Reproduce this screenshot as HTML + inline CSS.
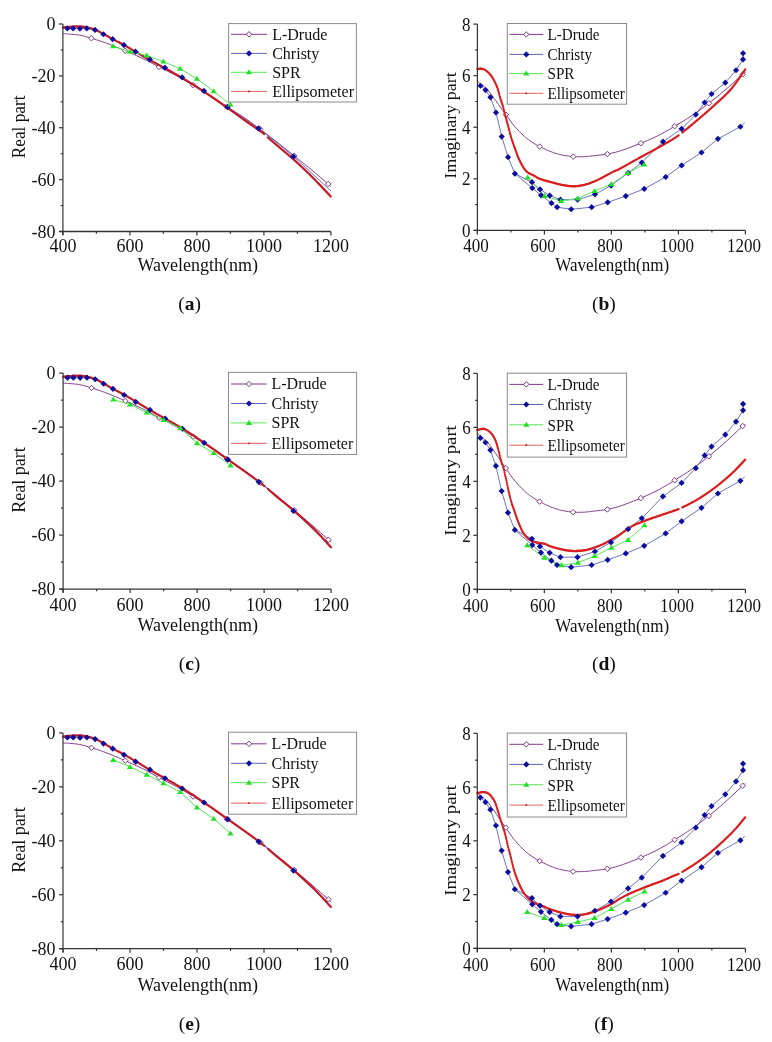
<!DOCTYPE html><html><head><meta charset="utf-8"><style>html,body{margin:0;padding:0;background:#fff;width:772px;height:1042px;overflow:hidden}svg{display:block;will-change:transform}text{font-family:"Liberation Serif",serif;fill:#111}</style></head><body><svg width="772" height="1042" viewBox="0 0 772 1042"><g><path d="M62.90,33.65 L63.39,33.68 L64.03,33.71 L64.77,33.74 L65.62,33.79 L66.55,33.84 L67.53,33.90 L68.56,33.98 L69.60,34.06 L70.68,34.15 L71.84,34.24 L73.05,34.33 L74.31,34.44 L75.61,34.57 L76.94,34.72 L78.29,34.92 L79.65,35.15 L81.01,35.43 L82.38,35.75 L83.78,36.09 L85.20,36.47 L86.66,36.88 L88.17,37.31 L89.74,37.78 L91.38,38.27 L93.07,38.78 L94.82,39.31 L96.62,39.87 L98.47,40.45 L100.38,41.08 L102.34,41.74 L104.37,42.44 L106.45,43.19 L108.62,44.01 L110.90,44.88 L113.24,45.80 L115.64,46.76 L118.06,47.74 L120.48,48.74 L122.87,49.73 L125.21,50.72 L127.52,51.70 L129.84,52.69 L132.16,53.69 L134.46,54.70 L136.74,55.72 L138.98,56.73 L141.17,57.75 L143.30,58.76 L145.34,59.75 L147.28,60.74 L149.16,61.73 L151.00,62.71 L152.85,63.71 L154.73,64.71 L156.67,65.74 L158.71,66.80 L160.85,67.88 L163.08,68.99 L165.37,70.11 L167.69,71.25 L170.02,72.41 L172.33,73.56 L174.60,74.72 L176.80,75.88 L178.93,77.02 L181.01,78.17 L183.05,79.31 L185.07,80.46 L187.08,81.62 L189.10,82.80 L191.14,83.99 L193.22,85.21 L195.33,86.46 L197.46,87.72 L199.62,89.00 L201.78,90.30 L203.94,91.61 L206.08,92.93 L208.21,94.26 L210.30,95.59 L212.35,96.92 L214.36,98.27 L216.34,99.63 L218.32,101.00 L220.30,102.37 L222.29,103.75 L224.31,105.12 L226.38,106.48 L228.50,107.84 L230.67,109.19 L232.87,110.53 L235.09,111.88 L237.31,113.23 L239.51,114.60 L241.68,115.98 L243.80,117.38 L245.86,118.79 L247.88,120.20 L249.87,121.63 L251.84,123.07 L253.81,124.52 L255.80,126.00 L257.82,127.51 L259.88,129.05 L262.00,130.62 L264.16,132.24 L266.34,133.88 L268.55,135.55 L270.76,137.23 L272.96,138.91 L275.15,140.60 L277.30,142.28 L279.43,143.95 L281.53,145.63 L283.63,147.31 L285.72,149.00 L287.80,150.69 L289.88,152.38 L291.96,154.07 L294.05,155.76 L296.14,157.44 L298.22,159.10 L300.30,160.76 L302.38,162.43 L304.47,164.10 L306.57,165.79 L308.67,167.50 L310.80,169.25 L313.05,171.12 L315.45,173.15 L317.93,175.25 L320.39,177.34 L322.74,179.35 L324.89,181.18 L326.74,182.77 L328.22,184.03 L329.28,184.94 L329.99,185.55 L330.42,185.92 L330.65,186.13 L330.74,186.21 L330.76,186.24 L330.79,186.27 L330.90,186.37" fill="none" stroke="#80388a" stroke-width="1"/>
<path d="M91.38,35.52 l2.75,2.75 l-2.75,2.75 l-2.75,-2.75 z" fill="#fff" stroke="#80388a" stroke-width="1.0"/>
<path d="M125.21,47.97 l2.75,2.75 l-2.75,2.75 l-2.75,-2.75 z" fill="#fff" stroke="#80388a" stroke-width="1.0"/>
<path d="M158.88,64.13 l2.75,2.75 l-2.75,2.75 l-2.75,-2.75 z" fill="#fff" stroke="#80388a" stroke-width="1.0"/>
<path d="M193.05,82.36 l2.75,2.75 l-2.75,2.75 l-2.75,-2.75 z" fill="#fff" stroke="#80388a" stroke-width="1.0"/>
<path d="M226.55,103.84 l2.75,2.75 l-2.75,2.75 l-2.75,-2.75 z" fill="#fff" stroke="#80388a" stroke-width="1.0"/>
<path d="M260.21,126.55 l2.75,2.75 l-2.75,2.75 l-2.75,-2.75 z" fill="#fff" stroke="#80388a" stroke-width="1.0"/>
<path d="M294.22,153.15 l2.75,2.75 l-2.75,2.75 l-2.75,-2.75 z" fill="#fff" stroke="#80388a" stroke-width="1.0"/>
<path d="M328.22,181.28 l2.75,2.75 l-2.75,2.75 l-2.75,-2.75 z" fill="#fff" stroke="#80388a" stroke-width="1.0"/>
<path d="M67.36,28.41 L67.79,28.41 L68.37,28.40 L69.05,28.39 L69.81,28.39 L70.63,28.38 L71.47,28.38 L72.31,28.38 L73.12,28.38 L73.92,28.40 L74.75,28.42 L75.60,28.45 L76.47,28.48 L77.34,28.51 L78.22,28.54 L79.09,28.56 L79.95,28.56 L80.80,28.55 L81.63,28.51 L82.47,28.46 L83.30,28.40 L84.14,28.36 L85.01,28.34 L85.90,28.35 L86.82,28.41 L87.78,28.50 L88.77,28.60 L89.79,28.73 L90.83,28.88 L91.88,29.07 L92.93,29.30 L93.98,29.58 L95.03,29.91 L96.06,30.32 L97.09,30.78 L98.12,31.31 L99.15,31.87 L100.19,32.45 L101.24,33.06 L102.31,33.66 L103.40,34.25 L104.50,34.82 L105.61,35.41 L106.73,36.00 L107.86,36.60 L109.02,37.21 L110.20,37.84 L111.42,38.48 L112.68,39.15 L113.99,39.83 L115.34,40.53 L116.73,41.25 L118.15,41.98 L119.58,42.73 L121.02,43.49 L122.47,44.26 L123.90,45.04 L125.32,45.82 L126.72,46.61 L128.12,47.41 L129.52,48.23 L130.95,49.05 L132.42,49.90 L133.94,50.76 L135.53,51.65 L137.18,52.56 L138.90,53.50 L140.66,54.45 L142.46,55.43 L144.29,56.41 L146.14,57.41 L147.99,58.41 L149.83,59.40 L151.67,60.40 L153.50,61.39 L155.33,62.38 L157.19,63.39 L159.06,64.41 L160.97,65.45 L162.91,66.52 L164.91,67.63 L166.93,68.75 L168.96,69.89 L171.02,71.03 L173.11,72.21 L175.26,73.43 L177.48,74.70 L179.77,76.04 L182.16,77.46 L184.65,78.95 L187.25,80.51 L189.92,82.13 L192.66,83.81 L195.45,85.53 L198.28,87.30 L201.12,89.11 L203.97,90.94 L206.79,92.80 L209.60,94.68 L212.41,96.58 L215.26,98.53 L218.19,100.55 L221.21,102.64 L224.37,104.82 L227.69,107.10 L231.18,109.48 L234.81,111.92 L238.56,114.44 L242.43,117.04 L246.37,119.73 L250.39,122.53 L254.45,125.43 L258.54,128.45 L262.67,131.58 L266.88,134.82 L271.14,138.16 L275.47,141.61 L279.85,145.15 L284.27,148.80 L288.74,152.56 L293.25,156.41 L298.07,160.65 L303.33,165.39 L308.81,170.40 L314.24,175.43 L319.41,180.24 L324.06,184.60 L327.97,188.25 L330.90,190.96" fill="none" stroke="#5a64b4" stroke-width="0.9"/>
<path d="M62.90,27.63 L63.22,27.60 L63.63,27.56 L64.10,27.51 L64.64,27.45 L65.22,27.39 L65.83,27.33 L66.47,27.27 L67.12,27.20 L67.77,27.14 L68.41,27.08 L69.02,27.03 L69.60,26.98 L70.16,26.94 L70.72,26.90 L71.28,26.85 L71.83,26.81 L72.39,26.77 L72.95,26.73 L73.51,26.70 L74.07,26.67 L74.62,26.64 L75.18,26.62 L75.74,26.60 L76.30,26.59 L76.87,26.59 L77.45,26.59 L78.04,26.60 L78.63,26.62 L79.23,26.64 L79.82,26.66 L80.40,26.68 L80.97,26.71 L81.51,26.75 L82.04,26.78 L82.54,26.82 L83.00,26.85 L83.43,26.89 L83.82,26.93 L84.19,26.98 L84.53,27.02 L84.85,27.07 L85.16,27.12 L85.46,27.17 L85.75,27.23 L86.05,27.29 L86.36,27.36 L86.68,27.43 L87.02,27.50 L87.37,27.58 L87.72,27.66 L88.07,27.74 L88.42,27.83 L88.78,27.92 L89.13,28.02 L89.50,28.12 L89.86,28.22 L90.23,28.33 L90.61,28.44 L90.99,28.55 L91.38,28.67 L91.76,28.79 L92.15,28.90 L92.54,29.01 L92.94,29.13 L93.34,29.25 L93.74,29.37 L94.15,29.51 L94.58,29.65 L95.01,29.80 L95.46,29.97 L95.92,30.15 L96.40,30.35 L96.89,30.57 L97.39,30.80 L97.89,31.03 L98.41,31.28 L98.94,31.54 L99.48,31.81 L100.03,32.10 L100.61,32.40 L101.20,32.71 L101.81,33.03 L102.44,33.37 L103.10,33.73 L103.78,34.10 L104.48,34.49 L105.21,34.90 L105.95,35.33 L106.72,35.77 L107.50,36.22 L108.29,36.68 L109.11,37.15 L109.93,37.62 L110.77,38.10 L111.62,38.57 L112.48,39.04 L113.36,39.51 L114.25,39.99 L115.17,40.47 L116.10,40.95 L117.05,41.43 L118.01,41.92 L118.97,42.42 L119.95,42.92 L120.93,43.43 L121.91,43.95 L122.89,44.47 L123.87,45.01 L124.85,45.55 L125.82,46.10 L126.80,46.66 L127.78,47.23 L128.76,47.80 L129.75,48.38 L130.75,48.97 L131.76,49.56 L132.78,50.16 L133.82,50.77 L134.86,51.39 L135.93,52.01 L137.01,52.65 L138.10,53.29 L139.21,53.94 L140.32,54.61 L141.45,55.28 L142.59,55.95 L143.74,56.63 L144.90,57.32 L146.07,58.00 L147.26,58.69 L148.46,59.37 L149.66,60.05 L150.88,60.73 L152.11,61.40 L153.35,62.07 L154.60,62.74 L155.87,63.41 L157.14,64.09 L158.43,64.77 L159.73,65.46 L161.04,66.16 L162.37,66.88 L163.72,67.61 L165.07,68.35 L166.44,69.11 L167.82,69.86 L169.19,70.62 L170.58,71.39 L171.99,72.17 L173.41,72.96 L174.85,73.77 L176.32,74.60 L177.81,75.45 L179.34,76.34 L180.90,77.26 L182.50,78.21 L184.13,79.20 L185.81,80.21 L187.52,81.26 L189.26,82.33 L191.02,83.43 L192.82,84.55 L194.63,85.69 L196.47,86.86 L198.32,88.04 L200.18,89.24 L202.05,90.46 L203.94,91.70 L205.85,92.97 L207.81,94.28 L209.82,95.64 L211.85,97.02 L213.90,98.42 L215.95,99.83 L218.00,101.25 L220.03,102.66 L222.03,104.05 L223.98,105.42 L225.88,106.75 L227.72,108.04 L229.51,109.30 L231.26,110.55 L232.99,111.79 L234.69,113.01 L236.35,114.22 L237.99,115.41 L239.59,116.58 L241.17,117.73 L242.71,118.85 L244.22,119.95 L245.70,121.01 L247.15,122.04 L248.57,123.05 L249.98,124.02 L251.36,124.97 L252.71,125.89 L254.03,126.78 L255.32,127.65 L256.56,128.50 L257.77,129.33 L258.93,130.13 L260.04,130.91 L261.09,131.67 L262.09,132.42 L263.01,133.13 L263.84,133.79 L264.40,134.26 M267.58,137.13 L267.73,137.26 L268.34,137.83 L268.98,138.42 L269.66,139.03 L270.40,139.68 L271.18,140.36 L271.97,141.04 L272.78,141.73 L273.60,142.44 L274.43,143.15 L275.28,143.88 L276.14,144.62 L277.02,145.37 L277.91,146.13 L278.82,146.91 L279.74,147.70 L280.68,148.50 L281.65,149.32 L282.63,150.15 L283.64,150.99 L284.66,151.84 L285.70,152.71 L286.75,153.59 L287.82,154.48 L288.89,155.39 L289.97,156.31 L291.05,157.24 L292.13,158.18 L293.21,159.13 L294.31,160.11 L295.42,161.12 L296.55,162.14 L297.69,163.19 L298.84,164.25 L299.98,165.31 L301.13,166.38 L302.26,167.44 L303.38,168.50 L304.49,169.55 L305.56,170.58 L306.61,171.58 L307.63,172.56 L308.61,173.52 L309.57,174.46 L310.50,175.38 L311.42,176.29 L312.34,177.21 L313.25,178.13 L314.17,179.06 L315.10,180.00 L316.04,180.97 L317.01,181.97 L318.00,183.00 L319.07,184.10 L320.21,185.31 L321.42,186.59 L322.67,187.92 L323.92,189.26 L325.16,190.58 L326.36,191.87 L327.50,193.09 L328.55,194.22 L329.48,195.22 L330.27,196.07 L330.90,196.74" fill="none" stroke="#c41c26" stroke-width="1"/>
<path d="M62.90 27.63h0M63.37 27.58h0M63.84 27.54h0M64.31 27.49h0M64.78 27.44h0M65.24 27.39h0M65.71 27.34h0M66.18 27.30h0M66.65 27.25h0M67.12 27.20h0M67.59 27.16h0M68.06 27.12h0M68.53 27.07h0M69.00 27.03h0M69.47 26.99h0M69.93 26.96h0M70.40 26.92h0M70.87 26.88h0M71.34 26.85h0M71.81 26.81h0M72.28 26.78h0M72.75 26.75h0M73.22 26.71h0M73.69 26.69h0M74.16 26.66h0M74.62 26.64h0M75.09 26.62h0M75.56 26.61h0M76.03 26.60h0M76.50 26.59h0M76.97 26.59h0M77.44 26.59h0M77.91 26.60h0M78.38 26.61h0M78.85 26.62h0M79.31 26.64h0M79.78 26.66h0M80.25 26.68h0M80.72 26.70h0M81.19 26.73h0M81.66 26.76h0M82.13 26.79h0M82.60 26.82h0M83.07 26.86h0M83.54 26.90h0M84.00 26.95h0M84.47 27.01h0M84.94 27.09h0M85.41 27.17h0M85.88 27.26h0M86.35 27.36h0M86.82 27.46h0M87.29 27.56h0M87.76 27.67h0M88.23 27.78h0M88.69 27.90h0M89.16 28.03h0M89.63 28.16h0M90.10 28.29h0M90.57 28.43h0M91.04 28.57h0M91.51 28.71h0M91.98 28.85h0M92.45 28.99h0M92.92 29.12h0M93.38 29.26h0M93.85 29.41h0M94.32 29.56h0M94.79 29.73h0M95.26 29.90h0M95.73 30.08h0M96.20 30.27h0M96.67 30.47h0M97.14 30.68h0M97.61 30.90h0M98.07 31.12h0M98.54 31.35h0M99.01 31.58h0M99.48 31.82h0M99.95 32.06h0M100.42 32.30h0M100.89 32.54h0M101.36 32.79h0M101.83 33.04h0M102.30 33.29h0M102.76 33.55h0M103.23 33.80h0M103.70 34.06h0M104.17 34.32h0M104.64 34.58h0M105.11 34.85h0M105.58 35.12h0M106.05 35.39h0M106.52 35.66h0M106.99 35.93h0M107.45 36.20h0M107.92 36.47h0M108.39 36.74h0M108.86 37.01h0M109.33 37.28h0M109.80 37.55h0M110.27 37.81h0M110.74 38.08h0M111.21 38.34h0M111.68 38.60h0M112.14 38.86h0M112.61 39.12h0M113.08 39.37h0M113.55 39.62h0M114.02 39.87h0M114.49 40.11h0M114.96 40.36h0M115.43 40.60h0M115.90 40.84h0M116.37 41.08h0M116.83 41.32h0M117.30 41.56h0M117.77 41.80h0M118.24 42.04h0M118.71 42.28h0M119.18 42.52h0M119.65 42.77h0M120.12 43.01h0M120.59 43.25h0M121.06 43.50h0M121.52 43.74h0M121.99 43.99h0M122.46 44.24h0M122.93 44.50h0M123.40 44.75h0M123.87 45.01h0M124.34 45.27h0M124.81 45.53h0M125.28 45.80h0M125.75 46.06h0M126.21 46.33h0M126.68 46.60h0M127.15 46.87h0M127.62 47.14h0M128.09 47.41h0M128.56 47.68h0M129.03 47.96h0M129.50 48.23h0M129.97 48.51h0M130.44 48.78h0M130.90 49.06h0M131.37 49.33h0M131.84 49.61h0M132.31 49.89h0M132.78 50.16h0M133.25 50.44h0M133.72 50.72h0M134.19 50.99h0M134.66 51.27h0M135.13 51.54h0M135.59 51.82h0M136.06 52.09h0M136.53 52.37h0M137.00 52.64h0M137.47 52.92h0M137.94 53.19h0M138.41 53.47h0M138.88 53.75h0M139.35 54.03h0M139.82 54.31h0M140.28 54.58h0M140.75 54.86h0M141.22 55.14h0M141.69 55.42h0M142.16 55.70h0M142.63 55.98h0M143.10 56.25h0M143.57 56.53h0M144.04 56.81h0M144.51 57.08h0M144.97 57.36h0M145.44 57.63h0M145.91 57.91h0M146.38 58.18h0M146.85 58.45h0M147.32 58.72h0M147.79 58.99h0M148.26 59.26h0M148.73 59.52h0M149.20 59.79h0M149.66 60.05h0M150.13 60.31h0M150.60 60.57h0M151.07 60.83h0M151.54 61.09h0M152.01 61.35h0M152.48 61.60h0M152.95 61.85h0M153.42 62.11h0M153.89 62.36h0M154.35 62.61h0M154.82 62.86h0M155.29 63.11h0M155.76 63.36h0M156.23 63.61h0M156.70 63.86h0M157.17 64.11h0M157.64 64.35h0M158.11 64.60h0M158.58 64.85h0M159.04 65.10h0M159.51 65.35h0M159.98 65.60h0M160.45 65.85h0M160.92 66.10h0M161.39 66.35h0M161.86 66.60h0M162.33 66.85h0M162.80 67.11h0M163.27 67.36h0M163.73 67.62h0M164.20 67.87h0M164.67 68.13h0M165.14 68.39h0M165.61 68.65h0M166.08 68.91h0M166.55 69.17h0M167.02 69.42h0M167.49 69.68h0M167.96 69.94h0M168.42 70.20h0M168.89 70.46h0M169.36 70.72h0M169.83 70.97h0M170.30 71.23h0M170.77 71.49h0M171.24 71.75h0M171.71 72.01h0M172.18 72.27h0M172.65 72.53h0M173.11 72.79h0M173.58 73.06h0M174.05 73.32h0M174.52 73.58h0M174.99 73.85h0M175.46 74.11h0M175.93 74.38h0M176.40 74.64h0M176.87 74.91h0M177.34 75.18h0M177.80 75.45h0M178.27 75.72h0M178.74 75.99h0M179.21 76.27h0M179.68 76.54h0M180.15 76.82h0M180.62 77.09h0M181.09 77.37h0M181.56 77.65h0M182.03 77.93h0M182.49 78.21h0M182.96 78.49h0M183.43 78.77h0M183.90 79.06h0M184.37 79.34h0M184.84 79.63h0M185.31 79.91h0M185.78 80.20h0M186.25 80.48h0M186.72 80.77h0M187.18 81.06h0M187.65 81.34h0M188.12 81.63h0M188.59 81.92h0M189.06 82.21h0M189.53 82.50h0M190.00 82.79h0M190.47 83.08h0M190.94 83.37h0M191.41 83.67h0M191.87 83.96h0M192.34 84.25h0M192.81 84.55h0M193.28 84.84h0M193.75 85.14h0M194.22 85.43h0M194.69 85.73h0M195.16 86.02h0M195.63 86.32h0M196.10 86.62h0M196.56 86.92h0M197.03 87.22h0M197.50 87.52h0M197.97 87.82h0M198.44 88.12h0M198.91 88.42h0M199.38 88.73h0M199.85 89.03h0M200.32 89.33h0M200.79 89.64h0M201.25 89.94h0M201.72 90.25h0M202.19 90.55h0M202.66 90.86h0M203.13 91.17h0M203.60 91.48h0M204.07 91.79h0M204.54 92.10h0M205.01 92.41h0M205.48 92.72h0M205.94 93.03h0M206.41 93.34h0M206.88 93.66h0M207.35 93.97h0M207.82 94.29h0M208.29 94.60h0M208.76 94.92h0M209.23 95.24h0M209.70 95.55h0M210.17 95.87h0M210.63 96.19h0M211.10 96.51h0M211.57 96.83h0M212.04 97.15h0M212.51 97.47h0M212.98 97.79h0M213.45 98.11h0M213.92 98.43h0M214.39 98.76h0M214.86 99.08h0M215.32 99.40h0M215.79 99.73h0M216.26 100.05h0M216.73 100.37h0M217.20 100.70h0M217.67 101.02h0M218.14 101.35h0M218.61 101.67h0M219.08 102.00h0M219.55 102.32h0M220.01 102.65h0M220.48 102.98h0M220.95 103.30h0M221.42 103.63h0M221.89 103.96h0M222.36 104.28h0M222.83 104.61h0M223.30 104.94h0M223.77 105.27h0M224.24 105.59h0M224.70 105.92h0M225.17 106.25h0M225.64 106.58h0M226.11 106.91h0M226.58 107.24h0M227.05 107.57h0M227.52 107.90h0M227.99 108.23h0M228.46 108.56h0M228.93 108.89h0M229.39 109.22h0M229.86 109.55h0M230.33 109.89h0M230.80 110.22h0M231.27 110.56h0M231.74 110.89h0M232.21 111.23h0M232.68 111.57h0M233.15 111.90h0M233.62 112.24h0M234.08 112.58h0M234.55 112.92h0M235.02 113.26h0M235.49 113.60h0M235.96 113.94h0M236.43 114.28h0M236.90 114.62h0M237.37 114.96h0M237.84 115.30h0M238.31 115.65h0M238.77 115.99h0M239.24 116.33h0M239.71 116.67h0M240.18 117.01h0M240.65 117.35h0M241.12 117.70h0M241.59 118.04h0M242.06 118.38h0M242.53 118.72h0M243.00 119.06h0M243.46 119.40h0M243.93 119.74h0M244.40 120.08h0M244.87 120.41h0M245.34 120.75h0M245.81 121.09h0M246.28 121.42h0M246.75 121.76h0M247.22 122.09h0M247.69 122.42h0M248.15 122.75h0M248.62 123.08h0M249.09 123.41h0M249.56 123.73h0M250.03 124.06h0M250.50 124.38h0M250.97 124.70h0M251.44 125.02h0M251.91 125.34h0M252.38 125.66h0M252.84 125.98h0M253.31 126.30h0M253.78 126.61h0M254.25 126.93h0M254.72 127.25h0M255.19 127.57h0M255.66 127.89h0M256.13 128.20h0M256.60 128.52h0M257.07 128.84h0M257.53 129.17h0M258.00 129.49h0M258.47 129.81h0M258.94 130.14h0M259.41 130.47h0M259.88 130.80h0M260.35 131.14h0M260.82 131.48h0M261.29 131.82h0M261.76 132.17h0M262.22 132.52h0M262.69 132.88h0M263.16 133.25h0M263.63 133.63h0M264.10 134.01h0M267.85 137.38h0M268.32 137.81h0M268.79 138.25h0M269.26 138.67h0M269.73 139.09h0M270.20 139.50h0M270.67 139.91h0M271.14 140.32h0M271.60 140.72h0M272.07 141.13h0M272.54 141.53h0M273.01 141.93h0M273.48 142.34h0M273.95 142.74h0M274.42 143.14h0M274.89 143.55h0M275.36 143.95h0M275.83 144.35h0M276.29 144.75h0M276.76 145.15h0M277.23 145.55h0M277.70 145.95h0M278.17 146.36h0M278.64 146.76h0M279.11 147.16h0M279.58 147.56h0M280.05 147.96h0M280.52 148.36h0M280.98 148.76h0M281.45 149.15h0M281.92 149.55h0M282.39 149.94h0M282.86 150.34h0M283.33 150.73h0M283.80 151.12h0M284.27 151.51h0M284.74 151.91h0M285.21 152.30h0M285.67 152.69h0M286.14 153.08h0M286.61 153.47h0M287.08 153.87h0M287.55 154.26h0M288.02 154.65h0M288.49 155.05h0M288.96 155.45h0M289.43 155.85h0M289.90 156.25h0M290.36 156.65h0M290.83 157.05h0M291.30 157.46h0M291.77 157.87h0M292.24 158.28h0M292.71 158.69h0M293.18 159.10h0M293.65 159.52h0M294.12 159.94h0M294.59 160.37h0M295.05 160.79h0M295.52 161.21h0M295.99 161.64h0M296.46 162.06h0M296.93 162.49h0M297.40 162.92h0M297.87 163.35h0M298.34 163.79h0M298.81 164.22h0M299.28 164.65h0M299.74 165.09h0M300.21 165.53h0M300.68 165.96h0M301.15 166.40h0M301.62 166.84h0M302.09 167.28h0M302.56 167.72h0M303.03 168.17h0M303.50 168.61h0M303.97 169.06h0M304.43 169.50h0M304.90 169.95h0M305.37 170.40h0M305.84 170.84h0M306.31 171.29h0M306.78 171.75h0M307.25 172.20h0M307.72 172.65h0M308.19 173.11h0M308.66 173.56h0M309.12 174.02h0M309.59 174.48h0M310.06 174.95h0M310.53 175.41h0M311.00 175.87h0M311.47 176.34h0M311.94 176.81h0M312.41 177.28h0M312.88 177.75h0M313.35 178.22h0M313.81 178.70h0M314.28 179.18h0M314.75 179.65h0M315.22 180.13h0M315.69 180.61h0M316.16 181.10h0M316.63 181.58h0M317.10 182.06h0M317.57 182.55h0M318.04 183.03h0M318.50 183.52h0M318.97 184.01h0M319.44 184.50h0M319.91 184.99h0M320.38 185.49h0M320.85 185.99h0M321.32 186.48h0M321.79 186.98h0M322.26 187.48h0M322.73 187.98h0M323.19 188.48h0M323.66 188.98h0M324.13 189.48h0M324.60 189.98h0M325.07 190.48h0M325.54 190.99h0M326.01 191.49h0M326.48 191.99h0M326.95 192.50h0M327.42 193.00h0M327.89 193.51h0M328.35 194.01h0M328.82 194.52h0M329.29 195.02h0M329.76 195.52h0M330.23 196.03h0M330.70 196.53h0" fill="none" stroke="#c41c26" stroke-width="2.30" stroke-linecap="round"/>
<path d="M113.15,46.31 L129.90,51.75 L146.65,55.38 L163.40,61.61 L180.15,68.87 L196.90,78.73 L213.65,91.18 L230.40,104.41" fill="none" stroke="#58e458" stroke-width="1"/>
<path d="M67.36,25.31 l3.10,3.10 l-3.10,3.10 l-3.10,-3.10 z" fill="#0c0ca0" stroke="none" stroke-width="0"/>
<path d="M73.12,25.28 l3.10,3.10 l-3.10,3.10 l-3.10,-3.10 z" fill="#0c0ca0" stroke="none" stroke-width="0"/>
<path d="M79.95,25.46 l3.10,3.10 l-3.10,3.10 l-3.10,-3.10 z" fill="#0c0ca0" stroke="none" stroke-width="0"/>
<path d="M86.82,25.31 l3.10,3.10 l-3.10,3.10 l-3.10,-3.10 z" fill="#0c0ca0" stroke="none" stroke-width="0"/>
<path d="M95.03,26.81 l3.10,3.10 l-3.10,3.10 l-3.10,-3.10 z" fill="#0c0ca0" stroke="none" stroke-width="0"/>
<path d="M103.40,31.15 l3.10,3.10 l-3.10,3.10 l-3.10,-3.10 z" fill="#0c0ca0" stroke="none" stroke-width="0"/>
<path d="M112.68,36.05 l3.10,3.10 l-3.10,3.10 l-3.10,-3.10 z" fill="#0c0ca0" stroke="none" stroke-width="0"/>
<path d="M123.90,41.94 l3.10,3.10 l-3.10,3.10 l-3.10,-3.10 z" fill="#0c0ca0" stroke="none" stroke-width="0"/>
<path d="M135.53,48.55 l3.10,3.10 l-3.10,3.10 l-3.10,-3.10 z" fill="#0c0ca0" stroke="none" stroke-width="0"/>
<path d="M149.83,56.30 l3.10,3.10 l-3.10,3.10 l-3.10,-3.10 z" fill="#0c0ca0" stroke="none" stroke-width="0"/>
<path d="M164.91,64.53 l3.10,3.10 l-3.10,3.10 l-3.10,-3.10 z" fill="#0c0ca0" stroke="none" stroke-width="0"/>
<path d="M182.16,74.36 l3.10,3.10 l-3.10,3.10 l-3.10,-3.10 z" fill="#0c0ca0" stroke="none" stroke-width="0"/>
<path d="M203.97,87.84 l3.10,3.10 l-3.10,3.10 l-3.10,-3.10 z" fill="#0c0ca0" stroke="none" stroke-width="0"/>
<path d="M227.69,104.00 l3.10,3.10 l-3.10,3.10 l-3.10,-3.10 z" fill="#0c0ca0" stroke="none" stroke-width="0"/>
<path d="M258.54,125.35 l3.10,3.10 l-3.10,3.10 l-3.10,-3.10 z" fill="#0c0ca0" stroke="none" stroke-width="0"/>
<path d="M293.25,153.31 l3.10,3.10 l-3.10,3.10 l-3.10,-3.10 z" fill="#0c0ca0" stroke="none" stroke-width="0"/>
<path d="M113.15,43.31 L116.25,48.31 L110.05,48.31 z" fill="#22e022"/>
<path d="M129.90,48.75 L133.00,53.75 L126.80,53.75 z" fill="#22e022"/>
<path d="M146.65,52.38 L149.75,57.38 L143.55,57.38 z" fill="#22e022"/>
<path d="M163.40,58.61 L166.50,63.61 L160.30,63.61 z" fill="#22e022"/>
<path d="M180.15,65.87 L183.25,70.87 L177.05,70.87 z" fill="#22e022"/>
<path d="M196.90,75.73 L200.00,80.73 L193.80,80.73 z" fill="#22e022"/>
<path d="M213.65,88.18 L216.75,93.18 L210.55,93.18 z" fill="#22e022"/>
<path d="M230.40,101.41 L233.50,106.41 L227.30,106.41 z" fill="#22e022"/>
<line x1="62.90" y1="24.00" x2="62.90" y2="235.00" stroke="#333" stroke-width="1.2"/>
<line x1="59.40" y1="231.50" x2="330.90" y2="231.50" stroke="#333" stroke-width="1.3"/>
<line x1="58.90" y1="24.00" x2="62.90" y2="24.00" stroke="#333" stroke-width="1.2"/>
<line x1="58.90" y1="75.88" x2="62.90" y2="75.88" stroke="#333" stroke-width="1.2"/>
<line x1="58.90" y1="127.75" x2="62.90" y2="127.75" stroke="#333" stroke-width="1.2"/>
<line x1="58.90" y1="179.62" x2="62.90" y2="179.62" stroke="#333" stroke-width="1.2"/>
<line x1="58.90" y1="231.50" x2="62.90" y2="231.50" stroke="#333" stroke-width="1.2"/>
<line x1="60.70" y1="49.94" x2="62.90" y2="49.94" stroke="#333" stroke-width="1.2"/>
<line x1="60.70" y1="101.81" x2="62.90" y2="101.81" stroke="#333" stroke-width="1.2"/>
<line x1="60.70" y1="153.69" x2="62.90" y2="153.69" stroke="#333" stroke-width="1.2"/>
<line x1="60.70" y1="205.56" x2="62.90" y2="205.56" stroke="#333" stroke-width="1.2"/>
<line x1="62.90" y1="231.50" x2="62.90" y2="235.50" stroke="#333" stroke-width="1.2"/>
<line x1="129.90" y1="231.50" x2="129.90" y2="235.50" stroke="#333" stroke-width="1.2"/>
<line x1="196.90" y1="231.50" x2="196.90" y2="235.50" stroke="#333" stroke-width="1.2"/>
<line x1="263.90" y1="231.50" x2="263.90" y2="235.50" stroke="#333" stroke-width="1.2"/>
<line x1="330.90" y1="231.50" x2="330.90" y2="235.50" stroke="#333" stroke-width="1.2"/>
<line x1="96.40" y1="231.50" x2="96.40" y2="233.70" stroke="#333" stroke-width="1.2"/>
<line x1="163.40" y1="231.50" x2="163.40" y2="233.70" stroke="#333" stroke-width="1.2"/>
<line x1="230.40" y1="231.50" x2="230.40" y2="233.70" stroke="#333" stroke-width="1.2"/>
<line x1="297.40" y1="231.50" x2="297.40" y2="233.70" stroke="#333" stroke-width="1.2"/>
<text transform="translate(55.50,30.07) scale(1.0000,1.0000)" font-size="18.00" text-anchor="end">0</text>
<text transform="translate(55.50,81.95) scale(1.0000,1.0000)" font-size="18.00" text-anchor="end">-20</text>
<text transform="translate(55.50,133.82) scale(1.0000,1.0000)" font-size="18.00" text-anchor="end">-40</text>
<text transform="translate(55.50,185.70) scale(1.0000,1.0000)" font-size="18.00" text-anchor="end">-60</text>
<text transform="translate(55.50,237.57) scale(1.0000,1.0000)" font-size="18.00" text-anchor="end">-80</text>
<text transform="translate(62.90,252.10) scale(1.0000,1.0000)" font-size="18.00" text-anchor="middle">400</text>
<text transform="translate(129.90,252.10) scale(1.0000,1.0000)" font-size="18.00" text-anchor="middle">600</text>
<text transform="translate(196.90,252.10) scale(1.0000,1.0000)" font-size="18.00" text-anchor="middle">800</text>
<text transform="translate(263.90,252.10) scale(1.0000,1.0000)" font-size="18.00" text-anchor="middle">1000</text>
<text transform="translate(330.90,252.10) scale(1.0000,1.0000)" font-size="18.00" text-anchor="middle">1200</text>
<text transform="translate(197.70,271.30) scale(1.0000,1.0000)" font-size="18.00" text-anchor="middle">Wavelength(nm)</text>
<text transform="translate(24.80,126.90) rotate(-90) scale(0.9600,1.0000)" font-size="18" text-anchor="middle">Real part</text>
<text x="189.50" y="310.00" font-size="19.5" text-anchor="middle">(<tspan font-weight="bold">a</tspan>)</text>
<rect x="228.60" y="23.60" width="127.80" height="78.40" fill="#fff" stroke="#8a8a8a" stroke-width="1"/>
<line x1="231.00" y1="34.30" x2="267.00" y2="34.30" stroke="#80388a" stroke-width="1"/>
<path d="M249.00,31.55 l2.75,2.75 l-2.75,2.75 l-2.75,-2.75 z" fill="#fff" stroke="#80388a" stroke-width="1.0"/>
<text transform="translate(272.20,39.74) scale(1.0000,1.0000)" font-size="16.00" text-anchor="start">L-Drude</text>
<line x1="231.00" y1="53.40" x2="267.00" y2="53.40" stroke="#5a64b4" stroke-width="1"/>
<path d="M249.00,50.30 l3.10,3.10 l-3.10,3.10 l-3.10,-3.10 z" fill="#0c0ca0" stroke="none" stroke-width="0"/>
<text transform="translate(272.20,58.84) scale(1.0000,1.0000)" font-size="16.00" text-anchor="start">Christy</text>
<line x1="231.00" y1="72.30" x2="267.00" y2="72.30" stroke="#58e458" stroke-width="1"/>
<path d="M249.00,69.30 L252.10,74.30 L245.90,74.30 z" fill="#22e022"/>
<text transform="translate(272.20,77.74) scale(1.0000,1.0000)" font-size="16.00" text-anchor="start">SPR</text>
<line x1="231.00" y1="91.40" x2="267.00" y2="91.40" stroke="#e06060" stroke-width="1"/>
<circle cx="249.00" cy="91.40" r="0.9" fill="#c00"/>
<text transform="translate(272.20,96.84) scale(1.0000,1.0000)" font-size="16.00" text-anchor="start">Ellipsometer</text></g>
<g><path d="M477.40,82.12 L477.57,82.19 L477.77,82.23 L478.00,82.28 L478.28,82.36 L478.61,82.49 L479.02,82.70 L479.50,82.99 L480.08,83.41 L480.78,83.96 L481.61,84.61 L482.53,85.36 L483.51,86.18 L484.53,87.06 L485.54,87.98 L486.53,88.92 L487.45,89.86 L488.32,90.82 L489.17,91.82 L490.01,92.85 L490.84,93.92 L491.67,95.01 L492.49,96.12 L493.32,97.24 L494.15,98.37 L495.00,99.53 L495.86,100.75 L496.74,102.00 L497.60,103.25 L498.46,104.49 L499.29,105.70 L500.09,106.85 L500.85,107.91 L501.54,108.85 L502.15,109.68 L502.71,110.43 L503.26,111.15 L503.82,111.88 L504.42,112.68 L505.10,113.57 L505.88,114.61 L506.75,115.82 L507.69,117.15 L508.70,118.57 L509.75,120.06 L510.84,121.58 L511.96,123.09 L513.10,124.56 L514.25,125.96 L515.45,127.33 L516.72,128.73 L518.04,130.13 L519.38,131.50 L520.70,132.83 L521.98,134.08 L523.19,135.24 L524.30,136.28 L525.28,137.17 L526.16,137.93 L526.97,138.59 L527.73,139.18 L528.49,139.73 L529.26,140.26 L530.09,140.82 L531.00,141.43 L531.97,142.08 L532.97,142.72 L534.00,143.37 L535.06,144.01 L536.16,144.66 L537.30,145.30 L538.48,145.95 L539.71,146.59 L541.01,147.25 L542.40,147.93 L543.84,148.62 L545.32,149.30 L546.81,149.97 L548.28,150.60 L549.72,151.20 L551.10,151.75 L552.41,152.24 L553.66,152.70 L554.88,153.12 L556.08,153.50 L557.29,153.87 L558.53,154.21 L559.81,154.53 L561.15,154.84 L562.57,155.14 L564.04,155.43 L565.55,155.69 L567.10,155.94 L568.65,156.16 L570.19,156.35 L571.72,156.52 L573.21,156.65 L574.67,156.74 L576.14,156.80 L577.59,156.83 L579.03,156.83 L580.46,156.80 L581.86,156.76 L583.24,156.71 L584.60,156.65 L585.90,156.57 L587.14,156.47 L588.35,156.36 L589.54,156.23 L590.74,156.09 L591.98,155.93 L593.27,155.78 L594.65,155.62 L596.10,155.46 L597.61,155.31 L599.17,155.16 L600.76,155.00 L602.39,154.82 L604.04,154.61 L605.71,154.36 L607.38,154.07 L609.04,153.74 L610.68,153.40 L612.32,153.02 L614.00,152.62 L615.72,152.17 L617.52,151.66 L619.43,151.10 L621.45,150.46 L623.64,149.73 L625.98,148.92 L628.43,148.04 L630.96,147.11 L633.51,146.14 L636.04,145.16 L638.51,144.19 L640.88,143.24 L643.16,142.31 L645.40,141.38 L647.60,140.44 L649.78,139.50 L651.93,138.54 L654.06,137.56 L656.18,136.55 L658.30,135.50 L660.40,134.42 L662.46,133.32 L664.50,132.19 L666.53,131.04 L668.55,129.86 L670.59,128.67 L672.64,127.45 L674.71,126.22 L676.82,124.97 L678.94,123.71 L681.07,122.43 L683.22,121.13 L685.36,119.80 L687.51,118.45 L689.66,117.06 L691.80,115.65 L693.94,114.19 L696.09,112.70 L698.24,111.18 L700.38,109.63 L702.53,108.06 L704.66,106.48 L706.78,104.88 L708.88,103.27 L710.96,101.65 L713.01,100.04 L715.05,98.41 L717.07,96.76 L719.10,95.08 L721.14,93.38 L723.20,91.64 L725.30,89.86 L727.53,87.93 L729.93,85.81 L732.41,83.61 L734.87,81.40 L737.22,79.28 L739.38,77.34 L741.24,75.68 L742.72,74.39 L743.78,73.49 L744.49,72.93 L744.92,72.63 L745.15,72.52 L745.24,72.52 L745.26,72.58 L745.29,72.63 L745.40,72.58" fill="none" stroke="#80388a" stroke-width="1"/>
<path d="M505.88,111.86 l2.75,2.75 l-2.75,2.75 l-2.75,-2.75 z" fill="#fff" stroke="#80388a" stroke-width="1.0"/>
<path d="M539.71,143.84 l2.75,2.75 l-2.75,2.75 l-2.75,-2.75 z" fill="#fff" stroke="#80388a" stroke-width="1.0"/>
<path d="M573.21,153.90 l2.75,2.75 l-2.75,2.75 l-2.75,-2.75 z" fill="#fff" stroke="#80388a" stroke-width="1.0"/>
<path d="M607.38,151.32 l2.75,2.75 l-2.75,2.75 l-2.75,-2.75 z" fill="#fff" stroke="#80388a" stroke-width="1.0"/>
<path d="M640.88,140.49 l2.75,2.75 l-2.75,2.75 l-2.75,-2.75 z" fill="#fff" stroke="#80388a" stroke-width="1.0"/>
<path d="M674.71,123.47 l2.75,2.75 l-2.75,2.75 l-2.75,-2.75 z" fill="#fff" stroke="#80388a" stroke-width="1.0"/>
<path d="M708.88,100.52 l2.75,2.75 l-2.75,2.75 l-2.75,-2.75 z" fill="#fff" stroke="#80388a" stroke-width="1.0"/>
<path d="M742.72,71.64 l2.75,2.75 l-2.75,2.75 l-2.75,-2.75 z" fill="#fff" stroke="#80388a" stroke-width="1.0"/>
<path d="M480.41,85.73 L485.61,90.12 L490.46,97.34 L495.99,112.55 L501.72,136.53 L508.05,157.16 L514.92,173.67 L532.00,182.18 L540.04,189.40 L549.76,195.59 L560.48,199.71 L577.56,199.71 L594.99,194.30 L611.06,185.53 L628.15,172.89 L641.78,162.58 L662.99,141.69 L681.62,128.80 L695.82,114.61 L704.66,102.49 L711.56,93.98 L725.30,82.64 L736.02,70.26 L743.05,59.43 L743.05,53.24" fill="none" stroke="#5a64b4" stroke-width="0.9"/>
<path d="M514.92,173.67 L532.34,188.11 L541.05,195.33 L551.43,203.07 L557.13,207.19 L571.20,209.25 L591.63,207.19 L607.71,202.29 L625.80,196.10 L644.23,188.88 L665.67,177.02 L681.62,165.42 L701.51,152.52 L717.93,138.85 L740.38,126.73 L744.73,122.87" fill="none" stroke="#5a64b4" stroke-width="0.9"/>
<path d="M477.40,68.97 L477.66,68.96 L477.99,68.94 L478.38,68.90 L478.81,68.87 L479.29,68.83 L479.79,68.79 L480.30,68.77 L480.82,68.76 L481.34,68.77 L481.84,68.81 L482.32,68.87 L482.76,68.97 L483.17,69.10 L483.58,69.25 L483.98,69.42 L484.37,69.61 L484.76,69.82 L485.15,70.05 L485.53,70.30 L485.91,70.57 L486.29,70.85 L486.68,71.15 L487.06,71.47 L487.45,71.81 L487.84,72.16 L488.23,72.52 L488.62,72.89 L489.01,73.28 L489.40,73.68 L489.79,74.11 L490.19,74.56 L490.58,75.04 L490.97,75.54 L491.36,76.07 L491.75,76.63 L492.14,77.22 L492.53,77.85 L492.93,78.51 L493.34,79.20 L493.74,79.92 L494.15,80.66 L494.55,81.43 L494.95,82.22 L495.34,83.04 L495.73,83.88 L496.11,84.73 L496.47,85.61 L496.83,86.51 L497.18,87.44 L497.52,88.44 L497.85,89.49 L498.18,90.57 L498.50,91.68 L498.81,92.79 L499.12,93.90 L499.41,94.99 L499.70,96.04 L499.98,97.05 L500.25,98.00 L500.51,98.88 L500.77,99.70 L501.01,100.46 L501.24,101.18 L501.47,101.86 L501.68,102.51 L501.89,103.14 L502.09,103.74 L502.28,104.33 L502.47,104.90 L502.65,105.47 L502.82,106.04 L502.99,106.62 L503.15,107.19 L503.30,107.73 L503.43,108.25 L503.56,108.76 L503.68,109.26 L503.80,109.75 L503.91,110.24 L504.02,110.73 L504.14,111.23 L504.26,111.74 L504.39,112.26 L504.53,112.81 L504.68,113.37 L504.84,113.94 L504.99,114.51 L505.15,115.09 L505.31,115.68 L505.48,116.27 L505.64,116.88 L505.81,117.49 L505.99,118.11 L506.16,118.74 L506.33,119.38 L506.51,120.03 L506.69,120.69 L506.87,121.37 L507.06,122.06 L507.25,122.76 L507.44,123.47 L507.63,124.19 L507.82,124.91 L508.02,125.64 L508.21,126.36 L508.40,127.09 L508.60,127.82 L508.79,128.54 L508.98,129.27 L509.17,130.01 L509.37,130.76 L509.56,131.51 L509.75,132.27 L509.94,133.02 L510.14,133.77 L510.33,134.51 L510.52,135.24 L510.72,135.95 L510.91,136.64 L511.10,137.31 L511.29,137.95 L511.49,138.58 L511.68,139.19 L511.87,139.79 L512.07,140.38 L512.26,140.95 L512.45,141.51 L512.64,142.07 L512.84,142.63 L513.03,143.17 L513.22,143.72 L513.41,144.27 L513.60,144.81 L513.79,145.34 L513.98,145.87 L514.17,146.38 L514.36,146.89 L514.55,147.40 L514.74,147.90 L514.93,148.41 L515.12,148.91 L515.31,149.42 L515.50,149.94 L515.69,150.46 L515.88,150.99 L516.07,151.52 L516.25,152.06 L516.44,152.60 L516.62,153.14 L516.81,153.68 L516.99,154.22 L517.19,154.77 L517.38,155.31 L517.58,155.84 L517.79,156.38 L518.00,156.91 L518.22,157.43 L518.45,157.96 L518.67,158.48 L518.91,159.00 L519.14,159.52 L519.39,160.03 L519.63,160.55 L519.88,161.06 L520.13,161.57 L520.39,162.08 L520.65,162.59 L520.92,163.09 L521.19,163.60 L521.46,164.12 L521.74,164.64 L522.02,165.17 L522.30,165.69 L522.59,166.21 L522.88,166.71 L523.18,167.21 L523.48,167.69 L523.78,168.16 L524.09,168.60 L524.40,169.03 L524.71,169.42 L525.02,169.80 L525.32,170.16 L525.63,170.51 L525.94,170.84 L526.25,171.15 L526.58,171.46 L526.91,171.76 L527.26,172.05 L527.62,172.33 L527.99,172.61 L528.39,172.89 L528.81,173.17 L529.26,173.43 L529.73,173.68 L530.22,173.93 L530.73,174.16 L531.23,174.39 L531.74,174.62 L532.25,174.84 L532.75,175.06 L533.23,175.28 L533.68,175.51 L534.12,175.73 L534.51,175.96 L534.88,176.18 L535.23,176.40 L535.55,176.62 L535.87,176.84 L536.18,177.05 L536.50,177.27 L536.83,177.48 L537.17,177.69 L537.54,177.90 L537.93,178.10 L538.37,178.31 L538.84,178.51 L539.35,178.72 L539.89,178.93 L540.45,179.13 L541.02,179.33 L541.61,179.53 L542.20,179.73 L542.80,179.92 L543.38,180.11 L543.96,180.29 L544.53,180.46 L545.07,180.63 L545.58,180.78 L546.06,180.92 L546.51,181.04 L546.94,181.16 L547.38,181.26 L547.81,181.37 L548.27,181.48 L548.74,181.59 L549.25,181.72 L549.81,181.85 L550.42,182.01 L551.10,182.18 L551.84,182.37 L552.64,182.59 L553.48,182.83 L554.36,183.08 L555.28,183.35 L556.23,183.61 L557.20,183.88 L558.18,184.14 L559.18,184.38 L560.18,184.62 L561.17,184.83 L562.15,185.01 L563.14,185.19 L564.14,185.36 L565.16,185.52 L566.19,185.68 L567.22,185.83 L568.27,185.96 L569.32,186.08 L570.37,186.18 L571.42,186.25 L572.47,186.30 L573.51,186.32 L574.55,186.30 L575.58,186.26 L576.61,186.19 L577.64,186.10 L578.68,185.98 L579.71,185.84 L580.74,185.67 L581.77,185.49 L582.80,185.28 L583.83,185.05 L584.87,184.80 L585.91,184.53 L586.94,184.24 L587.99,183.92 L589.03,183.58 L590.08,183.20 L591.13,182.81 L592.18,182.39 L593.23,181.95 L594.28,181.50 L595.33,181.03 L596.37,180.55 L597.42,180.07 L598.47,179.58 L599.51,179.08 L600.56,178.57 L601.64,178.02 L602.73,177.44 L603.83,176.84 L604.93,176.23 L606.02,175.62 L607.09,175.01 L608.14,174.42 L609.15,173.85 L610.12,173.32 L611.04,172.82 L611.90,172.38 L612.66,172.01 L613.30,171.71 L613.85,171.48 L614.33,171.29 L614.79,171.12 L615.23,170.96 L615.70,170.78 L616.23,170.57 L616.83,170.31 L617.55,169.98 L618.41,169.56 L619.44,169.03 L620.64,168.38 L621.99,167.65 L623.46,166.84 L625.04,165.96 L626.69,165.03 L628.41,164.06 L630.17,163.07 L631.95,162.06 L633.73,161.06 L635.49,160.07 L637.21,159.11 L638.87,158.19 L640.49,157.31 L642.11,156.43 L643.73,155.56 L645.35,154.69 L646.97,153.82 L648.59,152.96 L650.20,152.09 L651.82,151.21 L653.44,150.33 L655.06,149.44 L656.68,148.54 L658.30,147.62 L659.92,146.70 L661.54,145.80 L663.16,144.89 L664.78,143.98 L666.40,143.07 L668.01,142.14 L669.63,141.20 L671.25,140.23 L672.87,139.23 L674.49,138.20 L676.11,137.13 L677.73,136.02 L678.90,135.17 M682.09,132.78 L682.68,132.32 L684.36,130.99 L686.03,129.64 L687.70,128.27 L689.35,126.89 L690.98,125.51 L692.59,124.15 L694.15,122.82 L695.68,121.53 L697.16,120.29 L698.58,119.10 L699.93,117.96 L701.23,116.86 L702.50,115.79 L703.73,114.73 L704.95,113.68 L706.16,112.62 L707.38,111.55 L708.62,110.45 L709.89,109.31 L711.20,108.12 L712.57,106.88 L713.99,105.58 L715.47,104.26 L716.98,102.90 L718.53,101.52 L720.09,100.11 L721.66,98.67 L723.22,97.21 L724.78,95.73 L726.31,94.23 L727.81,92.70 L729.26,91.16 L730.66,89.60 L732.05,87.95 L733.48,86.15 L734.93,84.25 L736.37,82.28 L737.79,80.30 L739.16,78.33 L740.47,76.43 L741.70,74.62 L742.83,72.96 L743.84,71.48 L744.70,70.22 L745.40,69.23" fill="none" stroke="#d81e1e" stroke-width="1"/>
<path d="M477.40 68.97h0M477.87 68.95h0M478.34 68.91h0M478.81 68.87h0M479.28 68.83h0M479.74 68.80h0M480.21 68.77h0M480.68 68.76h0M481.15 68.77h0M481.62 68.79h0M482.09 68.84h0M482.56 68.92h0M483.03 69.05h0M483.50 69.22h0M483.97 69.41h0M484.43 69.64h0M484.90 69.91h0M485.37 70.20h0M485.84 70.52h0M486.31 70.86h0M486.78 71.24h0M487.25 71.63h0M487.72 72.05h0M488.19 72.47h0M488.66 72.92h0M489.12 73.39h0M489.59 73.89h0M490.06 74.42h0M490.53 74.98h0M491.00 75.58h0M491.47 76.23h0M491.94 76.92h0M492.41 77.65h0M492.88 78.42h0M493.35 79.22h0M493.81 80.05h0M494.28 80.92h0M494.75 81.84h0M495.22 82.79h0M495.69 83.80h0M496.16 84.86h0M496.63 86.00h0M497.10 87.23h0M497.57 88.60h0M498.04 90.11h0M498.50 91.70h0M498.97 93.38h0M499.44 95.10h0M499.91 96.80h0M500.38 98.43h0M500.85 99.96h0M501.32 101.42h0M501.79 102.84h0M502.26 104.25h0M502.73 105.72h0M503.19 107.34h0M503.66 109.19h0M504.13 111.19h0M504.60 113.06h0M505.07 114.80h0M505.54 116.50h0M506.01 118.19h0M506.48 119.91h0M506.95 121.64h0M507.42 123.39h0M507.88 125.14h0M508.35 126.90h0M508.82 128.67h0M509.29 130.47h0M509.76 132.31h0M510.23 134.13h0M510.70 135.89h0M511.17 137.53h0M511.64 139.06h0M512.11 140.49h0M512.57 141.87h0M513.04 143.22h0M513.51 144.56h0M513.98 145.86h0M514.45 147.13h0M514.92 148.38h0M515.39 149.64h0M515.86 150.93h0M516.33 152.28h0M516.80 153.65h0M517.26 154.99h0M517.73 156.24h0M518.20 157.39h0M518.67 158.47h0M519.14 159.51h0M519.61 160.50h0M520.08 161.46h0M520.55 162.39h0M521.02 163.29h0M521.49 164.17h0M521.95 165.05h0M522.42 165.91h0M522.89 166.73h0M523.36 167.50h0M523.83 168.23h0M524.30 168.89h0M524.77 169.50h0M525.24 170.06h0M525.71 170.59h0M526.18 171.08h0M526.64 171.52h0M527.11 171.93h0M527.58 172.31h0M528.05 172.66h0M528.52 172.98h0M528.99 173.27h0M529.46 173.54h0M529.93 173.78h0M530.40 174.01h0M530.87 174.23h0M531.33 174.44h0M531.80 174.65h0M532.27 174.85h0M532.74 175.06h0M533.21 175.28h0M533.68 175.50h0M534.15 175.75h0M534.62 176.02h0M535.09 176.31h0M535.56 176.62h0M536.02 176.94h0M536.49 177.26h0M536.96 177.56h0M537.43 177.84h0M537.90 178.09h0M538.37 178.31h0M538.84 178.51h0M539.31 178.70h0M539.78 178.88h0M540.25 179.06h0M540.71 179.23h0M541.18 179.39h0M541.65 179.55h0M542.12 179.70h0M542.59 179.86h0M543.06 180.01h0M543.53 180.16h0M544.00 180.30h0M544.47 180.45h0M544.94 180.59h0M545.40 180.73h0M545.87 180.87h0M546.34 181.00h0M546.81 181.12h0M547.28 181.24h0M547.75 181.36h0M548.22 181.47h0M548.69 181.58h0M549.16 181.69h0M549.63 181.81h0M550.09 181.92h0M550.56 182.04h0M551.03 182.16h0M551.50 182.28h0M551.97 182.41h0M552.44 182.54h0M552.91 182.67h0M553.38 182.80h0M553.85 182.94h0M554.32 183.07h0M554.78 183.20h0M555.25 183.34h0M555.72 183.47h0M556.19 183.60h0M556.66 183.73h0M557.13 183.86h0M557.60 183.98h0M558.07 184.10h0M558.54 184.22h0M559.01 184.34h0M559.47 184.45h0M559.94 184.56h0M560.41 184.67h0M560.88 184.77h0M561.35 184.86h0M561.82 184.95h0M562.29 185.04h0M562.76 185.12h0M563.23 185.20h0M563.70 185.28h0M564.16 185.36h0M564.63 185.44h0M565.10 185.51h0M565.57 185.59h0M566.04 185.66h0M566.51 185.73h0M566.98 185.80h0M567.45 185.86h0M567.92 185.92h0M568.39 185.98h0M568.85 186.03h0M569.32 186.08h0M569.79 186.13h0M570.26 186.17h0M570.73 186.20h0M571.20 186.24h0M571.67 186.26h0M572.14 186.29h0M572.61 186.30h0M573.08 186.31h0M573.54 186.32h0M574.01 186.31h0M574.48 186.30h0M574.95 186.29h0M575.42 186.27h0M575.89 186.24h0M576.36 186.21h0M576.83 186.17h0M577.30 186.13h0M577.77 186.08h0M578.23 186.03h0M578.70 185.97h0M579.17 185.91h0M579.64 185.85h0M580.11 185.77h0M580.58 185.70h0M581.05 185.62h0M581.52 185.53h0M581.99 185.45h0M582.46 185.35h0M582.92 185.25h0M583.39 185.15h0M583.86 185.05h0M584.33 184.93h0M584.80 184.82h0M585.27 184.70h0M585.74 184.57h0M586.21 184.45h0M586.68 184.32h0M587.15 184.18h0M587.61 184.04h0M588.08 183.89h0M588.55 183.74h0M589.02 183.58h0M589.49 183.41h0M589.96 183.25h0M590.43 183.07h0M590.90 182.89h0M591.37 182.71h0M591.84 182.52h0M592.30 182.34h0M592.77 182.14h0M593.24 181.94h0M593.71 181.74h0M594.18 181.54h0M594.65 181.33h0M595.12 181.12h0M595.59 180.91h0M596.06 180.70h0M596.53 180.48h0M596.99 180.27h0M597.46 180.05h0M597.93 179.83h0M598.40 179.61h0M598.87 179.38h0M599.34 179.16h0M599.81 178.94h0M600.28 178.71h0M600.75 178.47h0M601.22 178.23h0M601.68 177.99h0M602.15 177.74h0M602.62 177.49h0M603.09 177.24h0M603.56 176.99h0M604.03 176.73h0M604.50 176.47h0M604.97 176.21h0M605.44 175.94h0M605.91 175.68h0M606.37 175.42h0M606.84 175.15h0M607.31 174.89h0M607.78 174.62h0M608.25 174.36h0M608.72 174.10h0M609.19 173.83h0M609.66 173.57h0M610.13 173.32h0M610.60 173.06h0M611.06 172.81h0M611.53 172.57h0M612.00 172.33h0M612.47 172.10h0M612.94 171.88h0M613.41 171.67h0M613.88 171.47h0M614.35 171.28h0M614.82 171.11h0M615.29 170.94h0M615.75 170.76h0M616.22 170.57h0M616.69 170.37h0M617.16 170.16h0M617.63 169.94h0M618.10 169.71h0M618.57 169.47h0M619.04 169.23h0M619.51 168.99h0M619.98 168.74h0M620.44 168.49h0M620.91 168.24h0M621.38 167.98h0M621.85 167.73h0M622.32 167.47h0M622.79 167.21h0M623.26 166.95h0M623.73 166.69h0M624.20 166.43h0M624.67 166.17h0M625.13 165.90h0M625.60 165.64h0M626.07 165.38h0M626.54 165.11h0M627.01 164.85h0M627.48 164.59h0M627.95 164.32h0M628.42 164.06h0M628.89 163.79h0M629.36 163.53h0M629.82 163.26h0M630.29 163.00h0M630.76 162.73h0M631.23 162.47h0M631.70 162.21h0M632.17 161.94h0M632.64 161.68h0M633.11 161.41h0M633.58 161.15h0M634.05 160.88h0M634.51 160.62h0M634.98 160.36h0M635.45 160.09h0M635.92 159.83h0M636.39 159.57h0M636.86 159.31h0M637.33 159.05h0M637.80 158.79h0M638.27 158.53h0M638.74 158.27h0M639.20 158.01h0M639.67 157.75h0M640.14 157.50h0M640.61 157.24h0M641.08 156.99h0M641.55 156.73h0M642.02 156.48h0M642.49 156.23h0M642.96 155.97h0M643.43 155.72h0M643.89 155.47h0M644.36 155.22h0M644.83 154.97h0M645.30 154.71h0M645.77 154.46h0M646.24 154.21h0M646.71 153.96h0M647.18 153.71h0M647.65 153.46h0M648.12 153.21h0M648.58 152.96h0M649.05 152.71h0M649.52 152.45h0M649.99 152.20h0M650.46 151.95h0M650.93 151.70h0M651.40 151.44h0M651.87 151.19h0M652.34 150.93h0M652.81 150.68h0M653.27 150.42h0M653.74 150.17h0M654.21 149.91h0M654.68 149.65h0M655.15 149.39h0M655.62 149.13h0M656.09 148.87h0M656.56 148.61h0M657.03 148.34h0M657.50 148.08h0M657.96 147.81h0M658.43 147.55h0M658.90 147.28h0M659.37 147.01h0M659.84 146.75h0M660.31 146.48h0M660.78 146.22h0M661.25 145.96h0M661.72 145.70h0M662.19 145.43h0M662.65 145.17h0M663.12 144.91h0M663.59 144.65h0M664.06 144.38h0M664.53 144.12h0M665.00 143.86h0M665.47 143.59h0M665.94 143.33h0M666.41 143.06h0M666.88 142.79h0M667.34 142.53h0M667.81 142.26h0M668.28 141.99h0M668.75 141.71h0M669.22 141.44h0M669.69 141.16h0M670.16 140.88h0M670.63 140.60h0M671.10 140.32h0M671.57 140.04h0M672.03 139.75h0M672.50 139.46h0M672.97 139.17h0M673.44 138.87h0M673.91 138.57h0M674.38 138.27h0M674.85 137.97h0M675.32 137.66h0M675.79 137.35h0M676.26 137.03h0M676.72 136.71h0M677.19 136.39h0M677.66 136.06h0M678.13 135.73h0M678.60 135.39h0M682.35 132.57h0M682.82 132.21h0M683.29 131.84h0M683.76 131.47h0M684.23 131.09h0M684.70 130.72h0M685.17 130.34h0M685.64 129.96h0M686.10 129.58h0M686.57 129.19h0M687.04 128.80h0M687.51 128.42h0M687.98 128.03h0M688.45 127.64h0M688.92 127.25h0M689.39 126.85h0M689.86 126.46h0M690.33 126.06h0M690.79 125.67h0M691.26 125.27h0M691.73 124.88h0M692.20 124.48h0M692.67 124.08h0M693.14 123.68h0M693.61 123.29h0M694.08 122.89h0M694.55 122.49h0M695.02 122.09h0M695.48 121.70h0M695.95 121.30h0M696.42 120.91h0M696.89 120.51h0M697.36 120.12h0M697.83 119.73h0M698.30 119.33h0M698.77 118.94h0M699.24 118.55h0M699.71 118.15h0M700.17 117.76h0M700.64 117.36h0M701.11 116.96h0M701.58 116.57h0M702.05 116.17h0M702.52 115.77h0M702.99 115.37h0M703.46 114.96h0M703.93 114.56h0M704.40 114.16h0M704.86 113.75h0M705.33 113.34h0M705.80 112.94h0M706.27 112.53h0M706.74 112.11h0M707.21 111.70h0M707.68 111.29h0M708.15 110.87h0M708.62 110.45h0M709.09 110.03h0M709.55 109.61h0M710.02 109.19h0M710.49 108.77h0M710.96 108.34h0M711.43 107.92h0M711.90 107.49h0M712.37 107.06h0M712.84 106.63h0M713.31 106.21h0M713.78 105.78h0M714.24 105.36h0M714.71 104.94h0M715.18 104.51h0M715.65 104.09h0M716.12 103.67h0M716.59 103.25h0M717.06 102.83h0M717.53 102.41h0M718.00 101.99h0M718.47 101.57h0M718.93 101.15h0M719.40 100.73h0M719.87 100.30h0M720.34 99.88h0M720.81 99.45h0M721.28 99.02h0M721.75 98.59h0M722.22 98.15h0M722.69 97.71h0M723.16 97.28h0M723.62 96.83h0M724.09 96.39h0M724.56 95.94h0M725.03 95.48h0M725.50 95.02h0M725.97 94.56h0M726.44 94.10h0M726.91 93.62h0M727.38 93.14h0M727.85 92.66h0M728.31 92.17h0M728.78 91.67h0M729.25 91.17h0M729.72 90.65h0M730.19 90.12h0M730.66 89.60h0M731.13 89.04h0M731.60 88.49h0M732.07 87.93h0M732.54 87.34h0M733.00 86.75h0M733.47 86.16h0M733.94 85.54h0M734.41 84.92h0M734.88 84.31h0M735.35 83.67h0M735.82 83.03h0M736.29 82.39h0M736.76 81.74h0M737.23 81.08h0M737.69 80.43h0M738.16 79.76h0M738.63 79.09h0M739.10 78.42h0M739.57 77.74h0M740.04 77.06h0M740.51 76.38h0M740.98 75.69h0M741.45 75.00h0M741.92 74.31h0M742.39 73.62h0M742.85 72.93h0M743.32 72.23h0M743.79 71.54h0M744.26 70.86h0M744.73 70.18h0M745.20 69.51h0" fill="none" stroke="#d81e1e" stroke-width="2.30" stroke-linecap="round"/>
<path d="M527.65,177.54 L544.74,196.10 L561.15,201.00 L577.90,198.42 L594.65,190.95 L611.40,184.24 L627.81,172.89 L644.23,164.38" fill="none" stroke="#58e458" stroke-width="1"/>
<path d="M480.41,82.63 l3.10,3.10 l-3.10,3.10 l-3.10,-3.10 z" fill="#0c0ca0" stroke="none" stroke-width="0"/>
<path d="M485.61,87.02 l3.10,3.10 l-3.10,3.10 l-3.10,-3.10 z" fill="#0c0ca0" stroke="none" stroke-width="0"/>
<path d="M490.46,94.24 l3.10,3.10 l-3.10,3.10 l-3.10,-3.10 z" fill="#0c0ca0" stroke="none" stroke-width="0"/>
<path d="M495.99,109.45 l3.10,3.10 l-3.10,3.10 l-3.10,-3.10 z" fill="#0c0ca0" stroke="none" stroke-width="0"/>
<path d="M501.72,133.43 l3.10,3.10 l-3.10,3.10 l-3.10,-3.10 z" fill="#0c0ca0" stroke="none" stroke-width="0"/>
<path d="M508.05,154.06 l3.10,3.10 l-3.10,3.10 l-3.10,-3.10 z" fill="#0c0ca0" stroke="none" stroke-width="0"/>
<path d="M514.92,170.57 l3.10,3.10 l-3.10,3.10 l-3.10,-3.10 z" fill="#0c0ca0" stroke="none" stroke-width="0"/>
<path d="M532.00,179.08 l3.10,3.10 l-3.10,3.10 l-3.10,-3.10 z" fill="#0c0ca0" stroke="none" stroke-width="0"/>
<path d="M540.04,186.30 l3.10,3.10 l-3.10,3.10 l-3.10,-3.10 z" fill="#0c0ca0" stroke="none" stroke-width="0"/>
<path d="M549.76,192.49 l3.10,3.10 l-3.10,3.10 l-3.10,-3.10 z" fill="#0c0ca0" stroke="none" stroke-width="0"/>
<path d="M560.48,196.61 l3.10,3.10 l-3.10,3.10 l-3.10,-3.10 z" fill="#0c0ca0" stroke="none" stroke-width="0"/>
<path d="M577.56,196.61 l3.10,3.10 l-3.10,3.10 l-3.10,-3.10 z" fill="#0c0ca0" stroke="none" stroke-width="0"/>
<path d="M594.99,191.20 l3.10,3.10 l-3.10,3.10 l-3.10,-3.10 z" fill="#0c0ca0" stroke="none" stroke-width="0"/>
<path d="M611.06,182.43 l3.10,3.10 l-3.10,3.10 l-3.10,-3.10 z" fill="#0c0ca0" stroke="none" stroke-width="0"/>
<path d="M628.15,169.79 l3.10,3.10 l-3.10,3.10 l-3.10,-3.10 z" fill="#0c0ca0" stroke="none" stroke-width="0"/>
<path d="M641.78,159.48 l3.10,3.10 l-3.10,3.10 l-3.10,-3.10 z" fill="#0c0ca0" stroke="none" stroke-width="0"/>
<path d="M662.99,138.59 l3.10,3.10 l-3.10,3.10 l-3.10,-3.10 z" fill="#0c0ca0" stroke="none" stroke-width="0"/>
<path d="M681.62,125.70 l3.10,3.10 l-3.10,3.10 l-3.10,-3.10 z" fill="#0c0ca0" stroke="none" stroke-width="0"/>
<path d="M695.82,111.51 l3.10,3.10 l-3.10,3.10 l-3.10,-3.10 z" fill="#0c0ca0" stroke="none" stroke-width="0"/>
<path d="M704.66,99.39 l3.10,3.10 l-3.10,3.10 l-3.10,-3.10 z" fill="#0c0ca0" stroke="none" stroke-width="0"/>
<path d="M711.56,90.88 l3.10,3.10 l-3.10,3.10 l-3.10,-3.10 z" fill="#0c0ca0" stroke="none" stroke-width="0"/>
<path d="M725.30,79.54 l3.10,3.10 l-3.10,3.10 l-3.10,-3.10 z" fill="#0c0ca0" stroke="none" stroke-width="0"/>
<path d="M736.02,67.16 l3.10,3.10 l-3.10,3.10 l-3.10,-3.10 z" fill="#0c0ca0" stroke="none" stroke-width="0"/>
<path d="M743.05,56.33 l3.10,3.10 l-3.10,3.10 l-3.10,-3.10 z" fill="#0c0ca0" stroke="none" stroke-width="0"/>
<path d="M743.05,50.14 l3.10,3.10 l-3.10,3.10 l-3.10,-3.10 z" fill="#0c0ca0" stroke="none" stroke-width="0"/>
<path d="M532.34,185.01 l3.10,3.10 l-3.10,3.10 l-3.10,-3.10 z" fill="#0c0ca0" stroke="none" stroke-width="0"/>
<path d="M541.05,192.23 l3.10,3.10 l-3.10,3.10 l-3.10,-3.10 z" fill="#0c0ca0" stroke="none" stroke-width="0"/>
<path d="M551.43,199.97 l3.10,3.10 l-3.10,3.10 l-3.10,-3.10 z" fill="#0c0ca0" stroke="none" stroke-width="0"/>
<path d="M557.13,204.09 l3.10,3.10 l-3.10,3.10 l-3.10,-3.10 z" fill="#0c0ca0" stroke="none" stroke-width="0"/>
<path d="M571.20,206.15 l3.10,3.10 l-3.10,3.10 l-3.10,-3.10 z" fill="#0c0ca0" stroke="none" stroke-width="0"/>
<path d="M591.63,204.09 l3.10,3.10 l-3.10,3.10 l-3.10,-3.10 z" fill="#0c0ca0" stroke="none" stroke-width="0"/>
<path d="M607.71,199.19 l3.10,3.10 l-3.10,3.10 l-3.10,-3.10 z" fill="#0c0ca0" stroke="none" stroke-width="0"/>
<path d="M625.80,193.00 l3.10,3.10 l-3.10,3.10 l-3.10,-3.10 z" fill="#0c0ca0" stroke="none" stroke-width="0"/>
<path d="M644.23,185.78 l3.10,3.10 l-3.10,3.10 l-3.10,-3.10 z" fill="#0c0ca0" stroke="none" stroke-width="0"/>
<path d="M665.67,173.92 l3.10,3.10 l-3.10,3.10 l-3.10,-3.10 z" fill="#0c0ca0" stroke="none" stroke-width="0"/>
<path d="M681.62,162.32 l3.10,3.10 l-3.10,3.10 l-3.10,-3.10 z" fill="#0c0ca0" stroke="none" stroke-width="0"/>
<path d="M701.51,149.42 l3.10,3.10 l-3.10,3.10 l-3.10,-3.10 z" fill="#0c0ca0" stroke="none" stroke-width="0"/>
<path d="M717.93,135.75 l3.10,3.10 l-3.10,3.10 l-3.10,-3.10 z" fill="#0c0ca0" stroke="none" stroke-width="0"/>
<path d="M740.38,123.63 l3.10,3.10 l-3.10,3.10 l-3.10,-3.10 z" fill="#0c0ca0" stroke="none" stroke-width="0"/>
<path d="M527.65,174.54 L530.75,179.54 L524.55,179.54 z" fill="#22e022"/>
<path d="M544.74,193.10 L547.84,198.10 L541.63,198.10 z" fill="#22e022"/>
<path d="M561.15,198.00 L564.25,203.00 L558.05,203.00 z" fill="#22e022"/>
<path d="M577.90,195.42 L581.00,200.42 L574.80,200.42 z" fill="#22e022"/>
<path d="M594.65,187.95 L597.75,192.95 L591.55,192.95 z" fill="#22e022"/>
<path d="M611.40,181.24 L614.50,186.24 L608.30,186.24 z" fill="#22e022"/>
<path d="M627.81,169.89 L630.91,174.89 L624.71,174.89 z" fill="#22e022"/>
<path d="M644.23,161.38 L647.33,166.38 L641.13,166.38 z" fill="#22e022"/>
<line x1="477.40" y1="24.10" x2="477.40" y2="233.90" stroke="#333" stroke-width="1.2"/>
<line x1="473.90" y1="230.40" x2="745.40" y2="230.40" stroke="#333" stroke-width="1.3"/>
<line x1="473.40" y1="24.10" x2="477.40" y2="24.10" stroke="#333" stroke-width="1.2"/>
<line x1="473.40" y1="75.68" x2="477.40" y2="75.68" stroke="#333" stroke-width="1.2"/>
<line x1="473.40" y1="127.25" x2="477.40" y2="127.25" stroke="#333" stroke-width="1.2"/>
<line x1="473.40" y1="178.83" x2="477.40" y2="178.83" stroke="#333" stroke-width="1.2"/>
<line x1="473.40" y1="230.40" x2="477.40" y2="230.40" stroke="#333" stroke-width="1.2"/>
<line x1="475.20" y1="49.89" x2="477.40" y2="49.89" stroke="#333" stroke-width="1.2"/>
<line x1="475.20" y1="101.46" x2="477.40" y2="101.46" stroke="#333" stroke-width="1.2"/>
<line x1="475.20" y1="153.04" x2="477.40" y2="153.04" stroke="#333" stroke-width="1.2"/>
<line x1="475.20" y1="204.61" x2="477.40" y2="204.61" stroke="#333" stroke-width="1.2"/>
<line x1="477.40" y1="230.40" x2="477.40" y2="234.40" stroke="#333" stroke-width="1.2"/>
<line x1="544.40" y1="230.40" x2="544.40" y2="234.40" stroke="#333" stroke-width="1.2"/>
<line x1="611.40" y1="230.40" x2="611.40" y2="234.40" stroke="#333" stroke-width="1.2"/>
<line x1="678.40" y1="230.40" x2="678.40" y2="234.40" stroke="#333" stroke-width="1.2"/>
<line x1="745.40" y1="230.40" x2="745.40" y2="234.40" stroke="#333" stroke-width="1.2"/>
<line x1="510.90" y1="230.40" x2="510.90" y2="232.60" stroke="#333" stroke-width="1.2"/>
<line x1="577.90" y1="230.40" x2="577.90" y2="232.60" stroke="#333" stroke-width="1.2"/>
<line x1="644.90" y1="230.40" x2="644.90" y2="232.60" stroke="#333" stroke-width="1.2"/>
<line x1="711.90" y1="230.40" x2="711.90" y2="232.60" stroke="#333" stroke-width="1.2"/>
<text transform="translate(470.55,30.68) scale(0.9450,1.0000)" font-size="18.00" text-anchor="end">8</text>
<text transform="translate(470.55,82.25) scale(0.9450,1.0000)" font-size="18.00" text-anchor="end">6</text>
<text transform="translate(470.55,133.82) scale(0.9450,1.0000)" font-size="18.00" text-anchor="end">4</text>
<text transform="translate(470.55,185.40) scale(0.9450,1.0000)" font-size="18.00" text-anchor="end">2</text>
<text transform="translate(470.55,236.97) scale(0.9450,1.0000)" font-size="18.00" text-anchor="end">0</text>
<text transform="translate(475.90,252.00) scale(0.9450,1.0000)" font-size="18.00" text-anchor="middle">400</text>
<text transform="translate(542.90,252.00) scale(0.9450,1.0000)" font-size="18.00" text-anchor="middle">600</text>
<text transform="translate(609.90,252.00) scale(0.9450,1.0000)" font-size="18.00" text-anchor="middle">800</text>
<text transform="translate(676.90,252.00) scale(0.9450,1.0000)" font-size="18.00" text-anchor="middle">1000</text>
<text transform="translate(743.90,252.00) scale(0.9450,1.0000)" font-size="18.00" text-anchor="middle">1200</text>
<text transform="translate(612.20,271.30) scale(0.9450,1.0000)" font-size="18.00" text-anchor="middle">Wavelength(nm)</text>
<text transform="translate(455.90,125.50) rotate(-90) scale(1.0000,0.9450)" font-size="18" text-anchor="middle">Imaginary part</text>
<text x="603.90" y="310.00" font-size="19.5" text-anchor="middle">(<tspan font-weight="bold">b</tspan>)</text>
<rect x="507.30" y="23.50" width="119.30" height="80.70" fill="#fff" stroke="#8a8a8a" stroke-width="1"/>
<line x1="509.40" y1="34.40" x2="543.20" y2="34.40" stroke="#80388a" stroke-width="1"/>
<path d="M526.30,31.65 l2.75,2.75 l-2.75,2.75 l-2.75,-2.75 z" fill="#fff" stroke="#80388a" stroke-width="1.0"/>
<text transform="translate(547.50,39.84) scale(0.9450,1.0000)" font-size="16.00" text-anchor="start">L-Drude</text>
<line x1="509.40" y1="54.40" x2="543.20" y2="54.40" stroke="#5a64b4" stroke-width="1"/>
<path d="M526.30,51.30 l3.10,3.10 l-3.10,3.10 l-3.10,-3.10 z" fill="#0c0ca0" stroke="none" stroke-width="0"/>
<text transform="translate(547.50,59.84) scale(0.9450,1.0000)" font-size="16.00" text-anchor="start">Christy</text>
<line x1="509.40" y1="73.60" x2="543.20" y2="73.60" stroke="#58e458" stroke-width="1"/>
<path d="M526.30,70.60 L529.40,75.60 L523.20,75.60 z" fill="#22e022"/>
<text transform="translate(547.50,79.04) scale(0.9450,1.0000)" font-size="16.00" text-anchor="start">SPR</text>
<line x1="509.40" y1="93.30" x2="543.20" y2="93.30" stroke="#e06060" stroke-width="1"/>
<circle cx="526.30" cy="93.30" r="0.9" fill="#c00"/>
<text transform="translate(547.50,98.74) scale(0.9450,1.0000)" font-size="16.00" text-anchor="start">Ellipsometer</text></g>
<g><path d="M63.10,383.14 L63.59,383.17 L64.23,383.21 L64.97,383.24 L65.82,383.29 L66.75,383.34 L67.73,383.41 L68.76,383.49 L69.80,383.58 L70.88,383.67 L72.04,383.76 L73.25,383.86 L74.51,383.97 L75.81,384.10 L77.14,384.26 L78.49,384.46 L79.85,384.71 L81.21,385.00 L82.58,385.33 L83.98,385.69 L85.40,386.08 L86.86,386.50 L88.37,386.96 L89.94,387.44 L91.58,387.95 L93.27,388.48 L95.02,389.04 L96.82,389.62 L98.67,390.23 L100.58,390.88 L102.54,391.56 L104.57,392.30 L106.65,393.08 L108.82,393.93 L111.10,394.84 L113.44,395.79 L115.84,396.79 L118.26,397.82 L120.68,398.85 L123.07,399.89 L125.41,400.91 L127.72,401.93 L130.04,402.96 L132.36,404.01 L134.66,405.06 L136.94,406.12 L139.18,407.17 L141.37,408.23 L143.50,409.28 L145.54,410.32 L147.48,411.35 L149.36,412.37 L151.21,413.40 L153.05,414.43 L154.93,415.48 L156.87,416.55 L158.91,417.65 L161.05,418.78 L163.28,419.93 L165.57,421.10 L167.89,422.29 L170.22,423.49 L172.53,424.69 L174.80,425.90 L177.00,427.10 L179.13,428.29 L181.21,429.49 L183.25,430.68 L185.27,431.88 L187.28,433.08 L189.30,434.31 L191.34,435.55 L193.41,436.82 L195.53,438.11 L197.66,439.43 L199.82,440.77 L201.98,442.12 L204.14,443.48 L206.28,444.86 L208.41,446.24 L210.50,447.62 L212.55,449.01 L214.56,450.42 L216.54,451.83 L218.52,453.26 L220.50,454.68 L222.49,456.11 L224.51,457.54 L226.58,458.96 L228.70,460.37 L230.87,461.78 L233.07,463.18 L235.29,464.58 L237.51,465.99 L239.71,467.41 L241.88,468.84 L244.00,470.30 L246.06,471.77 L248.08,473.24 L250.07,474.73 L252.04,476.22 L254.01,477.74 L256.00,479.28 L258.02,480.85 L260.08,482.45 L262.20,484.09 L264.36,485.77 L266.54,487.48 L268.75,489.22 L270.96,490.97 L273.16,492.72 L275.35,494.47 L277.50,496.22 L279.63,497.96 L281.73,499.71 L283.83,501.47 L285.92,503.22 L288.00,504.98 L290.08,506.74 L292.16,508.50 L294.25,510.26 L296.34,512.01 L298.42,513.74 L300.50,515.47 L302.58,517.20 L304.67,518.94 L306.77,520.70 L308.87,522.48 L311.00,524.30 L313.25,526.25 L315.65,528.36 L318.13,530.54 L320.59,532.72 L322.94,534.81 L325.09,536.72 L326.94,538.38 L328.42,539.69 L329.48,540.63 L330.19,541.27 L330.62,541.66 L330.85,541.87 L330.94,541.96 L330.96,541.99 L330.99,542.02 L331.10,542.12" fill="none" stroke="#80388a" stroke-width="1"/>
<path d="M91.58,385.20 l2.75,2.75 l-2.75,2.75 l-2.75,-2.75 z" fill="#fff" stroke="#80388a" stroke-width="1.0"/>
<path d="M125.41,398.16 l2.75,2.75 l-2.75,2.75 l-2.75,-2.75 z" fill="#fff" stroke="#80388a" stroke-width="1.0"/>
<path d="M159.08,414.99 l2.75,2.75 l-2.75,2.75 l-2.75,-2.75 z" fill="#fff" stroke="#80388a" stroke-width="1.0"/>
<path d="M193.25,433.97 l2.75,2.75 l-2.75,2.75 l-2.75,-2.75 z" fill="#fff" stroke="#80388a" stroke-width="1.0"/>
<path d="M226.75,456.32 l2.75,2.75 l-2.75,2.75 l-2.75,-2.75 z" fill="#fff" stroke="#80388a" stroke-width="1.0"/>
<path d="M260.42,479.96 l2.75,2.75 l-2.75,2.75 l-2.75,-2.75 z" fill="#fff" stroke="#80388a" stroke-width="1.0"/>
<path d="M294.42,507.65 l2.75,2.75 l-2.75,2.75 l-2.75,-2.75 z" fill="#fff" stroke="#80388a" stroke-width="1.0"/>
<path d="M328.42,536.94 l2.75,2.75 l-2.75,2.75 l-2.75,-2.75 z" fill="#fff" stroke="#80388a" stroke-width="1.0"/>
<path d="M67.56,377.69 L67.99,377.69 L68.57,377.68 L69.25,377.67 L70.01,377.66 L70.83,377.66 L71.67,377.66 L72.51,377.66 L73.32,377.66 L74.12,377.68 L74.95,377.70 L75.80,377.73 L76.67,377.77 L77.54,377.80 L78.42,377.82 L79.29,377.84 L80.15,377.85 L81.00,377.84 L81.83,377.80 L82.67,377.74 L83.50,377.68 L84.34,377.64 L85.21,377.62 L86.10,377.63 L87.02,377.69 L87.98,377.78 L88.97,377.89 L89.99,378.02 L91.03,378.18 L92.08,378.38 L93.13,378.62 L94.18,378.91 L95.23,379.26 L96.26,379.67 L97.29,380.16 L98.32,380.71 L99.35,381.29 L100.39,381.90 L101.44,382.53 L102.51,383.15 L103.60,383.77 L104.70,384.37 L105.81,384.97 L106.93,385.59 L108.06,386.22 L109.22,386.85 L110.40,387.51 L111.62,388.18 L112.88,388.87 L114.19,389.58 L115.54,390.31 L116.93,391.06 L118.35,391.82 L119.78,392.60 L121.22,393.39 L122.67,394.19 L124.10,395.00 L125.52,395.81 L126.92,396.64 L128.32,397.47 L129.72,398.32 L131.15,399.18 L132.62,400.06 L134.14,400.96 L135.73,401.88 L137.38,402.83 L139.10,403.81 L140.86,404.80 L142.66,405.81 L144.49,406.84 L146.34,407.87 L148.19,408.91 L150.03,409.96 L151.87,410.99 L153.70,412.02 L155.53,413.06 L157.39,414.10 L159.26,415.16 L161.17,416.25 L163.11,417.36 L165.11,418.51 L167.13,419.69 L169.16,420.87 L171.22,422.06 L173.31,423.29 L175.46,424.56 L177.68,425.88 L179.97,427.27 L182.36,428.75 L184.85,430.30 L187.45,431.92 L190.12,433.61 L192.86,435.36 L195.65,437.15 L198.48,438.99 L201.32,440.87 L204.17,442.79 L206.99,444.72 L209.80,446.67 L212.61,448.65 L215.46,450.69 L218.39,452.78 L221.41,454.96 L224.57,457.23 L227.89,459.61 L231.38,462.08 L235.01,464.62 L238.76,467.24 L242.63,469.95 L246.57,472.75 L250.59,475.66 L254.65,478.69 L258.74,481.83 L262.87,485.09 L267.08,488.46 L271.34,491.94 L275.67,495.52 L280.05,499.22 L284.47,503.01 L288.94,506.92 L293.45,510.94 L298.27,515.35 L303.53,520.29 L309.01,525.50 L314.44,530.74 L319.61,535.75 L324.26,540.28 L328.17,544.08 L331.10,546.90" fill="none" stroke="#5a64b4" stroke-width="0.9"/>
<path d="M63.10,376.88 L63.42,376.85 L63.83,376.80 L64.30,376.75 L64.84,376.70 L65.42,376.63 L66.03,376.57 L66.67,376.50 L67.32,376.44 L67.97,376.37 L68.61,376.31 L69.22,376.25 L69.80,376.21 L70.36,376.16 L70.92,376.11 L71.47,376.07 L72.03,376.03 L72.59,375.98 L73.15,375.94 L73.71,375.91 L74.27,375.88 L74.83,375.85 L75.38,375.83 L75.94,375.81 L76.50,375.80 L77.07,375.80 L77.65,375.80 L78.24,375.81 L78.83,375.83 L79.43,375.84 L80.02,375.87 L80.60,375.89 L81.17,375.93 L81.71,375.96 L82.24,375.99 L82.74,376.03 L83.20,376.07 L83.63,376.11 L84.02,376.15 L84.39,376.20 L84.73,376.25 L85.05,376.30 L85.36,376.35 L85.66,376.40 L85.95,376.47 L86.25,376.53 L86.56,376.60 L86.88,376.67 L87.22,376.75 L87.57,376.83 L87.92,376.91 L88.27,377.00 L88.62,377.09 L88.98,377.19 L89.33,377.29 L89.70,377.39 L90.06,377.50 L90.43,377.61 L90.81,377.72 L91.19,377.84 L91.58,377.96 L91.96,378.08 L92.35,378.20 L92.74,378.32 L93.14,378.44 L93.54,378.56 L93.94,378.69 L94.35,378.83 L94.78,378.98 L95.21,379.14 L95.66,379.31 L96.12,379.51 L96.60,379.72 L97.09,379.94 L97.59,380.18 L98.09,380.42 L98.61,380.68 L99.14,380.95 L99.68,381.23 L100.23,381.53 L100.81,381.84 L101.40,382.16 L102.01,382.50 L102.64,382.86 L103.30,383.23 L103.98,383.61 L104.68,384.03 L105.41,384.46 L106.15,384.91 L106.92,385.37 L107.70,385.84 L108.49,386.32 L109.31,386.81 L110.13,387.30 L110.97,387.79 L111.82,388.28 L112.68,388.76 L113.56,389.24 L114.45,389.71 L115.37,390.19 L116.30,390.67 L117.25,391.15 L118.21,391.64 L119.17,392.13 L120.15,392.62 L121.13,393.13 L122.11,393.64 L123.09,394.17 L124.07,394.70 L125.05,395.24 L126.02,395.79 L127.00,396.35 L127.98,396.91 L128.96,397.48 L129.95,398.06 L130.95,398.64 L131.96,399.24 L132.98,399.84 L134.02,400.46 L135.06,401.08 L136.13,401.72 L137.21,402.37 L138.30,403.03 L139.41,403.71 L140.52,404.40 L141.65,405.10 L142.79,405.80 L143.94,406.52 L145.10,407.23 L146.27,407.95 L147.46,408.66 L148.66,409.38 L149.87,410.09 L151.08,410.80 L152.31,411.50 L153.55,412.20 L154.80,412.90 L156.07,413.60 L157.34,414.31 L158.63,415.02 L159.93,415.74 L161.24,416.47 L162.57,417.21 L163.92,417.96 L165.28,418.73 L166.64,419.50 L168.02,420.27 L169.39,421.04 L170.78,421.81 L172.19,422.59 L173.61,423.39 L175.05,424.20 L176.52,425.04 L178.01,425.91 L179.54,426.81 L181.10,427.74 L182.69,428.72 L184.33,429.74 L186.01,430.79 L187.72,431.88 L189.46,433.00 L191.22,434.15 L193.02,435.32 L194.83,436.51 L196.67,437.73 L198.52,438.97 L200.38,440.22 L202.25,441.48 L204.13,442.76 L206.01,444.04 L207.88,445.33 L209.74,446.62 L211.62,447.93 L213.51,449.26 L215.42,450.61 L217.37,451.99 L219.36,453.40 L221.40,454.85 L223.50,456.35 L225.67,457.90 L227.92,459.50 L230.30,461.19 L232.83,462.99 L235.49,464.87 L238.23,466.81 L241.02,468.79 L243.83,470.79 L246.62,472.78 L249.36,474.75 L252.01,476.67 L254.53,478.52 L256.90,480.27 L259.07,481.91 L261.06,483.44 L262.90,484.90 L264.60,486.28 M267.79,488.94 L269.19,490.14 L270.59,491.36 L271.95,492.55 L273.31,493.73 L274.67,494.91 L276.06,496.10 L277.50,497.30 L278.94,498.49 L280.35,499.64 L281.73,500.75 L283.08,501.84 L284.43,502.92 L285.77,504.00 L287.12,505.09 L288.48,506.20 L289.87,507.34 L291.28,508.53 L292.74,509.77 L294.25,511.07 L295.82,512.44 L297.44,513.87 L299.12,515.34 L300.83,516.86 L302.56,518.41 L304.30,519.98 L306.04,521.57 L307.77,523.16 L309.48,524.75 L311.16,526.33 L312.78,527.89 L314.35,529.43 L315.92,531.00 L317.53,532.67 L319.17,534.40 L320.80,536.15 L322.41,537.90 L323.98,539.62 L325.48,541.28 L326.88,542.84 L328.17,544.28 L329.32,545.56 L330.30,546.65 L331.10,547.52" fill="none" stroke="#c41c26" stroke-width="1"/>
<path d="M63.10 376.88h0M63.57 376.83h0M64.04 376.78h0M64.51 376.73h0M64.98 376.68h0M65.44 376.63h0M65.91 376.58h0M66.38 376.53h0M66.85 376.48h0M67.32 376.43h0M67.79 376.39h0M68.26 376.34h0M68.73 376.30h0M69.20 376.26h0M69.67 376.22h0M70.13 376.18h0M70.60 376.14h0M71.07 376.10h0M71.54 376.06h0M72.01 376.03h0M72.48 375.99h0M72.95 375.96h0M73.42 375.93h0M73.89 375.90h0M74.36 375.87h0M74.82 375.85h0M75.29 375.83h0M75.76 375.81h0M76.23 375.80h0M76.70 375.80h0M77.17 375.80h0M77.64 375.80h0M78.11 375.81h0M78.58 375.82h0M79.05 375.83h0M79.51 375.85h0M79.98 375.87h0M80.45 375.89h0M80.92 375.91h0M81.39 375.94h0M81.86 375.97h0M82.33 376.00h0M82.80 376.04h0M83.27 376.08h0M83.74 376.12h0M84.20 376.18h0M84.67 376.24h0M85.14 376.31h0M85.61 376.40h0M86.08 376.49h0M86.55 376.59h0M87.02 376.70h0M87.49 376.81h0M87.96 376.92h0M88.43 377.04h0M88.89 377.16h0M89.36 377.29h0M89.83 377.43h0M90.30 377.57h0M90.77 377.71h0M91.24 377.85h0M91.71 378.00h0M92.18 378.15h0M92.65 378.29h0M93.12 378.43h0M93.58 378.58h0M94.05 378.73h0M94.52 378.89h0M94.99 379.06h0M95.46 379.24h0M95.93 379.43h0M96.40 379.63h0M96.87 379.84h0M97.34 380.06h0M97.81 380.28h0M98.27 380.51h0M98.74 380.75h0M99.21 380.99h0M99.68 381.24h0M100.15 381.49h0M100.62 381.74h0M101.09 382.00h0M101.56 382.25h0M102.03 382.51h0M102.50 382.77h0M102.96 383.04h0M103.43 383.30h0M103.90 383.57h0M104.37 383.84h0M104.84 384.12h0M105.31 384.40h0M105.78 384.68h0M106.25 384.96h0M106.72 385.25h0M107.19 385.53h0M107.65 385.82h0M108.12 386.10h0M108.59 386.38h0M109.06 386.66h0M109.53 386.94h0M110.00 387.22h0M110.47 387.50h0M110.94 387.77h0M111.41 388.04h0M111.88 388.31h0M112.34 388.57h0M112.81 388.83h0M113.28 389.09h0M113.75 389.34h0M114.22 389.59h0M114.69 389.84h0M115.16 390.08h0M115.63 390.32h0M116.10 390.56h0M116.57 390.80h0M117.03 391.04h0M117.50 391.28h0M117.97 391.52h0M118.44 391.76h0M118.91 391.99h0M119.38 392.23h0M119.85 392.47h0M120.32 392.71h0M120.79 392.95h0M121.26 393.20h0M121.72 393.44h0M122.19 393.69h0M122.66 393.94h0M123.13 394.19h0M123.60 394.44h0M124.07 394.70h0M124.54 394.96h0M125.01 395.22h0M125.48 395.49h0M125.95 395.75h0M126.41 396.02h0M126.88 396.28h0M127.35 396.55h0M127.82 396.82h0M128.29 397.09h0M128.76 397.36h0M129.23 397.64h0M129.70 397.91h0M130.17 398.18h0M130.64 398.46h0M131.10 398.73h0M131.57 399.01h0M132.04 399.29h0M132.51 399.57h0M132.98 399.84h0M133.45 400.12h0M133.92 400.40h0M134.39 400.68h0M134.86 400.96h0M135.33 401.24h0M135.79 401.52h0M136.26 401.80h0M136.73 402.08h0M137.20 402.36h0M137.67 402.65h0M138.14 402.93h0M138.61 403.22h0M139.08 403.51h0M139.55 403.80h0M140.02 404.09h0M140.48 404.38h0M140.95 404.67h0M141.42 404.96h0M141.89 405.25h0M142.36 405.54h0M142.83 405.83h0M143.30 406.12h0M143.77 406.41h0M144.24 406.70h0M144.71 406.99h0M145.17 407.28h0M145.64 407.56h0M146.11 407.85h0M146.58 408.13h0M147.05 408.42h0M147.52 408.70h0M147.99 408.98h0M148.46 409.26h0M148.93 409.54h0M149.40 409.81h0M149.86 410.09h0M150.33 410.36h0M150.80 410.63h0M151.27 410.90h0M151.74 411.17h0M152.21 411.44h0M152.68 411.71h0M153.15 411.97h0M153.62 412.24h0M154.09 412.50h0M154.55 412.76h0M155.02 413.02h0M155.49 413.28h0M155.96 413.54h0M156.43 413.81h0M156.90 414.07h0M157.37 414.32h0M157.84 414.58h0M158.31 414.84h0M158.78 415.10h0M159.24 415.36h0M159.71 415.62h0M160.18 415.88h0M160.65 416.14h0M161.12 416.40h0M161.59 416.66h0M162.06 416.92h0M162.53 417.18h0M163.00 417.45h0M163.47 417.71h0M163.93 417.97h0M164.40 418.24h0M164.87 418.50h0M165.34 418.77h0M165.81 419.03h0M166.28 419.30h0M166.75 419.56h0M167.22 419.82h0M167.69 420.09h0M168.16 420.35h0M168.62 420.61h0M169.09 420.87h0M169.56 421.13h0M170.03 421.39h0M170.50 421.65h0M170.97 421.91h0M171.44 422.17h0M171.91 422.44h0M172.38 422.70h0M172.85 422.96h0M173.31 423.22h0M173.78 423.49h0M174.25 423.75h0M174.72 424.02h0M175.19 424.28h0M175.66 424.55h0M176.13 424.82h0M176.60 425.09h0M177.07 425.36h0M177.54 425.63h0M178.00 425.90h0M178.47 426.18h0M178.94 426.46h0M179.41 426.73h0M179.88 427.01h0M180.35 427.29h0M180.82 427.58h0M181.29 427.86h0M181.76 428.15h0M182.23 428.43h0M182.69 428.72h0M183.16 429.01h0M183.63 429.30h0M184.10 429.60h0M184.57 429.89h0M185.04 430.18h0M185.51 430.48h0M185.98 430.78h0M186.45 431.07h0M186.92 431.37h0M187.38 431.67h0M187.85 431.97h0M188.32 432.27h0M188.79 432.57h0M189.26 432.87h0M189.73 433.18h0M190.20 433.48h0M190.67 433.79h0M191.14 434.09h0M191.61 434.40h0M192.07 434.70h0M192.54 435.01h0M193.01 435.32h0M193.48 435.62h0M193.95 435.93h0M194.42 436.24h0M194.89 436.55h0M195.36 436.86h0M195.83 437.17h0M196.30 437.48h0M196.76 437.80h0M197.23 438.11h0M197.70 438.42h0M198.17 438.74h0M198.64 439.05h0M199.11 439.36h0M199.58 439.68h0M200.05 439.99h0M200.52 440.31h0M200.99 440.63h0M201.45 440.94h0M201.92 441.26h0M202.39 441.58h0M202.86 441.90h0M203.33 442.21h0M203.80 442.53h0M204.27 442.85h0M204.74 443.17h0M205.21 443.49h0M205.68 443.81h0M206.14 444.13h0M206.61 444.46h0M207.08 444.78h0M207.55 445.10h0M208.02 445.43h0M208.49 445.75h0M208.96 446.08h0M209.43 446.40h0M209.90 446.73h0M210.37 447.06h0M210.83 447.38h0M211.30 447.71h0M211.77 448.04h0M212.24 448.37h0M212.71 448.70h0M213.18 449.03h0M213.65 449.36h0M214.12 449.69h0M214.59 450.02h0M215.06 450.35h0M215.52 450.68h0M215.99 451.01h0M216.46 451.35h0M216.93 451.68h0M217.40 452.01h0M217.87 452.34h0M218.34 452.68h0M218.81 453.01h0M219.28 453.34h0M219.75 453.68h0M220.21 454.01h0M220.68 454.34h0M221.15 454.68h0M221.62 455.01h0M222.09 455.35h0M222.56 455.68h0M223.03 456.01h0M223.50 456.35h0M223.97 456.68h0M224.44 457.02h0M224.90 457.35h0M225.37 457.69h0M225.84 458.02h0M226.31 458.35h0M226.78 458.69h0M227.25 459.02h0M227.72 459.36h0M228.19 459.69h0M228.66 460.02h0M229.13 460.36h0M229.59 460.69h0M230.06 461.02h0M230.53 461.36h0M231.00 461.69h0M231.47 462.02h0M231.94 462.35h0M232.41 462.69h0M232.88 463.02h0M233.35 463.35h0M233.82 463.68h0M234.28 464.02h0M234.75 464.35h0M235.22 464.68h0M235.69 465.01h0M236.16 465.34h0M236.63 465.68h0M237.10 466.01h0M237.57 466.34h0M238.04 466.67h0M238.51 467.01h0M238.97 467.34h0M239.44 467.67h0M239.91 468.00h0M240.38 468.34h0M240.85 468.67h0M241.32 469.00h0M241.79 469.34h0M242.26 469.67h0M242.73 470.00h0M243.20 470.34h0M243.66 470.67h0M244.13 471.00h0M244.60 471.34h0M245.07 471.67h0M245.54 472.01h0M246.01 472.35h0M246.48 472.68h0M246.95 473.02h0M247.42 473.35h0M247.89 473.69h0M248.35 474.03h0M248.82 474.36h0M249.29 474.70h0M249.76 475.04h0M250.23 475.38h0M250.70 475.72h0M251.17 476.06h0M251.64 476.40h0M252.11 476.74h0M252.58 477.08h0M253.04 477.43h0M253.51 477.77h0M253.98 478.11h0M254.45 478.46h0M254.92 478.80h0M255.39 479.15h0M255.86 479.50h0M256.33 479.85h0M256.80 480.19h0M257.27 480.55h0M257.73 480.90h0M258.20 481.25h0M258.67 481.61h0M259.14 481.96h0M259.61 482.32h0M260.08 482.69h0M260.55 483.05h0M261.02 483.41h0M261.49 483.78h0M261.96 484.15h0M262.42 484.52h0M262.89 484.89h0M263.36 485.27h0M263.83 485.65h0M264.30 486.03h0M268.05 489.17h0M268.52 489.57h0M268.99 489.98h0M269.46 490.38h0M269.93 490.79h0M270.40 491.19h0M270.87 491.60h0M271.34 492.01h0M271.80 492.42h0M272.27 492.83h0M272.74 493.24h0M273.21 493.65h0M273.68 494.05h0M274.15 494.46h0M274.62 494.86h0M275.09 495.26h0M275.56 495.66h0M276.03 496.06h0M276.49 496.46h0M276.96 496.85h0M277.43 497.24h0M277.90 497.63h0M278.37 498.02h0M278.84 498.40h0M279.31 498.79h0M279.78 499.17h0M280.25 499.55h0M280.72 499.93h0M281.18 500.31h0M281.65 500.69h0M282.12 501.07h0M282.59 501.44h0M283.06 501.82h0M283.53 502.20h0M284.00 502.58h0M284.47 502.95h0M284.94 503.33h0M285.41 503.71h0M285.87 504.08h0M286.34 504.46h0M286.81 504.84h0M287.28 505.22h0M287.75 505.61h0M288.22 505.99h0M288.69 506.37h0M289.16 506.76h0M289.63 507.15h0M290.10 507.53h0M290.56 507.93h0M291.03 508.32h0M291.50 508.71h0M291.97 509.11h0M292.44 509.51h0M292.91 509.91h0M293.38 510.32h0M293.85 510.72h0M294.32 511.13h0M294.79 511.54h0M295.25 511.95h0M295.72 512.36h0M296.19 512.77h0M296.66 513.18h0M297.13 513.59h0M297.60 514.00h0M298.07 514.42h0M298.54 514.83h0M299.01 515.25h0M299.48 515.66h0M299.94 516.08h0M300.41 516.49h0M300.88 516.91h0M301.35 517.33h0M301.82 517.75h0M302.29 518.17h0M302.76 518.59h0M303.23 519.01h0M303.70 519.44h0M304.17 519.86h0M304.63 520.28h0M305.10 520.71h0M305.57 521.14h0M306.04 521.57h0M306.51 522.00h0M306.98 522.43h0M307.45 522.86h0M307.92 523.29h0M308.39 523.73h0M308.86 524.17h0M309.32 524.61h0M309.79 525.05h0M310.26 525.49h0M310.73 525.93h0M311.20 526.38h0M311.67 526.83h0M312.14 527.28h0M312.61 527.73h0M313.08 528.18h0M313.55 528.64h0M314.01 529.10h0M314.48 529.56h0M314.95 530.04h0M315.42 530.51h0M315.89 530.98h0M316.36 531.46h0M316.83 531.95h0M317.30 532.43h0M317.77 532.92h0M318.24 533.42h0M318.70 533.91h0M319.17 534.40h0M319.64 534.91h0M320.11 535.41h0M320.58 535.91h0M321.05 536.42h0M321.52 536.93h0M321.99 537.44h0M322.46 537.95h0M322.93 538.46h0M323.39 538.98h0M323.86 539.49h0M324.33 540.01h0M324.80 540.53h0M325.27 541.05h0M325.74 541.57h0M326.21 542.09h0M326.68 542.61h0M327.15 543.14h0M327.62 543.66h0M328.09 544.18h0M328.55 544.71h0M329.02 545.23h0M329.49 545.75h0M329.96 546.27h0M330.43 546.79h0M330.90 547.30h0" fill="none" stroke="#c41c26" stroke-width="2.30" stroke-linecap="round"/>
<path d="M113.35,399.56 L130.10,404.42 L146.85,412.52 L163.60,420.08 L180.35,428.18 L197.10,443.30 L213.85,453.02 L230.60,465.44" fill="none" stroke="#58e458" stroke-width="1"/>
<path d="M67.56,374.59 l3.10,3.10 l-3.10,3.10 l-3.10,-3.10 z" fill="#0c0ca0" stroke="none" stroke-width="0"/>
<path d="M73.32,374.56 l3.10,3.10 l-3.10,3.10 l-3.10,-3.10 z" fill="#0c0ca0" stroke="none" stroke-width="0"/>
<path d="M80.15,374.75 l3.10,3.10 l-3.10,3.10 l-3.10,-3.10 z" fill="#0c0ca0" stroke="none" stroke-width="0"/>
<path d="M87.02,374.59 l3.10,3.10 l-3.10,3.10 l-3.10,-3.10 z" fill="#0c0ca0" stroke="none" stroke-width="0"/>
<path d="M95.23,376.16 l3.10,3.10 l-3.10,3.10 l-3.10,-3.10 z" fill="#0c0ca0" stroke="none" stroke-width="0"/>
<path d="M103.60,380.67 l3.10,3.10 l-3.10,3.10 l-3.10,-3.10 z" fill="#0c0ca0" stroke="none" stroke-width="0"/>
<path d="M112.88,385.77 l3.10,3.10 l-3.10,3.10 l-3.10,-3.10 z" fill="#0c0ca0" stroke="none" stroke-width="0"/>
<path d="M124.10,391.90 l3.10,3.10 l-3.10,3.10 l-3.10,-3.10 z" fill="#0c0ca0" stroke="none" stroke-width="0"/>
<path d="M135.73,398.78 l3.10,3.10 l-3.10,3.10 l-3.10,-3.10 z" fill="#0c0ca0" stroke="none" stroke-width="0"/>
<path d="M150.03,406.86 l3.10,3.10 l-3.10,3.10 l-3.10,-3.10 z" fill="#0c0ca0" stroke="none" stroke-width="0"/>
<path d="M165.11,415.41 l3.10,3.10 l-3.10,3.10 l-3.10,-3.10 z" fill="#0c0ca0" stroke="none" stroke-width="0"/>
<path d="M182.36,425.65 l3.10,3.10 l-3.10,3.10 l-3.10,-3.10 z" fill="#0c0ca0" stroke="none" stroke-width="0"/>
<path d="M204.17,439.69 l3.10,3.10 l-3.10,3.10 l-3.10,-3.10 z" fill="#0c0ca0" stroke="none" stroke-width="0"/>
<path d="M227.89,456.51 l3.10,3.10 l-3.10,3.10 l-3.10,-3.10 z" fill="#0c0ca0" stroke="none" stroke-width="0"/>
<path d="M258.74,478.73 l3.10,3.10 l-3.10,3.10 l-3.10,-3.10 z" fill="#0c0ca0" stroke="none" stroke-width="0"/>
<path d="M293.45,507.83 l3.10,3.10 l-3.10,3.10 l-3.10,-3.10 z" fill="#0c0ca0" stroke="none" stroke-width="0"/>
<path d="M113.35,396.56 L116.45,401.56 L110.25,401.56 z" fill="#22e022"/>
<path d="M130.10,401.42 L133.20,406.42 L127.00,406.42 z" fill="#22e022"/>
<path d="M146.85,409.52 L149.95,414.52 L143.75,414.52 z" fill="#22e022"/>
<path d="M163.60,417.08 L166.70,422.08 L160.50,422.08 z" fill="#22e022"/>
<path d="M180.35,425.18 L183.45,430.18 L177.25,430.18 z" fill="#22e022"/>
<path d="M197.10,440.30 L200.20,445.30 L194.00,445.30 z" fill="#22e022"/>
<path d="M213.85,450.02 L216.95,455.02 L210.75,455.02 z" fill="#22e022"/>
<path d="M230.60,462.44 L233.70,467.44 L227.50,467.44 z" fill="#22e022"/>
<line x1="63.10" y1="373.10" x2="63.10" y2="592.60" stroke="#333" stroke-width="1.2"/>
<line x1="59.60" y1="589.10" x2="331.10" y2="589.10" stroke="#333" stroke-width="1.3"/>
<line x1="59.10" y1="373.10" x2="63.10" y2="373.10" stroke="#333" stroke-width="1.2"/>
<line x1="59.10" y1="427.10" x2="63.10" y2="427.10" stroke="#333" stroke-width="1.2"/>
<line x1="59.10" y1="481.10" x2="63.10" y2="481.10" stroke="#333" stroke-width="1.2"/>
<line x1="59.10" y1="535.10" x2="63.10" y2="535.10" stroke="#333" stroke-width="1.2"/>
<line x1="59.10" y1="589.10" x2="63.10" y2="589.10" stroke="#333" stroke-width="1.2"/>
<line x1="60.90" y1="400.10" x2="63.10" y2="400.10" stroke="#333" stroke-width="1.2"/>
<line x1="60.90" y1="454.10" x2="63.10" y2="454.10" stroke="#333" stroke-width="1.2"/>
<line x1="60.90" y1="508.10" x2="63.10" y2="508.10" stroke="#333" stroke-width="1.2"/>
<line x1="60.90" y1="562.10" x2="63.10" y2="562.10" stroke="#333" stroke-width="1.2"/>
<line x1="63.10" y1="589.10" x2="63.10" y2="593.10" stroke="#333" stroke-width="1.2"/>
<line x1="130.10" y1="589.10" x2="130.10" y2="593.10" stroke="#333" stroke-width="1.2"/>
<line x1="197.10" y1="589.10" x2="197.10" y2="593.10" stroke="#333" stroke-width="1.2"/>
<line x1="264.10" y1="589.10" x2="264.10" y2="593.10" stroke="#333" stroke-width="1.2"/>
<line x1="331.10" y1="589.10" x2="331.10" y2="593.10" stroke="#333" stroke-width="1.2"/>
<line x1="96.60" y1="589.10" x2="96.60" y2="591.30" stroke="#333" stroke-width="1.2"/>
<line x1="163.60" y1="589.10" x2="163.60" y2="591.30" stroke="#333" stroke-width="1.2"/>
<line x1="230.60" y1="589.10" x2="230.60" y2="591.30" stroke="#333" stroke-width="1.2"/>
<line x1="297.60" y1="589.10" x2="297.60" y2="591.30" stroke="#333" stroke-width="1.2"/>
<text transform="translate(55.60,379.18) scale(1.0000,1.0000)" font-size="18.00" text-anchor="end">0</text>
<text transform="translate(55.60,433.18) scale(1.0000,1.0000)" font-size="18.00" text-anchor="end">-20</text>
<text transform="translate(55.60,487.18) scale(1.0000,1.0000)" font-size="18.00" text-anchor="end">-40</text>
<text transform="translate(55.60,541.18) scale(1.0000,1.0000)" font-size="18.00" text-anchor="end">-60</text>
<text transform="translate(55.60,595.18) scale(1.0000,1.0000)" font-size="18.00" text-anchor="end">-80</text>
<text transform="translate(63.10,610.50) scale(1.0000,1.0000)" font-size="18.00" text-anchor="middle">400</text>
<text transform="translate(130.10,610.50) scale(1.0000,1.0000)" font-size="18.00" text-anchor="middle">600</text>
<text transform="translate(197.10,610.50) scale(1.0000,1.0000)" font-size="18.00" text-anchor="middle">800</text>
<text transform="translate(264.10,610.50) scale(1.0000,1.0000)" font-size="18.00" text-anchor="middle">1000</text>
<text transform="translate(331.10,610.50) scale(1.0000,1.0000)" font-size="18.00" text-anchor="middle">1200</text>
<text transform="translate(197.70,630.80) scale(1.0000,1.0000)" font-size="18.00" text-anchor="middle">Wavelength(nm)</text>
<text transform="translate(24.80,480.10) rotate(-90) scale(1.0000,1.0000)" font-size="18" text-anchor="middle">Real part</text>
<text x="189.50" y="669.90" font-size="19.5" text-anchor="middle">(<tspan font-weight="bold">c</tspan>)</text>
<rect x="228.50" y="372.40" width="128.10" height="82.00" fill="#fff" stroke="#8a8a8a" stroke-width="1"/>
<line x1="231.00" y1="384.00" x2="266.60" y2="384.00" stroke="#80388a" stroke-width="1"/>
<path d="M249.00,381.25 l2.75,2.75 l-2.75,2.75 l-2.75,-2.75 z" fill="#fff" stroke="#80388a" stroke-width="1.0"/>
<text transform="translate(271.50,389.44) scale(1.0000,1.0000)" font-size="16.00" text-anchor="start">L-Drude</text>
<line x1="231.00" y1="403.50" x2="266.60" y2="403.50" stroke="#5a64b4" stroke-width="1"/>
<path d="M249.00,400.40 l3.10,3.10 l-3.10,3.10 l-3.10,-3.10 z" fill="#0c0ca0" stroke="none" stroke-width="0"/>
<text transform="translate(271.50,408.94) scale(1.0000,1.0000)" font-size="16.00" text-anchor="start">Christy</text>
<line x1="231.00" y1="422.90" x2="266.60" y2="422.90" stroke="#58e458" stroke-width="1"/>
<path d="M249.00,419.90 L252.10,424.90 L245.90,424.90 z" fill="#22e022"/>
<text transform="translate(271.50,428.34) scale(1.0000,1.0000)" font-size="16.00" text-anchor="start">SPR</text>
<line x1="231.00" y1="443.30" x2="266.60" y2="443.30" stroke="#e06060" stroke-width="1"/>
<circle cx="249.00" cy="443.30" r="0.9" fill="#c00"/>
<text transform="translate(271.50,448.74) scale(1.0000,1.0000)" font-size="16.00" text-anchor="start">Ellipsometer</text></g>
<g><path d="M477.30,434.12 L477.47,434.19 L477.67,434.24 L477.90,434.29 L478.18,434.37 L478.51,434.51 L478.92,434.72 L479.40,435.04 L479.98,435.47 L480.68,436.04 L481.51,436.73 L482.43,437.51 L483.42,438.37 L484.43,439.29 L485.45,440.25 L486.43,441.23 L487.35,442.22 L488.22,443.22 L489.08,444.27 L489.92,445.35 L490.75,446.47 L491.57,447.61 L492.40,448.77 L493.22,449.94 L494.06,451.12 L494.91,452.34 L495.77,453.61 L496.64,454.92 L497.51,456.23 L498.37,457.53 L499.20,458.80 L500.00,460.00 L500.76,461.11 L501.44,462.10 L502.05,462.96 L502.62,463.74 L503.17,464.50 L503.73,465.27 L504.33,466.10 L505.01,467.04 L505.79,468.13 L506.66,469.39 L507.61,470.78 L508.61,472.27 L509.66,473.83 L510.75,475.41 L511.87,476.99 L513.01,478.53 L514.16,480.00 L515.36,481.44 L516.64,482.90 L517.96,484.37 L519.30,485.80 L520.62,487.19 L521.90,488.50 L523.11,489.71 L524.22,490.80 L525.20,491.73 L526.08,492.52 L526.89,493.22 L527.65,493.83 L528.41,494.41 L529.18,494.97 L530.01,495.56 L530.92,496.19 L531.89,496.87 L532.89,497.54 L533.92,498.22 L534.98,498.89 L536.08,499.57 L537.22,500.24 L538.40,500.92 L539.63,501.59 L540.94,502.28 L542.32,502.99 L543.77,503.71 L545.25,504.42 L546.74,505.12 L548.21,505.79 L549.65,506.42 L551.03,506.99 L552.33,507.51 L553.59,507.98 L554.81,508.42 L556.01,508.83 L557.22,509.21 L558.46,509.56 L559.74,509.90 L561.08,510.23 L562.50,510.54 L563.97,510.84 L565.49,511.12 L567.03,511.37 L568.58,511.60 L570.13,511.81 L571.66,511.98 L573.15,512.12 L574.61,512.21 L576.07,512.27 L577.53,512.30 L578.97,512.30 L580.39,512.28 L581.80,512.24 L583.18,512.18 L584.54,512.12 L585.84,512.04 L587.08,511.93 L588.29,511.81 L589.48,511.68 L590.69,511.53 L591.92,511.37 L593.22,511.20 L594.59,511.04 L596.05,510.87 L597.56,510.72 L599.11,510.56 L600.71,510.40 L602.34,510.21 L603.99,509.99 L605.65,509.73 L607.33,509.42 L608.99,509.07 L610.63,508.71 L612.27,508.32 L613.95,507.90 L615.67,507.43 L617.48,506.90 L619.38,506.31 L621.40,505.64 L623.59,504.88 L625.93,504.03 L628.39,503.11 L630.91,502.13 L633.46,501.12 L636.00,500.10 L638.47,499.08 L640.84,498.08 L643.12,497.11 L645.36,496.13 L647.57,495.16 L649.74,494.17 L651.89,493.16 L654.03,492.14 L656.15,491.08 L658.27,489.99 L660.36,488.86 L662.43,487.70 L664.47,486.52 L666.50,485.31 L668.53,484.08 L670.56,482.83 L672.61,481.56 L674.69,480.27 L676.79,478.96 L678.91,477.64 L681.05,476.30 L683.19,474.94 L685.34,473.55 L687.49,472.14 L689.64,470.69 L691.78,469.21 L693.92,467.68 L696.07,466.13 L698.22,464.53 L700.37,462.91 L702.51,461.27 L704.65,459.61 L706.77,457.94 L708.87,456.25 L710.95,454.56 L713.00,452.87 L715.03,451.16 L717.06,449.44 L719.09,447.69 L721.13,445.90 L723.20,444.08 L725.29,442.22 L727.52,440.20 L729.92,437.99 L732.40,435.68 L734.86,433.36 L737.22,431.15 L739.38,429.12 L741.24,427.38 L742.72,426.03 L743.78,425.09 L744.49,424.50 L744.92,424.19 L745.15,424.07 L745.24,424.08 L745.26,424.14 L745.29,424.18 L745.40,424.14" fill="none" stroke="#80388a" stroke-width="1"/>
<path d="M505.79,465.38 l2.75,2.75 l-2.75,2.75 l-2.75,-2.75 z" fill="#fff" stroke="#80388a" stroke-width="1.0"/>
<path d="M539.63,498.84 l2.75,2.75 l-2.75,2.75 l-2.75,-2.75 z" fill="#fff" stroke="#80388a" stroke-width="1.0"/>
<path d="M573.15,509.37 l2.75,2.75 l-2.75,2.75 l-2.75,-2.75 z" fill="#fff" stroke="#80388a" stroke-width="1.0"/>
<path d="M607.33,506.67 l2.75,2.75 l-2.75,2.75 l-2.75,-2.75 z" fill="#fff" stroke="#80388a" stroke-width="1.0"/>
<path d="M640.84,495.33 l2.75,2.75 l-2.75,2.75 l-2.75,-2.75 z" fill="#fff" stroke="#80388a" stroke-width="1.0"/>
<path d="M674.69,477.52 l2.75,2.75 l-2.75,2.75 l-2.75,-2.75 z" fill="#fff" stroke="#80388a" stroke-width="1.0"/>
<path d="M708.87,453.50 l2.75,2.75 l-2.75,2.75 l-2.75,-2.75 z" fill="#fff" stroke="#80388a" stroke-width="1.0"/>
<path d="M742.72,423.28 l2.75,2.75 l-2.75,2.75 l-2.75,-2.75 z" fill="#fff" stroke="#80388a" stroke-width="1.0"/>
<path d="M480.32,437.90 L485.51,442.49 L490.37,450.04 L495.90,465.97 L501.63,491.07 L507.96,512.66 L514.83,529.93 L531.93,538.83 L539.97,546.39 L549.69,552.87 L560.41,557.18 L577.50,557.18 L594.93,551.52 L611.01,542.34 L628.11,529.12 L641.75,518.32 L662.96,496.46 L681.59,482.97 L695.80,468.13 L704.65,455.44 L711.55,446.54 L725.29,434.66 L736.02,421.71 L743.05,410.37 L743.05,403.90" fill="none" stroke="#5a64b4" stroke-width="0.9"/>
<path d="M514.83,529.93 L532.26,545.04 L540.97,552.60 L551.36,560.69 L557.06,565.01 L571.13,567.17 L591.58,565.01 L607.66,559.88 L625.76,553.41 L644.19,545.85 L665.64,533.44 L681.59,521.29 L701.50,507.80 L717.92,493.49 L740.37,480.81 L744.73,476.76" fill="none" stroke="#5a64b4" stroke-width="0.9"/>
<path d="M477.30,430.07 L477.64,430.01 L478.08,429.90 L478.59,429.77 L479.16,429.62 L479.78,429.47 L480.44,429.31 L481.12,429.17 L481.81,429.05 L482.48,428.97 L483.14,428.92 L483.76,428.93 L484.34,428.99 L484.88,429.11 L485.42,429.27 L485.95,429.47 L486.47,429.69 L486.99,429.95 L487.50,430.24 L488.00,430.56 L488.50,430.90 L488.98,431.27 L489.45,431.66 L489.92,432.07 L490.37,432.50 L490.81,432.95 L491.24,433.43 L491.67,433.93 L492.08,434.45 L492.49,435.00 L492.88,435.57 L493.27,436.17 L493.65,436.79 L494.01,437.44 L494.37,438.11 L494.72,438.80 L495.06,439.52 L495.39,440.27 L495.70,441.06 L496.00,441.88 L496.30,442.73 L496.58,443.60 L496.85,444.50 L497.12,445.40 L497.38,446.33 L497.64,447.26 L497.90,448.19 L498.15,449.12 L498.41,450.04 L498.67,450.99 L498.93,451.97 L499.18,452.98 L499.43,454.01 L499.68,455.05 L499.92,456.08 L500.16,457.10 L500.39,458.10 L500.63,459.06 L500.85,459.98 L501.08,460.85 L501.29,461.65 L501.51,462.38 L501.72,463.05 L501.93,463.68 L502.14,464.26 L502.34,464.80 L502.54,465.33 L502.73,465.83 L502.92,466.33 L503.10,466.82 L503.28,467.33 L503.44,467.85 L503.61,468.40 L503.76,468.96 L503.91,469.53 L504.04,470.11 L504.17,470.68 L504.30,471.26 L504.42,471.84 L504.54,472.41 L504.65,472.97 L504.77,473.53 L504.88,474.08 L505.00,474.62 L505.12,475.14 L505.23,475.64 L505.35,476.12 L505.46,476.57 L505.57,477.00 L505.68,477.43 L505.79,477.86 L505.90,478.29 L506.01,478.74 L506.13,479.21 L506.24,479.71 L506.36,480.24 L506.49,480.81 L506.62,481.43 L506.75,482.08 L506.88,482.76 L507.02,483.47 L507.16,484.20 L507.30,484.94 L507.44,485.70 L507.59,486.46 L507.74,487.22 L507.89,487.97 L508.04,488.72 L508.20,489.45 L508.36,490.18 L508.53,490.92 L508.71,491.67 L508.89,492.43 L509.08,493.19 L509.27,493.95 L509.45,494.69 L509.64,495.42 L509.81,496.13 L509.99,496.81 L510.15,497.47 L510.31,498.08 L510.46,498.66 L510.59,499.21 L510.72,499.73 L510.85,500.22 L510.97,500.70 L511.08,501.15 L511.20,501.60 L511.32,502.03 L511.44,502.46 L511.56,502.89 L511.68,503.32 L511.82,503.75 L511.95,504.17 L512.09,504.56 L512.22,504.93 L512.35,505.29 L512.48,505.64 L512.62,505.99 L512.76,506.36 L512.91,506.74 L513.06,507.15 L513.23,507.59 L513.41,508.07 L513.59,508.61 L513.80,509.20 L514.01,509.84 L514.24,510.53 L514.48,511.25 L514.73,511.99 L514.98,512.76 L515.24,513.53 L515.50,514.30 L515.76,515.07 L516.01,515.82 L516.26,516.55 L516.51,517.24 L516.75,517.91 L516.99,518.57 L517.22,519.21 L517.45,519.85 L517.69,520.48 L517.92,521.11 L518.15,521.73 L518.39,522.34 L518.63,522.96 L518.88,523.57 L519.13,524.18 L519.39,524.80 L519.66,525.42 L519.92,526.05 L520.19,526.68 L520.47,527.32 L520.74,527.95 L521.03,528.58 L521.31,529.20 L521.60,529.81 L521.90,530.40 L522.20,530.98 L522.50,531.55 L522.81,532.09 L523.12,532.61 L523.44,533.11 L523.76,533.61 L524.08,534.09 L524.41,534.55 L524.74,535.00 L525.08,535.45 L525.43,535.87 L525.78,536.29 L526.15,536.70 L526.52,537.10 L526.90,537.48 L527.29,537.86 L527.69,538.23 L528.09,538.59 L528.51,538.94 L528.93,539.28 L529.36,539.61 L529.79,539.92 L530.24,540.22 L530.69,540.51 L531.15,540.78 L531.62,541.03 L532.09,541.26 L532.58,541.47 L533.08,541.66 L533.58,541.83 L534.10,541.98 L534.62,542.12 L535.16,542.24 L535.69,542.35 L536.23,542.46 L536.77,542.57 L537.31,542.67 L537.85,542.77 L538.39,542.88 L538.94,542.99 L539.50,543.08 L540.07,543.16 L540.64,543.24 L541.22,543.31 L541.79,543.39 L542.36,543.46 L542.92,543.54 L543.47,543.63 L544.00,543.72 L544.51,543.83 L545.00,543.96 L545.44,544.10 L545.83,544.25 L546.19,544.41 L546.53,544.58 L546.85,544.76 L547.17,544.94 L547.50,545.13 L547.85,545.32 L548.23,545.52 L548.66,545.72 L549.14,545.92 L549.69,546.12 L550.30,546.33 L550.98,546.55 L551.70,546.78 L552.47,547.01 L553.27,547.25 L554.09,547.49 L554.93,547.72 L555.77,547.96 L556.62,548.19 L557.45,548.41 L558.27,548.62 L559.07,548.82 L559.85,549.01 L560.63,549.20 L561.41,549.39 L562.19,549.57 L562.97,549.75 L563.75,549.92 L564.53,550.08 L565.31,550.23 L566.09,550.37 L566.87,550.50 L567.64,550.61 L568.42,550.71 L569.20,550.79 L569.97,550.86 L570.75,550.92 L571.52,550.97 L572.29,551.00 L573.06,551.03 L573.84,551.04 L574.61,551.05 L575.38,551.04 L576.16,551.03 L576.93,551.01 L577.70,550.98 L578.48,550.94 L579.25,550.90 L580.03,550.85 L580.80,550.79 L581.58,550.72 L582.36,550.64 L583.13,550.55 L583.91,550.45 L584.69,550.33 L585.46,550.20 L586.24,550.06 L587.02,549.90 L587.80,549.72 L588.58,549.53 L589.36,549.31 L590.15,549.09 L590.93,548.85 L591.72,548.60 L592.50,548.34 L593.28,548.07 L594.07,547.79 L594.85,547.51 L595.63,547.22 L596.40,546.93 L597.18,546.63 L597.95,546.33 L598.72,546.03 L599.49,545.71 L600.26,545.39 L601.03,545.06 L601.80,544.72 L602.57,544.37 L603.34,544.01 L604.11,543.65 L604.88,543.27 L605.65,542.88 L606.44,542.47 L607.25,542.04 L608.07,541.58 L608.90,541.11 L609.72,540.63 L610.55,540.15 L611.36,539.67 L612.15,539.19 L612.92,538.73 L613.65,538.29 L614.35,537.87 L615.00,537.48 L615.59,537.14 L616.11,536.83 L616.58,536.56 L617.01,536.31 L617.41,536.08 L617.80,535.85 L618.20,535.61 L618.61,535.35 L619.06,535.07 L619.55,534.76 L620.10,534.39 L620.73,533.98 L621.44,533.49 L622.20,532.95 L623.00,532.36 L623.85,531.73 L624.73,531.07 L625.64,530.40 L626.56,529.73 L627.49,529.06 L628.42,528.41 L629.34,527.79 L630.24,527.21 L631.12,526.69 L631.99,526.21 L632.86,525.76 L633.72,525.33 L634.59,524.93 L635.46,524.55 L636.32,524.18 L637.19,523.82 L638.06,523.47 L638.92,523.13 L639.79,522.79 L640.65,522.45 L641.51,522.10 L642.37,521.76 L643.23,521.42 L644.09,521.09 L644.94,520.77 L645.80,520.46 L646.65,520.14 L647.51,519.84 L648.36,519.53 L649.22,519.23 L650.08,518.93 L650.94,518.63 L651.80,518.32 L652.66,518.02 L653.53,517.72 L654.40,517.43 L655.27,517.13 L656.14,516.84 L657.01,516.55 L657.88,516.26 L658.75,515.97 L659.62,515.69 L660.49,515.40 L661.36,515.11 L662.22,514.81 L663.09,514.52 L663.98,514.22 L664.87,513.92 L665.77,513.62 L666.67,513.31 L667.56,513.01 L668.44,512.71 L669.31,512.42 L670.15,512.13 L670.97,511.84 L671.76,511.57 L672.51,511.31 L673.20,511.07 L673.83,510.86 L674.40,510.67 L674.94,510.50 L675.45,510.33 L675.96,510.16 L676.48,509.98 L677.03,509.78 L677.62,509.55 L678.27,509.28 L678.88,509.02 M682.06,507.56 L682.83,507.19 L683.98,506.64 L685.17,506.06 L686.38,505.45 L687.61,504.84 L688.83,504.22 L690.03,503.60 L691.19,503.00 L692.29,502.42 L693.32,501.86 L694.29,501.33 L695.22,500.81 L696.12,500.30 L696.98,499.79 L697.83,499.29 L698.66,498.79 L699.48,498.29 L700.29,497.78 L701.10,497.27 L701.92,496.74 L702.76,496.21 L703.61,495.65 L704.47,495.09 L705.34,494.51 L706.21,493.93 L707.08,493.34 L707.94,492.75 L708.81,492.14 L709.69,491.53 L710.56,490.92 L711.43,490.29 L712.30,489.66 L713.16,489.02 L714.03,488.37 L714.90,487.71 L715.77,487.04 L716.64,486.37 L717.50,485.69 L718.37,485.00 L719.24,484.30 L720.10,483.60 L720.97,482.89 L721.83,482.17 L722.70,481.45 L723.56,480.73 L724.42,480.00 L725.28,479.27 L726.13,478.54 L726.98,477.81 L727.83,477.08 L728.68,476.34 L729.53,475.60 L730.38,474.84 L731.23,474.07 L732.08,473.29 L732.94,472.49 L733.81,471.67 L734.68,470.82 L735.59,469.92 L736.56,468.93 L737.58,467.88 L738.61,466.79 L739.65,465.68 L740.68,464.58 L741.67,463.52 L742.60,462.51 L743.46,461.58 L744.23,460.75 L744.88,460.04 L745.40,459.49" fill="none" stroke="#d81e1e" stroke-width="1"/>
<path d="M477.30 430.07h0M477.77 429.98h0M478.24 429.86h0M478.71 429.74h0M479.18 429.62h0M479.65 429.50h0M480.12 429.39h0M480.58 429.29h0M481.05 429.19h0M481.52 429.10h0M481.99 429.03h0M482.46 428.97h0M482.93 428.94h0M483.40 428.92h0M483.87 428.94h0M484.34 428.99h0M484.81 429.10h0M485.28 429.23h0M485.75 429.39h0M486.21 429.58h0M486.68 429.80h0M487.15 430.05h0M487.62 430.32h0M488.09 430.62h0M488.56 430.95h0M489.03 431.31h0M489.50 431.70h0M489.97 432.12h0M490.44 432.57h0M490.91 433.06h0M491.38 433.58h0M491.84 434.15h0M492.31 434.76h0M492.78 435.43h0M493.25 436.14h0M493.72 436.92h0M494.19 437.77h0M494.66 438.68h0M495.13 439.67h0M495.60 440.79h0M496.07 442.06h0M496.54 443.48h0M497.01 445.02h0M497.47 446.66h0M497.94 448.36h0M498.41 450.04h0M498.88 451.80h0M499.35 453.69h0M499.82 455.66h0M500.29 457.66h0M500.76 459.60h0M501.23 461.40h0M501.70 462.97h0M502.17 464.34h0M502.64 465.58h0M503.10 466.84h0M503.57 468.28h0M504.04 470.10h0M504.51 472.29h0M504.98 474.55h0M505.45 476.53h0M505.92 478.37h0M506.39 480.35h0M506.86 482.63h0M507.33 485.10h0M507.80 487.52h0M508.27 489.74h0M508.73 491.77h0M509.20 493.70h0M509.67 495.57h0M510.14 497.42h0M510.61 499.28h0M511.08 501.14h0M511.55 502.86h0M512.02 504.37h0M512.49 505.66h0M512.96 506.87h0M513.43 508.13h0M513.90 509.49h0M514.36 510.89h0M514.83 512.31h0M515.30 513.72h0M515.77 515.12h0M516.24 516.48h0M516.71 517.80h0M517.18 519.10h0M517.65 520.38h0M518.12 521.63h0M518.59 522.84h0M519.06 524.00h0M519.53 525.12h0M519.99 526.22h0M520.46 527.31h0M520.93 528.37h0M521.40 529.39h0M521.87 530.36h0M522.34 531.25h0M522.81 532.09h0M523.28 532.86h0M523.75 533.59h0M524.22 534.28h0M524.69 534.93h0M525.16 535.54h0M525.63 536.11h0M526.09 536.64h0M526.56 537.14h0M527.03 537.61h0M527.50 538.06h0M527.97 538.48h0M528.44 538.89h0M528.91 539.27h0M529.38 539.62h0M529.85 539.96h0M530.32 540.27h0M530.79 540.56h0M531.26 540.83h0M531.72 541.08h0M532.19 541.31h0M532.66 541.51h0M533.13 541.68h0M533.60 541.84h0M534.07 541.97h0M534.54 542.10h0M535.01 542.21h0M535.48 542.31h0M535.95 542.41h0M536.42 542.50h0M536.89 542.59h0M537.35 542.68h0M537.82 542.77h0M538.29 542.86h0M538.76 542.95h0M539.23 543.04h0M539.70 543.11h0M540.17 543.18h0M540.64 543.24h0M541.11 543.30h0M541.58 543.36h0M542.05 543.42h0M542.52 543.48h0M542.98 543.55h0M543.45 543.62h0M543.92 543.71h0M544.39 543.81h0M544.86 543.93h0M545.33 544.07h0M545.80 544.24h0M546.27 544.45h0M546.74 544.70h0M547.21 544.96h0M547.68 545.23h0M548.15 545.47h0M548.61 545.70h0M549.08 545.90h0M549.55 546.07h0M550.02 546.23h0M550.49 546.39h0M550.96 546.54h0M551.43 546.69h0M551.90 546.84h0M552.37 546.98h0M552.84 547.12h0M553.31 547.26h0M553.78 547.40h0M554.24 547.53h0M554.71 547.66h0M555.18 547.80h0M555.65 547.93h0M556.12 548.05h0M556.59 548.18h0M557.06 548.31h0M557.53 548.43h0M558.00 548.55h0M558.47 548.67h0M558.94 548.79h0M559.41 548.90h0M559.87 549.02h0M560.34 549.13h0M560.81 549.24h0M561.28 549.35h0M561.75 549.47h0M562.22 549.57h0M562.69 549.68h0M563.16 549.79h0M563.63 549.89h0M564.10 549.99h0M564.57 550.08h0M565.04 550.17h0M565.50 550.26h0M565.97 550.35h0M566.44 550.43h0M566.91 550.50h0M567.38 550.57h0M567.85 550.64h0M568.32 550.70h0M568.79 550.75h0M569.26 550.80h0M569.73 550.84h0M570.20 550.88h0M570.67 550.91h0M571.13 550.94h0M571.60 550.97h0M572.07 550.99h0M572.54 551.01h0M573.01 551.03h0M573.48 551.04h0M573.95 551.04h0M574.42 551.05h0M574.89 551.05h0M575.36 551.04h0M575.83 551.04h0M576.30 551.03h0M576.77 551.01h0M577.23 551.00h0M577.70 550.98h0M578.17 550.96h0M578.64 550.93h0M579.11 550.91h0M579.58 550.88h0M580.05 550.85h0M580.52 550.81h0M580.99 550.77h0M581.46 550.73h0M581.93 550.68h0M582.40 550.64h0M582.86 550.58h0M583.33 550.52h0M583.80 550.46h0M584.27 550.39h0M584.74 550.32h0M585.21 550.25h0M585.68 550.16h0M586.15 550.08h0M586.62 549.98h0M587.09 549.88h0M587.56 549.78h0M588.03 549.66h0M588.49 549.55h0M588.96 549.42h0M589.43 549.29h0M589.90 549.16h0M590.37 549.02h0M590.84 548.88h0M591.31 548.73h0M591.78 548.58h0M592.25 548.42h0M592.72 548.26h0M593.19 548.10h0M593.66 547.94h0M594.12 547.77h0M594.59 547.60h0M595.06 547.43h0M595.53 547.26h0M596.00 547.08h0M596.47 546.90h0M596.94 546.73h0M597.41 546.54h0M597.88 546.36h0M598.35 546.18h0M598.82 545.99h0M599.29 545.79h0M599.75 545.60h0M600.22 545.40h0M600.69 545.20h0M601.16 545.00h0M601.63 544.79h0M602.10 544.58h0M602.57 544.37h0M603.04 544.15h0M603.51 543.93h0M603.98 543.71h0M604.45 543.48h0M604.92 543.25h0M605.38 543.02h0M605.85 542.78h0M606.32 542.53h0M606.79 542.28h0M607.26 542.03h0M607.73 541.77h0M608.20 541.51h0M608.67 541.24h0M609.14 540.97h0M609.61 540.70h0M610.08 540.43h0M610.55 540.15h0M611.01 539.87h0M611.48 539.59h0M611.95 539.31h0M612.42 539.03h0M612.89 538.75h0M613.36 538.47h0M613.83 538.18h0M614.30 537.90h0M614.77 537.62h0M615.24 537.35h0M615.71 537.07h0M616.18 536.80h0M616.64 536.53h0M617.11 536.25h0M617.58 535.98h0M618.05 535.70h0M618.52 535.41h0M618.99 535.12h0M619.46 534.82h0M619.93 534.51h0M620.40 534.20h0M620.87 533.88h0M621.34 533.56h0M621.81 533.23h0M622.28 532.89h0M622.74 532.55h0M623.21 532.20h0M623.68 531.85h0M624.15 531.50h0M624.62 531.15h0M625.09 530.81h0M625.56 530.46h0M626.03 530.11h0M626.50 529.77h0M626.97 529.43h0M627.44 529.09h0M627.91 528.77h0M628.37 528.44h0M628.84 528.12h0M629.31 527.81h0M629.78 527.51h0M630.25 527.21h0M630.72 526.93h0M631.19 526.65h0M631.66 526.39h0M632.13 526.14h0M632.60 525.89h0M633.07 525.66h0M633.54 525.42h0M634.00 525.20h0M634.47 524.98h0M634.94 524.77h0M635.41 524.56h0M635.88 524.36h0M636.35 524.16h0M636.82 523.97h0M637.29 523.78h0M637.76 523.59h0M638.23 523.40h0M638.70 523.22h0M639.17 523.03h0M639.63 522.85h0M640.10 522.66h0M640.57 522.48h0M641.04 522.29h0M641.51 522.10h0M641.98 521.91h0M642.45 521.73h0M642.92 521.54h0M643.39 521.36h0M643.86 521.18h0M644.33 521.00h0M644.80 520.83h0M645.26 520.65h0M645.73 520.48h0M646.20 520.31h0M646.67 520.14h0M647.14 519.97h0M647.61 519.80h0M648.08 519.63h0M648.55 519.47h0M649.02 519.30h0M649.49 519.14h0M649.96 518.97h0M650.43 518.81h0M650.89 518.64h0M651.36 518.48h0M651.83 518.31h0M652.30 518.15h0M652.77 517.98h0M653.24 517.82h0M653.71 517.66h0M654.18 517.50h0M654.65 517.34h0M655.12 517.18h0M655.59 517.03h0M656.06 516.87h0M656.52 516.71h0M656.99 516.56h0M657.46 516.40h0M657.93 516.25h0M658.40 516.09h0M658.87 515.93h0M659.34 515.78h0M659.81 515.62h0M660.28 515.47h0M660.75 515.31h0M661.22 515.15h0M661.69 515.00h0M662.15 514.84h0M662.62 514.68h0M663.09 514.52h0M663.56 514.36h0M664.03 514.20h0M664.50 514.04h0M664.97 513.89h0M665.44 513.73h0M665.91 513.57h0M666.38 513.41h0M666.85 513.25h0M667.32 513.09h0M667.79 512.93h0M668.25 512.77h0M668.72 512.61h0M669.19 512.45h0M669.66 512.29h0M670.13 512.13h0M670.60 511.97h0M671.07 511.81h0M671.54 511.65h0M672.01 511.48h0M672.48 511.32h0M672.95 511.16h0M673.42 510.99h0M673.88 510.84h0M674.35 510.68h0M674.82 510.53h0M675.29 510.38h0M675.76 510.23h0M676.23 510.07h0M676.70 509.90h0M677.17 509.72h0M677.64 509.54h0M678.11 509.35h0M678.58 509.15h0M682.33 507.43h0M682.80 507.21h0M683.27 506.98h0M683.74 506.75h0M684.21 506.53h0M684.68 506.30h0M685.14 506.07h0M685.61 505.83h0M686.08 505.60h0M686.55 505.37h0M687.02 505.13h0M687.49 504.90h0M687.96 504.66h0M688.43 504.42h0M688.90 504.18h0M689.37 503.94h0M689.84 503.70h0M690.31 503.46h0M690.77 503.21h0M691.24 502.97h0M691.71 502.72h0M692.18 502.47h0M692.65 502.22h0M693.12 501.97h0M693.59 501.71h0M694.06 501.46h0M694.53 501.20h0M695.00 500.93h0M695.47 500.67h0M695.94 500.40h0M696.40 500.13h0M696.87 499.86h0M697.34 499.58h0M697.81 499.30h0M698.28 499.02h0M698.75 498.73h0M699.22 498.45h0M699.69 498.16h0M700.16 497.86h0M700.63 497.57h0M701.10 497.27h0M701.57 496.97h0M702.03 496.67h0M702.50 496.37h0M702.97 496.07h0M703.44 495.76h0M703.91 495.46h0M704.38 495.15h0M704.85 494.84h0M705.32 494.53h0M705.79 494.21h0M706.26 493.90h0M706.73 493.58h0M707.20 493.26h0M707.66 492.94h0M708.13 492.62h0M708.60 492.29h0M709.07 491.96h0M709.54 491.63h0M710.01 491.30h0M710.48 490.97h0M710.95 490.63h0M711.42 490.30h0M711.89 489.95h0M712.36 489.61h0M712.83 489.27h0M713.30 488.92h0M713.76 488.57h0M714.23 488.21h0M714.70 487.86h0M715.17 487.50h0M715.64 487.14h0M716.11 486.78h0M716.58 486.41h0M717.05 486.05h0M717.52 485.68h0M717.99 485.30h0M718.46 484.93h0M718.93 484.55h0M719.39 484.17h0M719.86 483.79h0M720.33 483.41h0M720.80 483.03h0M721.27 482.64h0M721.74 482.25h0M722.21 481.86h0M722.68 481.47h0M723.15 481.08h0M723.62 480.68h0M724.09 480.28h0M724.56 479.89h0M725.02 479.49h0M725.49 479.09h0M725.96 478.69h0M726.43 478.29h0M726.90 477.88h0M727.37 477.48h0M727.84 477.08h0M728.31 476.67h0M728.78 476.26h0M729.25 475.85h0M729.72 475.43h0M730.19 475.01h0M730.65 474.59h0M731.12 474.17h0M731.59 473.74h0M732.06 473.31h0M732.53 472.87h0M733.00 472.43h0M733.47 471.99h0M733.94 471.54h0M734.41 471.08h0M734.88 470.63h0M735.35 470.16h0M735.82 469.69h0M736.28 469.21h0M736.75 468.73h0M737.22 468.24h0M737.69 467.75h0M738.16 467.26h0M738.63 466.77h0M739.10 466.27h0M739.57 465.77h0M740.04 465.27h0M740.51 464.77h0M740.98 464.26h0M741.45 463.76h0M741.91 463.25h0M742.38 462.74h0M742.85 462.24h0M743.32 461.73h0M743.79 461.22h0M744.26 460.71h0M744.73 460.21h0M745.20 459.70h0" fill="none" stroke="#d81e1e" stroke-width="2.30" stroke-linecap="round"/>
<path d="M527.23,545.31 L544.33,557.72 L561.42,565.28 L577.84,562.85 L594.59,556.11 L611.35,547.74 L628.11,539.91 L644.53,525.34" fill="none" stroke="#58e458" stroke-width="1"/>
<path d="M480.32,434.80 l3.10,3.10 l-3.10,3.10 l-3.10,-3.10 z" fill="#0c0ca0" stroke="none" stroke-width="0"/>
<path d="M485.51,439.39 l3.10,3.10 l-3.10,3.10 l-3.10,-3.10 z" fill="#0c0ca0" stroke="none" stroke-width="0"/>
<path d="M490.37,446.94 l3.10,3.10 l-3.10,3.10 l-3.10,-3.10 z" fill="#0c0ca0" stroke="none" stroke-width="0"/>
<path d="M495.90,462.87 l3.10,3.10 l-3.10,3.10 l-3.10,-3.10 z" fill="#0c0ca0" stroke="none" stroke-width="0"/>
<path d="M501.63,487.97 l3.10,3.10 l-3.10,3.10 l-3.10,-3.10 z" fill="#0c0ca0" stroke="none" stroke-width="0"/>
<path d="M507.96,509.56 l3.10,3.10 l-3.10,3.10 l-3.10,-3.10 z" fill="#0c0ca0" stroke="none" stroke-width="0"/>
<path d="M514.83,526.83 l3.10,3.10 l-3.10,3.10 l-3.10,-3.10 z" fill="#0c0ca0" stroke="none" stroke-width="0"/>
<path d="M531.93,535.73 l3.10,3.10 l-3.10,3.10 l-3.10,-3.10 z" fill="#0c0ca0" stroke="none" stroke-width="0"/>
<path d="M539.97,543.29 l3.10,3.10 l-3.10,3.10 l-3.10,-3.10 z" fill="#0c0ca0" stroke="none" stroke-width="0"/>
<path d="M549.69,549.77 l3.10,3.10 l-3.10,3.10 l-3.10,-3.10 z" fill="#0c0ca0" stroke="none" stroke-width="0"/>
<path d="M560.41,554.08 l3.10,3.10 l-3.10,3.10 l-3.10,-3.10 z" fill="#0c0ca0" stroke="none" stroke-width="0"/>
<path d="M577.50,554.08 l3.10,3.10 l-3.10,3.10 l-3.10,-3.10 z" fill="#0c0ca0" stroke="none" stroke-width="0"/>
<path d="M594.93,548.42 l3.10,3.10 l-3.10,3.10 l-3.10,-3.10 z" fill="#0c0ca0" stroke="none" stroke-width="0"/>
<path d="M611.01,539.24 l3.10,3.10 l-3.10,3.10 l-3.10,-3.10 z" fill="#0c0ca0" stroke="none" stroke-width="0"/>
<path d="M628.11,526.02 l3.10,3.10 l-3.10,3.10 l-3.10,-3.10 z" fill="#0c0ca0" stroke="none" stroke-width="0"/>
<path d="M641.75,515.22 l3.10,3.10 l-3.10,3.10 l-3.10,-3.10 z" fill="#0c0ca0" stroke="none" stroke-width="0"/>
<path d="M662.96,493.36 l3.10,3.10 l-3.10,3.10 l-3.10,-3.10 z" fill="#0c0ca0" stroke="none" stroke-width="0"/>
<path d="M681.59,479.87 l3.10,3.10 l-3.10,3.10 l-3.10,-3.10 z" fill="#0c0ca0" stroke="none" stroke-width="0"/>
<path d="M695.80,465.03 l3.10,3.10 l-3.10,3.10 l-3.10,-3.10 z" fill="#0c0ca0" stroke="none" stroke-width="0"/>
<path d="M704.65,452.34 l3.10,3.10 l-3.10,3.10 l-3.10,-3.10 z" fill="#0c0ca0" stroke="none" stroke-width="0"/>
<path d="M711.55,443.44 l3.10,3.10 l-3.10,3.10 l-3.10,-3.10 z" fill="#0c0ca0" stroke="none" stroke-width="0"/>
<path d="M725.29,431.56 l3.10,3.10 l-3.10,3.10 l-3.10,-3.10 z" fill="#0c0ca0" stroke="none" stroke-width="0"/>
<path d="M736.02,418.61 l3.10,3.10 l-3.10,3.10 l-3.10,-3.10 z" fill="#0c0ca0" stroke="none" stroke-width="0"/>
<path d="M743.05,407.27 l3.10,3.10 l-3.10,3.10 l-3.10,-3.10 z" fill="#0c0ca0" stroke="none" stroke-width="0"/>
<path d="M743.05,400.80 l3.10,3.10 l-3.10,3.10 l-3.10,-3.10 z" fill="#0c0ca0" stroke="none" stroke-width="0"/>
<path d="M532.26,541.94 l3.10,3.10 l-3.10,3.10 l-3.10,-3.10 z" fill="#0c0ca0" stroke="none" stroke-width="0"/>
<path d="M540.97,549.50 l3.10,3.10 l-3.10,3.10 l-3.10,-3.10 z" fill="#0c0ca0" stroke="none" stroke-width="0"/>
<path d="M551.36,557.59 l3.10,3.10 l-3.10,3.10 l-3.10,-3.10 z" fill="#0c0ca0" stroke="none" stroke-width="0"/>
<path d="M557.06,561.91 l3.10,3.10 l-3.10,3.10 l-3.10,-3.10 z" fill="#0c0ca0" stroke="none" stroke-width="0"/>
<path d="M571.13,564.07 l3.10,3.10 l-3.10,3.10 l-3.10,-3.10 z" fill="#0c0ca0" stroke="none" stroke-width="0"/>
<path d="M591.58,561.91 l3.10,3.10 l-3.10,3.10 l-3.10,-3.10 z" fill="#0c0ca0" stroke="none" stroke-width="0"/>
<path d="M607.66,556.78 l3.10,3.10 l-3.10,3.10 l-3.10,-3.10 z" fill="#0c0ca0" stroke="none" stroke-width="0"/>
<path d="M625.76,550.31 l3.10,3.10 l-3.10,3.10 l-3.10,-3.10 z" fill="#0c0ca0" stroke="none" stroke-width="0"/>
<path d="M644.19,542.75 l3.10,3.10 l-3.10,3.10 l-3.10,-3.10 z" fill="#0c0ca0" stroke="none" stroke-width="0"/>
<path d="M665.64,530.34 l3.10,3.10 l-3.10,3.10 l-3.10,-3.10 z" fill="#0c0ca0" stroke="none" stroke-width="0"/>
<path d="M681.59,518.19 l3.10,3.10 l-3.10,3.10 l-3.10,-3.10 z" fill="#0c0ca0" stroke="none" stroke-width="0"/>
<path d="M701.50,504.70 l3.10,3.10 l-3.10,3.10 l-3.10,-3.10 z" fill="#0c0ca0" stroke="none" stroke-width="0"/>
<path d="M717.92,490.39 l3.10,3.10 l-3.10,3.10 l-3.10,-3.10 z" fill="#0c0ca0" stroke="none" stroke-width="0"/>
<path d="M740.37,477.71 l3.10,3.10 l-3.10,3.10 l-3.10,-3.10 z" fill="#0c0ca0" stroke="none" stroke-width="0"/>
<path d="M527.23,542.31 L530.33,547.31 L524.13,547.31 z" fill="#22e022"/>
<path d="M544.33,554.72 L547.43,559.72 L541.23,559.72 z" fill="#22e022"/>
<path d="M561.42,562.28 L564.52,567.28 L558.32,567.28 z" fill="#22e022"/>
<path d="M577.84,559.85 L580.94,564.85 L574.74,564.85 z" fill="#22e022"/>
<path d="M594.59,553.11 L597.69,558.11 L591.49,558.11 z" fill="#22e022"/>
<path d="M611.35,544.74 L614.45,549.74 L608.25,549.74 z" fill="#22e022"/>
<path d="M628.11,536.91 L631.21,541.91 L625.01,541.91 z" fill="#22e022"/>
<path d="M644.53,522.34 L647.63,527.34 L641.43,527.34 z" fill="#22e022"/>
<line x1="477.30" y1="373.40" x2="477.30" y2="592.80" stroke="#333" stroke-width="1.2"/>
<line x1="473.80" y1="589.30" x2="745.40" y2="589.30" stroke="#333" stroke-width="1.3"/>
<line x1="473.30" y1="373.40" x2="477.30" y2="373.40" stroke="#333" stroke-width="1.2"/>
<line x1="473.30" y1="427.38" x2="477.30" y2="427.38" stroke="#333" stroke-width="1.2"/>
<line x1="473.30" y1="481.35" x2="477.30" y2="481.35" stroke="#333" stroke-width="1.2"/>
<line x1="473.30" y1="535.32" x2="477.30" y2="535.32" stroke="#333" stroke-width="1.2"/>
<line x1="473.30" y1="589.30" x2="477.30" y2="589.30" stroke="#333" stroke-width="1.2"/>
<line x1="475.10" y1="400.39" x2="477.30" y2="400.39" stroke="#333" stroke-width="1.2"/>
<line x1="475.10" y1="454.36" x2="477.30" y2="454.36" stroke="#333" stroke-width="1.2"/>
<line x1="475.10" y1="508.34" x2="477.30" y2="508.34" stroke="#333" stroke-width="1.2"/>
<line x1="475.10" y1="562.31" x2="477.30" y2="562.31" stroke="#333" stroke-width="1.2"/>
<line x1="477.30" y1="589.30" x2="477.30" y2="593.30" stroke="#333" stroke-width="1.2"/>
<line x1="544.33" y1="589.30" x2="544.33" y2="593.30" stroke="#333" stroke-width="1.2"/>
<line x1="611.35" y1="589.30" x2="611.35" y2="593.30" stroke="#333" stroke-width="1.2"/>
<line x1="678.38" y1="589.30" x2="678.38" y2="593.30" stroke="#333" stroke-width="1.2"/>
<line x1="745.40" y1="589.30" x2="745.40" y2="593.30" stroke="#333" stroke-width="1.2"/>
<line x1="510.81" y1="589.30" x2="510.81" y2="591.50" stroke="#333" stroke-width="1.2"/>
<line x1="577.84" y1="589.30" x2="577.84" y2="591.50" stroke="#333" stroke-width="1.2"/>
<line x1="644.86" y1="589.30" x2="644.86" y2="591.50" stroke="#333" stroke-width="1.2"/>
<line x1="711.89" y1="589.30" x2="711.89" y2="591.50" stroke="#333" stroke-width="1.2"/>
<text transform="translate(470.85,379.90) scale(0.9450,1.0700)" font-size="18.00" text-anchor="end">8</text>
<text transform="translate(470.85,433.88) scale(0.9450,1.0700)" font-size="18.00" text-anchor="end">6</text>
<text transform="translate(470.85,487.85) scale(0.9450,1.0700)" font-size="18.00" text-anchor="end">4</text>
<text transform="translate(470.85,541.83) scale(0.9450,1.0700)" font-size="18.00" text-anchor="end">2</text>
<text transform="translate(470.85,595.80) scale(0.9450,1.0700)" font-size="18.00" text-anchor="end">0</text>
<text transform="translate(475.80,611.60) scale(0.9450,1.0700)" font-size="18.00" text-anchor="middle">400</text>
<text transform="translate(542.83,611.60) scale(0.9450,1.0700)" font-size="18.00" text-anchor="middle">600</text>
<text transform="translate(609.85,611.60) scale(0.9450,1.0700)" font-size="18.00" text-anchor="middle">800</text>
<text transform="translate(676.88,611.60) scale(0.9450,1.0700)" font-size="18.00" text-anchor="middle">1000</text>
<text transform="translate(743.90,611.60) scale(0.9450,1.0700)" font-size="18.00" text-anchor="middle">1200</text>
<text transform="translate(612.20,631.50) scale(0.9450,1.0700)" font-size="18.00" text-anchor="middle">Wavelength(nm)</text>
<text transform="translate(456.00,480.50) rotate(-90) scale(1.0400,0.9450)" font-size="18" text-anchor="middle">Imaginary part</text>
<text x="603.90" y="669.90" font-size="19.5" text-anchor="middle">(<tspan font-weight="bold">d</tspan>)</text>
<rect x="507.30" y="373.20" width="119.30" height="83.90" fill="#fff" stroke="#8a8a8a" stroke-width="1"/>
<line x1="509.40" y1="384.40" x2="543.20" y2="384.40" stroke="#80388a" stroke-width="1"/>
<path d="M526.30,381.65 l2.75,2.75 l-2.75,2.75 l-2.75,-2.75 z" fill="#fff" stroke="#80388a" stroke-width="1.0"/>
<text transform="translate(547.50,390.22) scale(0.9450,1.0700)" font-size="16.00" text-anchor="start">L-Drude</text>
<line x1="509.40" y1="404.50" x2="543.20" y2="404.50" stroke="#5a64b4" stroke-width="1"/>
<path d="M526.30,401.40 l3.10,3.10 l-3.10,3.10 l-3.10,-3.10 z" fill="#0c0ca0" stroke="none" stroke-width="0"/>
<text transform="translate(547.50,410.32) scale(0.9450,1.0700)" font-size="16.00" text-anchor="start">Christy</text>
<line x1="509.40" y1="424.80" x2="543.20" y2="424.80" stroke="#58e458" stroke-width="1"/>
<path d="M526.30,421.80 L529.40,426.80 L523.20,426.80 z" fill="#22e022"/>
<text transform="translate(547.50,430.62) scale(0.9450,1.0700)" font-size="16.00" text-anchor="start">SPR</text>
<line x1="509.40" y1="445.20" x2="543.20" y2="445.20" stroke="#e06060" stroke-width="1"/>
<circle cx="526.30" cy="445.20" r="0.9" fill="#c00"/>
<text transform="translate(547.50,451.02) scale(0.9450,1.0700)" font-size="16.00" text-anchor="start">Ellipsometer</text></g>
<g><path d="M63.00,742.93 L63.49,742.96 L64.13,743.00 L64.87,743.03 L65.72,743.08 L66.65,743.13 L67.63,743.20 L68.66,743.28 L69.70,743.37 L70.78,743.46 L71.94,743.55 L73.15,743.65 L74.41,743.76 L75.71,743.89 L77.04,744.05 L78.39,744.25 L79.75,744.50 L81.11,744.79 L82.48,745.12 L83.88,745.48 L85.30,745.87 L86.76,746.29 L88.27,746.74 L89.84,747.23 L91.47,747.74 L93.17,748.27 L94.92,748.82 L96.72,749.40 L98.57,750.01 L100.48,750.66 L102.44,751.35 L104.47,752.08 L106.55,752.86 L108.72,753.71 L111.00,754.61 L113.34,755.57 L115.74,756.57 L118.16,757.59 L120.58,758.63 L122.97,759.66 L125.31,760.68 L127.62,761.70 L129.94,762.74 L132.26,763.78 L134.56,764.83 L136.84,765.89 L139.08,766.94 L141.27,768.00 L143.40,769.05 L145.44,770.08 L147.38,771.11 L149.26,772.13 L151.11,773.16 L152.95,774.19 L154.83,775.24 L156.77,776.31 L158.81,777.41 L160.95,778.54 L163.18,779.69 L165.47,780.86 L167.79,782.05 L170.12,783.24 L172.43,784.45 L174.70,785.65 L176.90,786.85 L179.03,788.04 L181.11,789.23 L183.15,790.42 L185.17,791.62 L187.18,792.83 L189.20,794.05 L191.24,795.29 L193.31,796.56 L195.43,797.85 L197.56,799.17 L199.72,800.50 L201.88,801.85 L204.04,803.22 L206.18,804.59 L208.31,805.97 L210.40,807.35 L212.45,808.74 L214.46,810.15 L216.44,811.56 L218.42,812.98 L220.40,814.41 L222.39,815.84 L224.41,817.26 L226.48,818.68 L228.60,820.09 L230.77,821.49 L232.97,822.89 L235.19,824.29 L237.41,825.70 L239.61,827.12 L241.78,828.56 L243.90,830.01 L245.96,831.48 L247.98,832.95 L249.97,834.43 L251.94,835.93 L253.91,837.44 L255.90,838.98 L257.92,840.55 L259.98,842.15 L262.10,843.79 L264.26,845.47 L266.44,847.18 L268.65,848.91 L270.86,850.66 L273.06,852.41 L275.25,854.16 L277.40,855.91 L279.53,857.65 L281.63,859.39 L283.73,861.15 L285.82,862.90 L287.90,864.66 L289.98,866.42 L292.06,868.18 L294.15,869.93 L296.24,871.68 L298.32,873.41 L300.40,875.13 L302.48,876.86 L304.57,878.60 L306.67,880.36 L308.77,882.14 L310.90,883.96 L313.15,885.91 L315.55,888.01 L318.03,890.20 L320.49,892.37 L322.84,894.46 L324.99,896.37 L326.84,898.02 L328.32,899.34 L329.38,900.28 L330.09,900.91 L330.52,901.30 L330.75,901.51 L330.84,901.60 L330.86,901.63 L330.89,901.66 L331.00,901.76" fill="none" stroke="#80388a" stroke-width="1"/>
<path d="M91.47,744.99 l2.75,2.75 l-2.75,2.75 l-2.75,-2.75 z" fill="#fff" stroke="#80388a" stroke-width="1.0"/>
<path d="M125.31,757.93 l2.75,2.75 l-2.75,2.75 l-2.75,-2.75 z" fill="#fff" stroke="#80388a" stroke-width="1.0"/>
<path d="M158.98,774.75 l2.75,2.75 l-2.75,2.75 l-2.75,-2.75 z" fill="#fff" stroke="#80388a" stroke-width="1.0"/>
<path d="M193.15,793.71 l2.75,2.75 l-2.75,2.75 l-2.75,-2.75 z" fill="#fff" stroke="#80388a" stroke-width="1.0"/>
<path d="M226.65,816.04 l2.75,2.75 l-2.75,2.75 l-2.75,-2.75 z" fill="#fff" stroke="#80388a" stroke-width="1.0"/>
<path d="M260.31,839.66 l2.75,2.75 l-2.75,2.75 l-2.75,-2.75 z" fill="#fff" stroke="#80388a" stroke-width="1.0"/>
<path d="M294.32,867.32 l2.75,2.75 l-2.75,2.75 l-2.75,-2.75 z" fill="#fff" stroke="#80388a" stroke-width="1.0"/>
<path d="M328.32,896.59 l2.75,2.75 l-2.75,2.75 l-2.75,-2.75 z" fill="#fff" stroke="#80388a" stroke-width="1.0"/>
<path d="M67.46,737.49 L67.89,737.48 L68.47,737.48 L69.15,737.47 L69.91,737.46 L70.73,737.45 L71.57,737.45 L72.41,737.45 L73.22,737.46 L74.02,737.47 L74.85,737.50 L75.70,737.53 L76.57,737.56 L77.44,737.59 L78.32,737.62 L79.19,737.64 L80.05,737.65 L80.90,737.63 L81.73,737.59 L82.57,737.54 L83.40,737.48 L84.24,737.44 L85.11,737.41 L86.00,737.43 L86.92,737.49 L87.88,737.58 L88.87,737.69 L89.89,737.82 L90.93,737.98 L91.98,738.17 L93.03,738.41 L94.08,738.70 L95.13,739.05 L96.16,739.47 L97.19,739.96 L98.22,740.50 L99.25,741.08 L100.29,741.69 L101.34,742.32 L102.41,742.94 L103.50,743.56 L104.60,744.16 L105.71,744.76 L106.83,745.38 L107.96,746.00 L109.12,746.64 L110.30,747.29 L111.52,747.96 L112.78,748.65 L114.09,749.36 L115.44,750.09 L116.83,750.84 L118.25,751.60 L119.68,752.38 L121.12,753.17 L122.57,753.97 L124.00,754.78 L125.42,755.59 L126.82,756.42 L128.22,757.25 L129.62,758.09 L131.05,758.96 L132.52,759.83 L134.04,760.73 L135.63,761.66 L137.28,762.60 L139.00,763.58 L140.76,764.57 L142.56,765.58 L144.39,766.61 L146.24,767.64 L148.09,768.68 L149.93,769.72 L151.77,770.76 L153.60,771.79 L155.43,772.82 L157.29,773.86 L159.16,774.92 L161.07,776.01 L163.01,777.12 L165.01,778.27 L167.03,779.44 L169.06,780.62 L171.12,781.82 L173.21,783.04 L175.36,784.31 L177.58,785.63 L179.87,787.02 L182.26,788.50 L184.75,790.05 L187.35,791.67 L190.02,793.35 L192.76,795.10 L195.55,796.89 L198.38,798.73 L201.22,800.61 L204.07,802.52 L206.89,804.45 L209.70,806.40 L212.51,808.38 L215.36,810.41 L218.29,812.51 L221.31,814.68 L224.47,816.95 L227.79,819.33 L231.28,821.80 L234.91,824.34 L238.66,826.96 L242.53,829.66 L246.47,832.46 L250.49,835.37 L254.55,838.39 L258.64,841.53 L262.77,844.79 L266.98,848.15 L271.24,851.63 L275.57,855.21 L279.95,858.90 L284.37,862.69 L288.84,866.60 L293.35,870.61 L298.17,875.02 L303.43,879.95 L308.91,885.16 L314.34,890.39 L319.51,895.39 L324.16,899.92 L328.07,903.72 L331.00,906.54" fill="none" stroke="#5a64b4" stroke-width="0.9"/>
<path d="M63.00,736.68 L63.32,736.64 L63.73,736.60 L64.20,736.55 L64.74,736.49 L65.32,736.43 L65.93,736.36 L66.57,736.30 L67.22,736.23 L67.87,736.17 L68.51,736.11 L69.12,736.05 L69.70,736.00 L70.26,735.96 L70.82,735.91 L71.38,735.87 L71.93,735.82 L72.49,735.78 L73.05,735.74 L73.61,735.70 L74.17,735.67 L74.72,735.64 L75.28,735.62 L75.84,735.61 L76.40,735.60 L76.97,735.60 L77.55,735.60 L78.14,735.61 L78.73,735.62 L79.33,735.64 L79.92,735.66 L80.50,735.69 L81.07,735.72 L81.61,735.76 L82.14,735.79 L82.64,735.83 L83.10,735.87 L83.53,735.91 L83.92,735.95 L84.29,735.99 L84.63,736.04 L84.95,736.09 L85.26,736.15 L85.56,736.20 L85.85,736.26 L86.15,736.33 L86.46,736.39 L86.78,736.47 L87.12,736.54 L87.47,736.62 L87.82,736.71 L88.17,736.79 L88.52,736.89 L88.88,736.98 L89.23,737.08 L89.60,737.18 L89.96,737.29 L90.33,737.40 L90.71,737.52 L91.09,737.63 L91.47,737.76 L91.86,737.88 L92.25,738.00 L92.64,738.11 L93.04,738.24 L93.44,738.36 L93.84,738.49 L94.25,738.63 L94.68,738.77 L95.11,738.93 L95.56,739.11 L96.02,739.30 L96.50,739.51 L96.99,739.73 L97.49,739.97 L97.99,740.21 L98.51,740.47 L99.04,740.74 L99.58,741.03 L100.13,741.32 L100.71,741.63 L101.30,741.96 L101.91,742.29 L102.54,742.65 L103.20,743.02 L103.88,743.40 L104.58,743.82 L105.31,744.25 L106.05,744.69 L106.82,745.16 L107.60,745.63 L108.39,746.11 L109.21,746.60 L110.03,747.09 L110.87,747.58 L111.72,748.06 L112.58,748.55 L113.46,749.02 L114.35,749.50 L115.27,749.98 L116.20,750.45 L117.15,750.93 L118.11,751.42 L119.07,751.91 L120.05,752.41 L121.03,752.91 L122.01,753.42 L122.99,753.95 L123.97,754.48 L124.95,755.02 L125.92,755.57 L126.90,756.13 L127.88,756.69 L128.86,757.26 L129.85,757.84 L130.85,758.42 L131.86,759.02 L132.88,759.62 L133.92,760.23 L134.96,760.86 L136.03,761.49 L137.11,762.14 L138.20,762.81 L139.31,763.48 L140.42,764.17 L141.55,764.87 L142.69,765.57 L143.84,766.28 L145.00,767.00 L146.17,767.71 L147.36,768.43 L148.56,769.15 L149.76,769.86 L150.98,770.56 L152.21,771.26 L153.45,771.96 L154.70,772.66 L155.97,773.36 L157.24,774.07 L158.53,774.78 L159.83,775.50 L161.14,776.23 L162.47,776.97 L163.82,777.72 L165.18,778.49 L166.54,779.26 L167.92,780.03 L169.29,780.79 L170.68,781.56 L172.09,782.35 L173.51,783.14 L174.95,783.95 L176.42,784.79 L177.91,785.66 L179.44,786.56 L181.00,787.49 L182.59,788.47 L184.23,789.49 L185.91,790.54 L187.62,791.63 L189.36,792.74 L191.12,793.89 L192.92,795.06 L194.73,796.25 L196.57,797.47 L198.42,798.70 L200.28,799.95 L202.15,801.22 L204.03,802.50 L205.91,803.78 L207.78,805.06 L209.64,806.35 L211.52,807.66 L213.41,808.99 L215.32,810.34 L217.27,811.71 L219.26,813.13 L221.30,814.58 L223.40,816.07 L225.57,817.62 L227.82,819.22 L230.20,820.91 L232.73,822.70 L235.39,824.58 L238.13,826.52 L240.92,828.50 L243.73,830.50 L246.52,832.49 L249.26,834.46 L251.91,836.37 L254.43,838.22 L256.80,839.97 L258.98,841.61 L260.96,843.14 L262.80,844.60 L264.50,845.97 M267.69,848.63 L269.09,849.84 L270.49,851.05 L271.85,852.24 L273.21,853.42 L274.57,854.60 L275.96,855.78 L277.40,856.99 L278.84,858.17 L280.25,859.32 L281.63,860.43 L282.98,861.52 L284.33,862.60 L285.67,863.68 L287.02,864.77 L288.38,865.88 L289.77,867.02 L291.18,868.20 L292.64,869.44 L294.15,870.74 L295.72,872.11 L297.34,873.54 L299.02,875.01 L300.73,876.53 L302.46,878.07 L304.20,879.64 L305.94,881.23 L307.67,882.82 L309.38,884.41 L311.06,885.99 L312.68,887.55 L314.25,889.09 L315.82,890.66 L317.43,892.32 L319.07,894.05 L320.70,895.80 L322.31,897.55 L323.88,899.27 L325.38,900.92 L326.78,902.48 L328.07,903.92 L329.22,905.20 L330.20,906.29 L331.00,907.16" fill="none" stroke="#c41c26" stroke-width="1"/>
<path d="M63.00 736.68h0M63.47 736.63h0M63.94 736.58h0M64.41 736.53h0M64.88 736.48h0M65.34 736.43h0M65.81 736.38h0M66.28 736.33h0M66.75 736.28h0M67.22 736.23h0M67.69 736.19h0M68.16 736.14h0M68.63 736.10h0M69.10 736.05h0M69.57 736.01h0M70.03 735.97h0M70.50 735.94h0M70.97 735.90h0M71.44 735.86h0M71.91 735.82h0M72.38 735.79h0M72.85 735.76h0M73.32 735.72h0M73.79 735.69h0M74.26 735.67h0M74.72 735.64h0M75.19 735.63h0M75.66 735.61h0M76.13 735.60h0M76.60 735.60h0M77.07 735.60h0M77.54 735.60h0M78.01 735.61h0M78.48 735.62h0M78.95 735.63h0M79.41 735.65h0M79.88 735.66h0M80.35 735.69h0M80.82 735.71h0M81.29 735.74h0M81.76 735.77h0M82.23 735.80h0M82.70 735.83h0M83.17 735.87h0M83.64 735.92h0M84.10 735.97h0M84.57 736.03h0M85.04 736.11h0M85.51 736.19h0M85.98 736.29h0M86.45 736.39h0M86.92 736.50h0M87.39 736.60h0M87.86 736.72h0M88.33 736.84h0M88.79 736.96h0M89.26 737.09h0M89.73 737.22h0M90.20 737.36h0M90.67 737.50h0M91.14 737.65h0M91.61 737.80h0M92.08 737.94h0M92.55 738.09h0M93.02 738.23h0M93.48 738.37h0M93.95 738.53h0M94.42 738.69h0M94.89 738.85h0M95.36 739.03h0M95.83 739.22h0M96.30 739.42h0M96.77 739.63h0M97.24 739.85h0M97.71 740.07h0M98.17 740.31h0M98.64 740.54h0M99.11 740.78h0M99.58 741.03h0M100.05 741.28h0M100.52 741.53h0M100.99 741.79h0M101.46 742.04h0M101.93 742.30h0M102.40 742.57h0M102.86 742.83h0M103.33 743.09h0M103.80 743.36h0M104.27 743.63h0M104.74 743.91h0M105.21 744.19h0M105.68 744.47h0M106.15 744.75h0M106.62 745.04h0M107.09 745.32h0M107.55 745.60h0M108.02 745.89h0M108.49 746.17h0M108.96 746.45h0M109.43 746.73h0M109.90 747.01h0M110.37 747.28h0M110.84 747.56h0M111.31 747.83h0M111.78 748.10h0M112.24 748.36h0M112.71 748.62h0M113.18 748.87h0M113.65 749.13h0M114.12 749.37h0M114.59 749.62h0M115.06 749.87h0M115.53 750.11h0M116.00 750.35h0M116.47 750.59h0M116.93 750.83h0M117.40 751.06h0M117.87 751.30h0M118.34 751.54h0M118.81 751.78h0M119.28 752.01h0M119.75 752.25h0M120.22 752.49h0M120.69 752.74h0M121.16 752.98h0M121.62 753.22h0M122.09 753.47h0M122.56 753.72h0M123.03 753.97h0M123.50 754.22h0M123.97 754.48h0M124.44 754.74h0M124.91 755.00h0M125.38 755.26h0M125.85 755.53h0M126.31 755.79h0M126.78 756.06h0M127.25 756.33h0M127.72 756.60h0M128.19 756.87h0M128.66 757.14h0M129.13 757.41h0M129.60 757.69h0M130.07 757.96h0M130.54 758.24h0M131.00 758.51h0M131.47 758.79h0M131.94 759.06h0M132.41 759.34h0M132.88 759.62h0M133.35 759.90h0M133.82 760.18h0M134.29 760.46h0M134.76 760.74h0M135.23 761.01h0M135.69 761.29h0M136.16 761.57h0M136.63 761.86h0M137.10 762.14h0M137.57 762.42h0M138.04 762.71h0M138.51 762.99h0M138.98 763.28h0M139.45 763.57h0M139.92 763.86h0M140.38 764.15h0M140.85 764.44h0M141.32 764.73h0M141.79 765.02h0M142.26 765.31h0M142.73 765.60h0M143.20 765.89h0M143.67 766.18h0M144.14 766.47h0M144.61 766.76h0M145.07 767.04h0M145.54 767.33h0M146.01 767.62h0M146.48 767.90h0M146.95 768.18h0M147.42 768.47h0M147.89 768.75h0M148.36 769.03h0M148.83 769.30h0M149.30 769.58h0M149.76 769.86h0M150.23 770.13h0M150.70 770.40h0M151.17 770.67h0M151.64 770.94h0M152.11 771.20h0M152.58 771.47h0M153.05 771.73h0M153.52 772.00h0M153.99 772.26h0M154.45 772.52h0M154.92 772.79h0M155.39 773.05h0M155.86 773.31h0M156.33 773.57h0M156.80 773.83h0M157.27 774.09h0M157.74 774.35h0M158.21 774.61h0M158.68 774.86h0M159.14 775.12h0M159.61 775.38h0M160.08 775.64h0M160.55 775.90h0M161.02 776.16h0M161.49 776.42h0M161.96 776.68h0M162.43 776.94h0M162.90 777.21h0M163.37 777.47h0M163.83 777.73h0M164.30 778.00h0M164.77 778.26h0M165.24 778.53h0M165.71 778.79h0M166.18 779.05h0M166.65 779.32h0M167.12 779.58h0M167.59 779.84h0M168.06 780.10h0M168.52 780.37h0M168.99 780.63h0M169.46 780.89h0M169.93 781.15h0M170.40 781.41h0M170.87 781.67h0M171.34 781.93h0M171.81 782.19h0M172.28 782.45h0M172.75 782.71h0M173.21 782.98h0M173.68 783.24h0M174.15 783.50h0M174.62 783.77h0M175.09 784.04h0M175.56 784.30h0M176.03 784.57h0M176.50 784.84h0M176.97 785.11h0M177.44 785.38h0M177.90 785.65h0M178.37 785.93h0M178.84 786.21h0M179.31 786.48h0M179.78 786.76h0M180.25 787.04h0M180.72 787.32h0M181.19 787.61h0M181.66 787.89h0M182.13 788.18h0M182.59 788.47h0M183.06 788.76h0M183.53 789.05h0M184.00 789.34h0M184.47 789.64h0M184.94 789.93h0M185.41 790.23h0M185.88 790.52h0M186.35 790.82h0M186.82 791.12h0M187.28 791.42h0M187.75 791.72h0M188.22 792.02h0M188.69 792.32h0M189.16 792.62h0M189.63 792.92h0M190.10 793.23h0M190.57 793.53h0M191.04 793.83h0M191.51 794.14h0M191.97 794.45h0M192.44 794.75h0M192.91 795.06h0M193.38 795.37h0M193.85 795.68h0M194.32 795.98h0M194.79 796.29h0M195.26 796.60h0M195.73 796.91h0M196.20 797.23h0M196.66 797.54h0M197.13 797.85h0M197.60 798.16h0M198.07 798.47h0M198.54 798.79h0M199.01 799.10h0M199.48 799.42h0M199.95 799.73h0M200.42 800.05h0M200.89 800.36h0M201.35 800.68h0M201.82 801.00h0M202.29 801.31h0M202.76 801.63h0M203.23 801.95h0M203.70 802.27h0M204.17 802.59h0M204.64 802.91h0M205.11 803.23h0M205.58 803.55h0M206.04 803.87h0M206.51 804.19h0M206.98 804.51h0M207.45 804.84h0M207.92 805.16h0M208.39 805.49h0M208.86 805.81h0M209.33 806.14h0M209.80 806.46h0M210.27 806.79h0M210.73 807.12h0M211.20 807.44h0M211.67 807.77h0M212.14 808.10h0M212.61 808.43h0M213.08 808.76h0M213.55 809.09h0M214.02 809.42h0M214.49 809.75h0M214.96 810.08h0M215.42 810.41h0M215.89 810.74h0M216.36 811.07h0M216.83 811.40h0M217.30 811.74h0M217.77 812.07h0M218.24 812.40h0M218.71 812.73h0M219.18 813.07h0M219.65 813.40h0M220.11 813.73h0M220.58 814.07h0M221.05 814.40h0M221.52 814.73h0M221.99 815.07h0M222.46 815.40h0M222.93 815.74h0M223.40 816.07h0M223.87 816.40h0M224.34 816.74h0M224.80 817.07h0M225.27 817.41h0M225.74 817.74h0M226.21 818.07h0M226.68 818.41h0M227.15 818.74h0M227.62 819.08h0M228.09 819.41h0M228.56 819.74h0M229.03 820.08h0M229.49 820.41h0M229.96 820.74h0M230.43 821.08h0M230.90 821.41h0M231.37 821.74h0M231.84 822.07h0M232.31 822.40h0M232.78 822.74h0M233.25 823.07h0M233.72 823.40h0M234.18 823.73h0M234.65 824.06h0M235.12 824.40h0M235.59 824.73h0M236.06 825.06h0M236.53 825.39h0M237.00 825.72h0M237.47 826.05h0M237.94 826.39h0M238.41 826.72h0M238.87 827.05h0M239.34 827.38h0M239.81 827.72h0M240.28 828.05h0M240.75 828.38h0M241.22 828.71h0M241.69 829.05h0M242.16 829.38h0M242.63 829.71h0M243.10 830.05h0M243.56 830.38h0M244.03 830.71h0M244.50 831.05h0M244.97 831.38h0M245.44 831.72h0M245.91 832.05h0M246.38 832.39h0M246.85 832.72h0M247.32 833.06h0M247.79 833.40h0M248.25 833.73h0M248.72 834.07h0M249.19 834.41h0M249.66 834.75h0M250.13 835.09h0M250.60 835.43h0M251.07 835.76h0M251.54 836.10h0M252.01 836.44h0M252.48 836.79h0M252.94 837.13h0M253.41 837.47h0M253.88 837.82h0M254.35 838.16h0M254.82 838.50h0M255.29 838.85h0M255.76 839.20h0M256.23 839.55h0M256.70 839.89h0M257.17 840.25h0M257.63 840.60h0M258.10 840.95h0M258.57 841.31h0M259.04 841.66h0M259.51 842.02h0M259.98 842.38h0M260.45 842.75h0M260.92 843.11h0M261.39 843.48h0M261.86 843.85h0M262.32 844.22h0M262.79 844.59h0M263.26 844.97h0M263.73 845.35h0M264.20 845.73h0M267.95 848.86h0M268.42 849.27h0M268.89 849.67h0M269.36 850.07h0M269.83 850.48h0M270.30 850.89h0M270.77 851.29h0M271.24 851.70h0M271.70 852.11h0M272.17 852.52h0M272.64 852.93h0M273.11 853.33h0M273.58 853.74h0M274.05 854.15h0M274.52 854.55h0M274.99 854.95h0M275.46 855.35h0M275.93 855.75h0M276.39 856.14h0M276.86 856.54h0M277.33 856.93h0M277.80 857.32h0M278.27 857.70h0M278.74 858.09h0M279.21 858.47h0M279.68 858.85h0M280.15 859.23h0M280.62 859.61h0M281.08 859.99h0M281.55 860.37h0M282.02 860.75h0M282.49 861.13h0M282.96 861.50h0M283.43 861.88h0M283.90 862.26h0M284.37 862.63h0M284.84 863.01h0M285.31 863.39h0M285.77 863.76h0M286.24 864.14h0M286.71 864.52h0M287.18 864.90h0M287.65 865.28h0M288.12 865.66h0M288.59 866.05h0M289.06 866.43h0M289.53 866.82h0M290.00 867.21h0M290.46 867.60h0M290.93 867.99h0M291.40 868.39h0M291.87 868.79h0M292.34 869.18h0M292.81 869.59h0M293.28 869.99h0M293.75 870.40h0M294.22 870.80h0M294.69 871.21h0M295.15 871.62h0M295.62 872.03h0M296.09 872.44h0M296.56 872.85h0M297.03 873.26h0M297.50 873.67h0M297.97 874.09h0M298.44 874.50h0M298.91 874.91h0M299.38 875.33h0M299.84 875.75h0M300.31 876.16h0M300.78 876.58h0M301.25 877.00h0M301.72 877.42h0M302.19 877.84h0M302.66 878.26h0M303.13 878.68h0M303.60 879.10h0M304.07 879.52h0M304.53 879.95h0M305.00 880.38h0M305.47 880.80h0M305.94 881.23h0M306.41 881.66h0M306.88 882.09h0M307.35 882.52h0M307.82 882.96h0M308.29 883.39h0M308.76 883.83h0M309.22 884.26h0M309.69 884.71h0M310.16 885.15h0M310.63 885.59h0M311.10 886.03h0M311.57 886.48h0M312.04 886.93h0M312.51 887.38h0M312.98 887.84h0M313.45 888.30h0M313.91 888.76h0M314.38 889.22h0M314.85 889.69h0M315.32 890.16h0M315.79 890.63h0M316.26 891.12h0M316.73 891.60h0M317.20 892.08h0M317.67 892.57h0M318.14 893.07h0M318.60 893.56h0M319.07 894.06h0M319.54 894.56h0M320.01 895.06h0M320.48 895.56h0M320.95 896.07h0M321.42 896.58h0M321.89 897.09h0M322.36 897.60h0M322.83 898.11h0M323.29 898.63h0M323.76 899.14h0M324.23 899.66h0M324.70 900.18h0M325.17 900.69h0M325.64 901.21h0M326.11 901.74h0M326.58 902.26h0M327.05 902.78h0M327.52 903.30h0M327.99 903.82h0M328.45 904.35h0M328.92 904.87h0M329.39 905.39h0M329.86 905.91h0M330.33 906.43h0M330.80 906.94h0" fill="none" stroke="#c41c26" stroke-width="2.30" stroke-linecap="round"/>
<path d="M113.25,759.88 L130.00,766.89 L146.75,774.71 L163.50,783.34 L180.25,791.98 L197.00,807.62 L213.75,818.68 L230.50,833.52" fill="none" stroke="#58e458" stroke-width="1"/>
<path d="M67.46,734.39 l3.10,3.10 l-3.10,3.10 l-3.10,-3.10 z" fill="#0c0ca0" stroke="none" stroke-width="0"/>
<path d="M73.22,734.36 l3.10,3.10 l-3.10,3.10 l-3.10,-3.10 z" fill="#0c0ca0" stroke="none" stroke-width="0"/>
<path d="M80.05,734.55 l3.10,3.10 l-3.10,3.10 l-3.10,-3.10 z" fill="#0c0ca0" stroke="none" stroke-width="0"/>
<path d="M86.92,734.39 l3.10,3.10 l-3.10,3.10 l-3.10,-3.10 z" fill="#0c0ca0" stroke="none" stroke-width="0"/>
<path d="M95.13,735.95 l3.10,3.10 l-3.10,3.10 l-3.10,-3.10 z" fill="#0c0ca0" stroke="none" stroke-width="0"/>
<path d="M103.50,740.46 l3.10,3.10 l-3.10,3.10 l-3.10,-3.10 z" fill="#0c0ca0" stroke="none" stroke-width="0"/>
<path d="M112.78,745.55 l3.10,3.10 l-3.10,3.10 l-3.10,-3.10 z" fill="#0c0ca0" stroke="none" stroke-width="0"/>
<path d="M124.00,751.68 l3.10,3.10 l-3.10,3.10 l-3.10,-3.10 z" fill="#0c0ca0" stroke="none" stroke-width="0"/>
<path d="M135.63,758.56 l3.10,3.10 l-3.10,3.10 l-3.10,-3.10 z" fill="#0c0ca0" stroke="none" stroke-width="0"/>
<path d="M149.93,766.62 l3.10,3.10 l-3.10,3.10 l-3.10,-3.10 z" fill="#0c0ca0" stroke="none" stroke-width="0"/>
<path d="M165.01,775.17 l3.10,3.10 l-3.10,3.10 l-3.10,-3.10 z" fill="#0c0ca0" stroke="none" stroke-width="0"/>
<path d="M182.26,785.40 l3.10,3.10 l-3.10,3.10 l-3.10,-3.10 z" fill="#0c0ca0" stroke="none" stroke-width="0"/>
<path d="M204.07,799.42 l3.10,3.10 l-3.10,3.10 l-3.10,-3.10 z" fill="#0c0ca0" stroke="none" stroke-width="0"/>
<path d="M227.79,816.23 l3.10,3.10 l-3.10,3.10 l-3.10,-3.10 z" fill="#0c0ca0" stroke="none" stroke-width="0"/>
<path d="M258.64,838.43 l3.10,3.10 l-3.10,3.10 l-3.10,-3.10 z" fill="#0c0ca0" stroke="none" stroke-width="0"/>
<path d="M293.35,867.51 l3.10,3.10 l-3.10,3.10 l-3.10,-3.10 z" fill="#0c0ca0" stroke="none" stroke-width="0"/>
<path d="M113.25,756.88 L116.35,761.88 L110.15,761.88 z" fill="#22e022"/>
<path d="M130.00,763.89 L133.10,768.89 L126.90,768.89 z" fill="#22e022"/>
<path d="M146.75,771.71 L149.85,776.71 L143.65,776.71 z" fill="#22e022"/>
<path d="M163.50,780.34 L166.60,785.34 L160.40,785.34 z" fill="#22e022"/>
<path d="M180.25,788.98 L183.35,793.98 L177.15,793.98 z" fill="#22e022"/>
<path d="M197.00,804.62 L200.10,809.62 L193.90,809.62 z" fill="#22e022"/>
<path d="M213.75,815.68 L216.85,820.68 L210.65,820.68 z" fill="#22e022"/>
<path d="M230.50,830.52 L233.60,835.52 L227.40,835.52 z" fill="#22e022"/>
<line x1="63.00" y1="732.90" x2="63.00" y2="952.20" stroke="#333" stroke-width="1.2"/>
<line x1="59.50" y1="948.70" x2="331.00" y2="948.70" stroke="#333" stroke-width="1.3"/>
<line x1="59.00" y1="732.90" x2="63.00" y2="732.90" stroke="#333" stroke-width="1.2"/>
<line x1="59.00" y1="786.85" x2="63.00" y2="786.85" stroke="#333" stroke-width="1.2"/>
<line x1="59.00" y1="840.80" x2="63.00" y2="840.80" stroke="#333" stroke-width="1.2"/>
<line x1="59.00" y1="894.75" x2="63.00" y2="894.75" stroke="#333" stroke-width="1.2"/>
<line x1="59.00" y1="948.70" x2="63.00" y2="948.70" stroke="#333" stroke-width="1.2"/>
<line x1="60.80" y1="759.88" x2="63.00" y2="759.88" stroke="#333" stroke-width="1.2"/>
<line x1="60.80" y1="813.83" x2="63.00" y2="813.83" stroke="#333" stroke-width="1.2"/>
<line x1="60.80" y1="867.78" x2="63.00" y2="867.78" stroke="#333" stroke-width="1.2"/>
<line x1="60.80" y1="921.73" x2="63.00" y2="921.73" stroke="#333" stroke-width="1.2"/>
<line x1="63.00" y1="948.70" x2="63.00" y2="952.70" stroke="#333" stroke-width="1.2"/>
<line x1="130.00" y1="948.70" x2="130.00" y2="952.70" stroke="#333" stroke-width="1.2"/>
<line x1="197.00" y1="948.70" x2="197.00" y2="952.70" stroke="#333" stroke-width="1.2"/>
<line x1="264.00" y1="948.70" x2="264.00" y2="952.70" stroke="#333" stroke-width="1.2"/>
<line x1="331.00" y1="948.70" x2="331.00" y2="952.70" stroke="#333" stroke-width="1.2"/>
<line x1="96.50" y1="948.70" x2="96.50" y2="950.90" stroke="#333" stroke-width="1.2"/>
<line x1="163.50" y1="948.70" x2="163.50" y2="950.90" stroke="#333" stroke-width="1.2"/>
<line x1="230.50" y1="948.70" x2="230.50" y2="950.90" stroke="#333" stroke-width="1.2"/>
<line x1="297.50" y1="948.70" x2="297.50" y2="950.90" stroke="#333" stroke-width="1.2"/>
<text transform="translate(55.60,738.98) scale(1.0000,1.0000)" font-size="18.00" text-anchor="end">0</text>
<text transform="translate(55.60,792.93) scale(1.0000,1.0000)" font-size="18.00" text-anchor="end">-20</text>
<text transform="translate(55.60,846.88) scale(1.0000,1.0000)" font-size="18.00" text-anchor="end">-40</text>
<text transform="translate(55.60,900.83) scale(1.0000,1.0000)" font-size="18.00" text-anchor="end">-60</text>
<text transform="translate(55.60,954.78) scale(1.0000,1.0000)" font-size="18.00" text-anchor="end">-80</text>
<text transform="translate(63.00,970.10) scale(1.0000,1.0000)" font-size="18.00" text-anchor="middle">400</text>
<text transform="translate(130.00,970.10) scale(1.0000,1.0000)" font-size="18.00" text-anchor="middle">600</text>
<text transform="translate(197.00,970.10) scale(1.0000,1.0000)" font-size="18.00" text-anchor="middle">800</text>
<text transform="translate(264.00,970.10) scale(1.0000,1.0000)" font-size="18.00" text-anchor="middle">1000</text>
<text transform="translate(331.00,970.10) scale(1.0000,1.0000)" font-size="18.00" text-anchor="middle">1200</text>
<text transform="translate(197.70,990.60) scale(1.0000,1.0000)" font-size="18.00" text-anchor="middle">Wavelength(nm)</text>
<text transform="translate(24.80,839.90) rotate(-90) scale(1.0000,1.0000)" font-size="18" text-anchor="middle">Real part</text>
<text x="189.50" y="1029.70" font-size="19.5" text-anchor="middle">(<tspan font-weight="bold">e</tspan>)</text>
<rect x="228.50" y="732.20" width="128.10" height="82.00" fill="#fff" stroke="#8a8a8a" stroke-width="1"/>
<line x1="231.00" y1="743.80" x2="266.60" y2="743.80" stroke="#80388a" stroke-width="1"/>
<path d="M249.00,741.05 l2.75,2.75 l-2.75,2.75 l-2.75,-2.75 z" fill="#fff" stroke="#80388a" stroke-width="1.0"/>
<text transform="translate(271.50,749.24) scale(1.0000,1.0000)" font-size="16.00" text-anchor="start">L-Drude</text>
<line x1="231.00" y1="763.30" x2="266.60" y2="763.30" stroke="#5a64b4" stroke-width="1"/>
<path d="M249.00,760.20 l3.10,3.10 l-3.10,3.10 l-3.10,-3.10 z" fill="#0c0ca0" stroke="none" stroke-width="0"/>
<text transform="translate(271.50,768.74) scale(1.0000,1.0000)" font-size="16.00" text-anchor="start">Christy</text>
<line x1="231.00" y1="782.70" x2="266.60" y2="782.70" stroke="#58e458" stroke-width="1"/>
<path d="M249.00,779.70 L252.10,784.70 L245.90,784.70 z" fill="#22e022"/>
<text transform="translate(271.50,788.14) scale(1.0000,1.0000)" font-size="16.00" text-anchor="start">SPR</text>
<line x1="231.00" y1="803.10" x2="266.60" y2="803.10" stroke="#e06060" stroke-width="1"/>
<circle cx="249.00" cy="803.10" r="0.9" fill="#c00"/>
<text transform="translate(271.50,808.54) scale(1.0000,1.0000)" font-size="16.00" text-anchor="start">Ellipsometer</text></g>
<g><path d="M477.30,793.80 L477.47,793.86 L477.67,793.91 L477.90,793.97 L478.18,794.05 L478.51,794.18 L478.92,794.40 L479.40,794.71 L479.98,795.14 L480.68,795.71 L481.51,796.39 L482.43,797.17 L483.42,798.03 L484.43,798.95 L485.45,799.91 L486.43,800.88 L487.35,801.86 L488.22,802.86 L489.08,803.90 L489.92,804.99 L490.75,806.10 L491.57,807.24 L492.40,808.39 L493.22,809.56 L494.06,810.74 L494.91,811.95 L495.77,813.22 L496.64,814.52 L497.51,815.83 L498.37,817.12 L499.20,818.38 L500.00,819.58 L500.76,820.68 L501.44,821.67 L502.05,822.53 L502.62,823.31 L503.17,824.06 L503.73,824.83 L504.33,825.66 L505.01,826.59 L505.79,827.68 L506.66,828.93 L507.61,830.32 L508.61,831.80 L509.66,833.36 L510.75,834.94 L511.87,836.51 L513.01,838.05 L514.16,839.51 L515.36,840.94 L516.64,842.40 L517.96,843.85 L519.30,845.29 L520.62,846.67 L521.90,847.98 L523.11,849.18 L524.22,850.26 L525.20,851.19 L526.08,851.98 L526.89,852.67 L527.65,853.29 L528.41,853.86 L529.18,854.42 L530.01,855.00 L530.92,855.64 L531.89,856.31 L532.89,856.98 L533.92,857.65 L534.98,858.33 L536.08,859.00 L537.22,859.67 L538.40,860.34 L539.63,861.02 L540.94,861.70 L542.32,862.41 L543.77,863.13 L545.25,863.84 L546.74,864.53 L548.21,865.20 L549.65,865.82 L551.03,866.39 L552.33,866.91 L553.59,867.38 L554.81,867.82 L556.01,868.22 L557.22,868.60 L558.46,868.96 L559.74,869.30 L561.08,869.62 L562.50,869.93 L563.97,870.23 L565.49,870.51 L567.03,870.76 L568.58,870.99 L570.13,871.20 L571.66,871.37 L573.15,871.50 L574.61,871.60 L576.07,871.66 L577.53,871.69 L578.97,871.69 L580.39,871.66 L581.80,871.62 L583.18,871.57 L584.54,871.50 L585.84,871.42 L587.08,871.32 L588.29,871.20 L589.48,871.06 L590.69,870.92 L591.92,870.76 L593.22,870.59 L594.59,870.43 L596.05,870.27 L597.56,870.11 L599.11,869.96 L600.71,869.79 L602.34,869.60 L603.99,869.38 L605.65,869.12 L607.33,868.81 L608.99,868.47 L610.63,868.11 L612.27,867.72 L613.95,867.30 L615.67,866.83 L617.48,866.30 L619.38,865.71 L621.40,865.05 L623.59,864.29 L625.93,863.44 L628.39,862.52 L630.91,861.55 L633.46,860.55 L636.00,859.53 L638.47,858.51 L640.84,857.52 L643.12,856.55 L645.36,855.58 L647.57,854.61 L649.74,853.62 L651.89,852.62 L654.03,851.60 L656.15,850.54 L658.27,849.45 L660.36,848.33 L662.43,847.18 L664.47,846.00 L666.50,844.80 L668.53,843.57 L670.56,842.33 L672.61,841.06 L674.69,839.77 L676.79,838.47 L678.91,837.16 L681.05,835.82 L683.19,834.46 L685.34,833.08 L687.49,831.67 L689.64,830.23 L691.78,828.75 L693.92,827.23 L696.07,825.68 L698.22,824.10 L700.37,822.48 L702.51,820.85 L704.65,819.19 L706.77,817.52 L708.87,815.84 L710.95,814.16 L713.00,812.48 L715.03,810.77 L717.06,809.06 L719.09,807.31 L721.13,805.53 L723.20,803.72 L725.29,801.86 L727.52,799.85 L729.92,797.65 L732.40,795.34 L734.86,793.04 L737.22,790.83 L739.38,788.81 L741.24,787.08 L742.72,785.73 L743.78,784.80 L744.49,784.21 L744.92,783.90 L745.15,783.78 L745.24,783.79 L745.26,783.85 L745.29,783.90 L745.40,783.85" fill="none" stroke="#80388a" stroke-width="1"/>
<path d="M505.79,824.93 l2.75,2.75 l-2.75,2.75 l-2.75,-2.75 z" fill="#fff" stroke="#80388a" stroke-width="1.0"/>
<path d="M539.63,858.27 l2.75,2.75 l-2.75,2.75 l-2.75,-2.75 z" fill="#fff" stroke="#80388a" stroke-width="1.0"/>
<path d="M573.15,868.75 l2.75,2.75 l-2.75,2.75 l-2.75,-2.75 z" fill="#fff" stroke="#80388a" stroke-width="1.0"/>
<path d="M607.33,866.06 l2.75,2.75 l-2.75,2.75 l-2.75,-2.75 z" fill="#fff" stroke="#80388a" stroke-width="1.0"/>
<path d="M640.84,854.77 l2.75,2.75 l-2.75,2.75 l-2.75,-2.75 z" fill="#fff" stroke="#80388a" stroke-width="1.0"/>
<path d="M674.69,837.02 l2.75,2.75 l-2.75,2.75 l-2.75,-2.75 z" fill="#fff" stroke="#80388a" stroke-width="1.0"/>
<path d="M708.87,813.09 l2.75,2.75 l-2.75,2.75 l-2.75,-2.75 z" fill="#fff" stroke="#80388a" stroke-width="1.0"/>
<path d="M742.72,782.98 l2.75,2.75 l-2.75,2.75 l-2.75,-2.75 z" fill="#fff" stroke="#80388a" stroke-width="1.0"/>
<path d="M480.32,797.56 L485.51,802.13 L490.37,809.66 L495.90,825.52 L501.63,850.53 L507.96,872.04 L514.83,889.25 L531.93,898.12 L539.97,905.65 L549.69,912.10 L560.41,916.40 L577.50,916.40 L594.93,910.76 L611.01,901.62 L628.11,888.44 L641.75,877.69 L662.96,855.91 L681.59,842.46 L695.80,827.68 L704.65,815.04 L711.55,806.17 L725.29,794.33 L736.02,781.43 L743.05,770.14 L743.05,763.68" fill="none" stroke="#5a64b4" stroke-width="0.9"/>
<path d="M514.83,889.25 L532.26,904.30 L540.97,911.83 L551.36,919.90 L557.06,924.20 L571.13,926.35 L591.58,924.20 L607.66,919.09 L625.76,912.64 L644.19,905.11 L665.64,892.74 L681.59,880.64 L701.50,867.20 L717.92,852.95 L740.37,840.31 L744.73,836.28" fill="none" stroke="#5a64b4" stroke-width="0.9"/>
<path d="M477.30,793.26 L477.60,793.20 L477.98,793.11 L478.43,793.00 L478.93,792.87 L479.48,792.74 L480.05,792.60 L480.65,792.48 L481.25,792.36 L481.85,792.27 L482.43,792.20 L482.99,792.17 L483.50,792.18 L483.98,792.22 L484.46,792.27 L484.93,792.33 L485.40,792.40 L485.86,792.50 L486.32,792.62 L486.77,792.77 L487.22,792.95 L487.67,793.17 L488.13,793.42 L488.58,793.72 L489.03,794.07 L489.49,794.46 L489.96,794.91 L490.43,795.41 L490.91,795.95 L491.38,796.52 L491.85,797.12 L492.32,797.75 L492.77,798.40 L493.21,799.06 L493.62,799.72 L494.02,800.39 L494.39,801.06 L494.74,801.73 L495.06,802.43 L495.36,803.15 L495.65,803.88 L495.92,804.63 L496.17,805.39 L496.42,806.16 L496.66,806.92 L496.90,807.69 L497.13,808.44 L497.37,809.19 L497.61,809.93 L497.84,810.65 L498.07,811.38 L498.29,812.09 L498.50,812.81 L498.71,813.52 L498.92,814.23 L499.12,814.94 L499.33,815.66 L499.54,816.37 L499.75,817.09 L499.96,817.81 L500.19,818.53 L500.42,819.26 L500.66,820.00 L500.90,820.74 L501.15,821.48 L501.40,822.22 L501.65,822.97 L501.90,823.71 L502.15,824.46 L502.40,825.20 L502.64,825.94 L502.87,826.68 L503.10,827.41 L503.33,828.12 L503.55,828.82 L503.76,829.51 L503.97,830.19 L504.18,830.87 L504.38,831.56 L504.59,832.25 L504.79,832.95 L504.99,833.68 L505.20,834.42 L505.41,835.20 L505.62,836.01 L505.83,836.87 L506.05,837.77 L506.26,838.71 L506.48,839.67 L506.70,840.66 L506.92,841.66 L507.14,842.65 L507.36,843.64 L507.57,844.61 L507.78,845.55 L507.99,846.45 L508.20,847.30 L508.40,848.10 L508.59,848.85 L508.78,849.55 L508.96,850.23 L509.15,850.89 L509.33,851.54 L509.51,852.19 L509.70,852.86 L509.89,853.55 L510.09,854.29 L510.30,855.07 L510.51,855.91 L510.74,856.82 L510.97,857.79 L511.21,858.81 L511.45,859.87 L511.70,860.96 L511.96,862.06 L512.21,863.16 L512.47,864.25 L512.73,865.32 L512.99,866.36 L513.24,867.35 L513.49,868.28 L513.74,869.15 L513.99,869.99 L514.23,870.80 L514.48,871.58 L514.72,872.34 L514.97,873.08 L515.22,873.81 L515.47,874.53 L515.72,875.24 L515.98,875.96 L516.24,876.68 L516.51,877.42 L516.78,878.16 L517.06,878.90 L517.34,879.64 L517.62,880.37 L517.90,881.11 L518.19,881.84 L518.48,882.56 L518.78,883.27 L519.07,883.98 L519.38,884.67 L519.68,885.35 L519.99,886.02 L520.31,886.68 L520.62,887.32 L520.94,887.96 L521.25,888.59 L521.57,889.21 L521.90,889.82 L522.23,890.42 L522.57,891.01 L522.92,891.59 L523.27,892.16 L523.64,892.73 L524.02,893.28 L524.41,893.83 L524.81,894.37 L525.22,894.90 L525.64,895.42 L526.07,895.94 L526.51,896.44 L526.95,896.93 L527.40,897.41 L527.85,897.88 L528.30,898.33 L528.76,898.77 L529.21,899.20 L529.67,899.60 L530.13,900.00 L530.61,900.38 L531.08,900.75 L531.56,901.11 L532.04,901.45 L532.52,901.78 L533.01,902.09 L533.49,902.40 L533.98,902.69 L534.46,902.96 L534.94,903.23 L535.43,903.48 L535.92,903.70 L536.41,903.91 L536.92,904.11 L537.42,904.29 L537.91,904.46 L538.41,904.62 L538.89,904.77 L539.37,904.92 L539.83,905.07 L540.28,905.23 L540.71,905.38 L541.11,905.53 L541.50,905.67 L541.87,905.81 L542.23,905.94 L542.58,906.06 L542.92,906.19 L543.25,906.31 L543.59,906.44 L543.93,906.56 L544.27,906.70 L544.63,906.84 L545.00,906.99 L545.36,907.15 L545.70,907.31 L546.03,907.47 L546.36,907.64 L546.68,907.81 L547.02,907.98 L547.38,908.16 L547.76,908.35 L548.17,908.54 L548.63,908.73 L549.13,908.94 L549.69,909.14 L550.30,909.37 L550.98,909.60 L551.70,909.85 L552.47,910.10 L553.27,910.36 L554.09,910.62 L554.93,910.89 L555.77,911.15 L556.62,911.40 L557.45,911.65 L558.27,911.88 L559.07,912.10 L559.86,912.31 L560.65,912.52 L561.45,912.73 L562.25,912.93 L563.05,913.12 L563.85,913.31 L564.64,913.49 L565.42,913.67 L566.20,913.83 L566.96,913.98 L567.70,914.12 L568.42,914.25 L569.12,914.37 L569.80,914.48 L570.47,914.58 L571.12,914.67 L571.76,914.75 L572.39,914.82 L573.02,914.89 L573.64,914.94 L574.27,914.98 L574.89,915.02 L575.52,915.04 L576.16,915.06 L576.80,915.07 L577.43,915.07 L578.05,915.06 L578.67,915.05 L579.29,915.03 L579.91,914.99 L580.54,914.95 L581.18,914.89 L581.83,914.82 L582.49,914.74 L583.17,914.64 L583.87,914.52 L584.59,914.39 L585.34,914.24 L586.10,914.08 L586.87,913.90 L587.66,913.71 L588.46,913.51 L589.26,913.30 L590.06,913.08 L590.87,912.85 L591.67,912.60 L592.47,912.36 L593.25,912.10 L594.04,911.84 L594.82,911.56 L595.60,911.27 L596.38,910.98 L597.17,910.67 L597.95,910.35 L598.73,910.03 L599.52,909.70 L600.30,909.37 L601.08,909.03 L601.86,908.68 L602.64,908.34 L603.42,907.99 L604.20,907.63 L604.98,907.28 L605.76,906.91 L606.54,906.54 L607.31,906.17 L608.09,905.79 L608.86,905.40 L609.63,905.00 L610.40,904.60 L611.16,904.19 L611.92,903.77 L612.67,903.33 L613.40,902.88 L614.12,902.42 L614.83,901.94 L615.55,901.46 L616.26,900.98 L616.97,900.49 L617.70,900.00 L618.43,899.52 L619.18,899.04 L619.95,898.58 L620.73,898.12 L621.54,897.67 L622.37,897.23 L623.22,896.79 L624.08,896.35 L624.95,895.91 L625.83,895.48 L626.71,895.06 L627.60,894.63 L628.49,894.22 L629.37,893.81 L630.25,893.41 L631.12,893.01 L631.99,892.62 L632.86,892.24 L633.72,891.87 L634.59,891.51 L635.46,891.15 L636.32,890.79 L637.19,890.44 L638.06,890.09 L638.92,889.75 L639.79,889.40 L640.65,889.06 L641.51,888.71 L642.37,888.36 L643.23,888.02 L644.09,887.68 L644.94,887.34 L645.80,887.00 L646.65,886.66 L647.51,886.32 L648.36,885.99 L649.22,885.66 L650.08,885.33 L650.94,885.00 L651.80,884.68 L652.66,884.36 L653.53,884.04 L654.40,883.74 L655.27,883.43 L656.14,883.13 L657.01,882.83 L657.88,882.52 L658.75,882.22 L659.62,881.90 L660.49,881.58 L661.36,881.25 L662.22,880.91 L663.09,880.55 L663.98,880.18 L664.88,879.79 L665.78,879.39 L666.67,878.98 L667.57,878.58 L668.45,878.17 L669.31,877.78 L670.16,877.39 L670.98,877.02 L671.76,876.67 L672.51,876.34 L673.20,876.06 L673.82,875.82 L674.38,875.61 L674.90,875.44 L675.41,875.27 L675.91,875.10 L676.42,874.92 L676.95,874.71 L677.54,874.46 L678.18,874.17 L678.88,873.82 M682.06,872.05 L682.74,871.65 L683.90,870.96 L685.10,870.24 L686.33,869.49 L687.56,868.72 L688.79,867.95 L690.00,867.18 L691.17,866.44 L692.28,865.72 L693.32,865.05 L694.29,864.41 L695.23,863.79 L696.12,863.18 L696.99,862.59 L697.84,862.00 L698.66,861.42 L699.48,860.84 L700.29,860.25 L701.11,859.65 L701.93,859.05 L702.76,858.43 L703.61,857.79 L704.47,857.14 L705.34,856.47 L706.21,855.81 L707.08,855.13 L707.94,854.45 L708.81,853.76 L709.69,853.06 L710.56,852.35 L711.43,851.64 L712.30,850.92 L713.16,850.19 L714.03,849.45 L714.90,848.71 L715.77,847.96 L716.64,847.20 L717.50,846.43 L718.37,845.65 L719.24,844.87 L720.10,844.08 L720.97,843.28 L721.83,842.48 L722.70,841.67 L723.56,840.86 L724.42,840.04 L725.28,839.23 L726.13,838.42 L726.98,837.60 L727.83,836.79 L728.68,835.97 L729.53,835.14 L730.38,834.30 L731.23,833.44 L732.08,832.57 L732.94,831.68 L733.81,830.76 L734.68,829.83 L735.59,828.82 L736.56,827.71 L737.58,826.54 L738.61,825.32 L739.65,824.09 L740.68,822.87 L741.67,821.68 L742.60,820.55 L743.46,819.52 L744.23,818.59 L744.88,817.81 L745.40,817.19" fill="none" stroke="#d81e1e" stroke-width="1"/>
<path d="M477.30 793.26h0M477.77 793.16h0M478.24 793.04h0M478.71 792.93h0M479.18 792.81h0M479.65 792.70h0M480.12 792.59h0M480.58 792.49h0M481.05 792.40h0M481.52 792.32h0M481.99 792.25h0M482.46 792.20h0M482.93 792.18h0M483.40 792.18h0M483.87 792.21h0M484.34 792.25h0M484.81 792.31h0M485.28 792.38h0M485.75 792.48h0M486.21 792.59h0M486.68 792.74h0M487.15 792.92h0M487.62 793.14h0M488.09 793.40h0M488.56 793.71h0M489.03 794.07h0M489.50 794.47h0M489.97 794.92h0M490.44 795.42h0M490.91 795.95h0M491.38 796.51h0M491.84 797.11h0M492.31 797.75h0M492.78 798.42h0M493.25 799.13h0M493.72 799.89h0M494.19 800.70h0M494.66 801.58h0M495.13 802.60h0M495.60 803.76h0M496.07 805.08h0M496.54 806.52h0M497.01 808.03h0M497.47 809.52h0M497.94 810.97h0M498.41 812.50h0M498.88 814.11h0M499.35 815.74h0M499.82 817.33h0M500.29 818.85h0M500.76 820.30h0M501.23 821.71h0M501.70 823.11h0M502.17 824.51h0M502.64 825.93h0M503.10 827.41h0M503.57 828.91h0M504.04 830.43h0M504.51 832.00h0M504.98 833.63h0M505.45 835.37h0M505.92 837.23h0M506.39 839.26h0M506.86 841.37h0M507.33 843.51h0M507.80 845.60h0M508.27 847.57h0M508.73 849.39h0M509.20 851.09h0M509.67 852.76h0M510.14 854.49h0M510.61 856.31h0M511.08 858.26h0M511.55 860.29h0M512.02 862.32h0M512.49 864.32h0M512.96 866.24h0M513.43 868.03h0M513.90 869.67h0M514.36 871.22h0M514.83 872.67h0M515.30 874.05h0M515.77 875.39h0M516.24 876.68h0M516.71 877.96h0M517.18 879.22h0M517.65 880.46h0M518.12 881.66h0M518.59 882.82h0M519.06 883.93h0M519.53 885.00h0M519.99 886.02h0M520.46 887.00h0M520.93 887.96h0M521.40 888.88h0M521.87 889.77h0M522.34 890.61h0M522.81 891.41h0M523.28 892.17h0M523.75 892.89h0M524.22 893.56h0M524.69 894.20h0M525.16 894.82h0M525.63 895.40h0M526.09 895.96h0M526.56 896.50h0M527.03 897.02h0M527.50 897.52h0M527.97 898.00h0M528.44 898.47h0M528.91 898.92h0M529.38 899.34h0M529.85 899.76h0M530.32 900.15h0M530.79 900.52h0M531.26 900.88h0M531.72 901.22h0M532.19 901.55h0M532.66 901.87h0M533.13 902.17h0M533.60 902.46h0M534.07 902.74h0M534.54 903.01h0M535.01 903.26h0M535.48 903.50h0M535.95 903.72h0M536.42 903.91h0M536.89 904.09h0M537.35 904.26h0M537.82 904.43h0M538.29 904.58h0M538.76 904.73h0M539.23 904.88h0M539.70 905.03h0M540.17 905.19h0M540.64 905.36h0M541.11 905.53h0M541.58 905.70h0M542.05 905.87h0M542.52 906.04h0M542.98 906.21h0M543.45 906.38h0M543.92 906.56h0M544.39 906.75h0M544.86 906.94h0M545.33 907.14h0M545.80 907.36h0M546.27 907.60h0M546.74 907.84h0M547.21 908.08h0M547.68 908.31h0M548.15 908.52h0M548.61 908.73h0M549.08 908.92h0M549.55 909.09h0M550.02 909.26h0M550.49 909.43h0M550.96 909.59h0M551.43 909.75h0M551.90 909.91h0M552.37 910.07h0M552.84 910.22h0M553.31 910.37h0M553.78 910.52h0M554.24 910.67h0M554.71 910.82h0M555.18 910.97h0M555.65 911.11h0M556.12 911.25h0M556.59 911.39h0M557.06 911.53h0M557.53 911.67h0M558.00 911.80h0M558.47 911.93h0M558.94 912.06h0M559.41 912.19h0M559.87 912.32h0M560.34 912.44h0M560.81 912.56h0M561.28 912.69h0M561.75 912.80h0M562.22 912.92h0M562.69 913.04h0M563.16 913.15h0M563.63 913.26h0M564.10 913.37h0M564.57 913.48h0M565.04 913.58h0M565.50 913.68h0M565.97 913.78h0M566.44 913.88h0M566.91 913.97h0M567.38 914.06h0M567.85 914.15h0M568.32 914.23h0M568.79 914.32h0M569.26 914.39h0M569.73 914.47h0M570.20 914.54h0M570.67 914.61h0M571.13 914.67h0M571.60 914.73h0M572.07 914.79h0M572.54 914.84h0M573.01 914.89h0M573.48 914.93h0M573.95 914.96h0M574.42 914.99h0M574.89 915.02h0M575.36 915.04h0M575.83 915.05h0M576.30 915.06h0M576.77 915.07h0M577.23 915.07h0M577.70 915.07h0M578.17 915.06h0M578.64 915.05h0M579.11 915.03h0M579.58 915.01h0M580.05 914.98h0M580.52 914.95h0M580.99 914.91h0M581.46 914.86h0M581.93 914.81h0M582.40 914.75h0M582.86 914.68h0M583.33 914.61h0M583.80 914.53h0M584.27 914.45h0M584.74 914.36h0M585.21 914.27h0M585.68 914.17h0M586.15 914.07h0M586.62 913.96h0M587.09 913.85h0M587.56 913.74h0M588.03 913.62h0M588.49 913.50h0M588.96 913.38h0M589.43 913.25h0M589.90 913.12h0M590.37 912.99h0M590.84 912.85h0M591.31 912.71h0M591.78 912.57h0M592.25 912.42h0M592.72 912.28h0M593.19 912.12h0M593.66 911.97h0M594.12 911.81h0M594.59 911.64h0M595.06 911.47h0M595.53 911.30h0M596.00 911.12h0M596.47 910.94h0M596.94 910.76h0M597.41 910.57h0M597.88 910.38h0M598.35 910.19h0M598.82 910.00h0M599.29 909.80h0M599.75 909.60h0M600.22 909.40h0M600.69 909.20h0M601.16 908.99h0M601.63 908.78h0M602.10 908.58h0M602.57 908.37h0M603.04 908.16h0M603.51 907.95h0M603.98 907.73h0M604.45 907.52h0M604.92 907.30h0M605.38 907.09h0M605.85 906.87h0M606.32 906.65h0M606.79 906.42h0M607.26 906.20h0M607.73 905.97h0M608.20 905.73h0M608.67 905.50h0M609.14 905.26h0M609.61 905.02h0M610.08 904.77h0M610.55 904.52h0M611.01 904.27h0M611.48 904.01h0M611.95 903.75h0M612.42 903.47h0M612.89 903.19h0M613.36 902.90h0M613.83 902.60h0M614.30 902.30h0M614.77 901.99h0M615.24 901.67h0M615.71 901.35h0M616.18 901.03h0M616.64 900.71h0M617.11 900.39h0M617.58 900.08h0M618.05 899.77h0M618.52 899.46h0M618.99 899.16h0M619.46 898.87h0M619.93 898.59h0M620.40 898.31h0M620.87 898.05h0M621.34 897.79h0M621.81 897.53h0M622.28 897.28h0M622.74 897.03h0M623.21 896.79h0M623.68 896.55h0M624.15 896.31h0M624.62 896.08h0M625.09 895.84h0M625.56 895.61h0M626.03 895.39h0M626.50 895.16h0M626.97 894.94h0M627.44 894.71h0M627.91 894.49h0M628.37 894.27h0M628.84 894.06h0M629.31 893.84h0M629.78 893.62h0M630.25 893.41h0M630.72 893.19h0M631.19 892.98h0M631.66 892.77h0M632.13 892.56h0M632.60 892.36h0M633.07 892.15h0M633.54 891.95h0M634.00 891.75h0M634.47 891.56h0M634.94 891.36h0M635.41 891.17h0M635.88 890.97h0M636.35 890.78h0M636.82 890.59h0M637.29 890.40h0M637.76 890.21h0M638.23 890.03h0M638.70 889.84h0M639.17 889.65h0M639.63 889.46h0M640.10 889.27h0M640.57 889.09h0M641.04 888.90h0M641.51 888.71h0M641.98 888.52h0M642.45 888.33h0M642.92 888.14h0M643.39 887.96h0M643.86 887.77h0M644.33 887.58h0M644.80 887.39h0M645.26 887.21h0M645.73 887.02h0M646.20 886.84h0M646.67 886.65h0M647.14 886.47h0M647.61 886.28h0M648.08 886.10h0M648.55 885.92h0M649.02 885.74h0M649.49 885.56h0M649.96 885.38h0M650.43 885.20h0M650.89 885.02h0M651.36 884.84h0M651.83 884.66h0M652.30 884.49h0M652.77 884.32h0M653.24 884.15h0M653.71 883.98h0M654.18 883.81h0M654.65 883.65h0M655.12 883.48h0M655.59 883.32h0M656.06 883.16h0M656.52 883.00h0M656.99 882.83h0M657.46 882.67h0M657.93 882.51h0M658.40 882.34h0M658.87 882.17h0M659.34 882.01h0M659.81 881.84h0M660.28 881.66h0M660.75 881.49h0M661.22 881.31h0M661.69 881.12h0M662.15 880.94h0M662.62 880.75h0M663.09 880.55h0M663.56 880.36h0M664.03 880.16h0M664.50 879.95h0M664.97 879.75h0M665.44 879.54h0M665.91 879.33h0M666.38 879.12h0M666.85 878.90h0M667.32 878.69h0M667.79 878.48h0M668.25 878.26h0M668.72 878.05h0M669.19 877.83h0M669.66 877.62h0M670.13 877.40h0M670.60 877.19h0M671.07 876.98h0M671.54 876.77h0M672.01 876.56h0M672.48 876.36h0M672.95 876.16h0M673.42 875.97h0M673.88 875.79h0M674.35 875.62h0M674.82 875.46h0M675.29 875.31h0M675.76 875.15h0M676.23 874.98h0M676.70 874.81h0M677.17 874.62h0M677.64 874.42h0M678.11 874.20h0M678.58 873.97h0M682.33 871.90h0M682.80 871.62h0M683.27 871.34h0M683.74 871.06h0M684.21 870.78h0M684.68 870.49h0M685.14 870.21h0M685.61 869.92h0M686.08 869.63h0M686.55 869.34h0M687.02 869.05h0M687.49 868.76h0M687.96 868.47h0M688.43 868.18h0M688.90 867.88h0M689.37 867.59h0M689.84 867.29h0M690.31 866.99h0M690.77 866.69h0M691.24 866.39h0M691.71 866.09h0M692.18 865.79h0M692.65 865.48h0M693.12 865.18h0M693.59 864.87h0M694.06 864.56h0M694.53 864.25h0M695.00 863.94h0M695.47 863.63h0M695.94 863.31h0M696.40 862.99h0M696.87 862.67h0M697.34 862.35h0M697.81 862.02h0M698.28 861.69h0M698.75 861.36h0M699.22 861.02h0M699.69 860.69h0M700.16 860.35h0M700.63 860.00h0M701.10 859.66h0M701.57 859.31h0M702.03 858.97h0M702.50 858.62h0M702.97 858.27h0M703.44 857.91h0M703.91 857.56h0M704.38 857.21h0M704.85 856.85h0M705.32 856.49h0M705.79 856.13h0M706.26 855.77h0M706.73 855.40h0M707.20 855.04h0M707.66 854.67h0M708.13 854.30h0M708.60 853.92h0M709.07 853.55h0M709.54 853.17h0M710.01 852.79h0M710.48 852.41h0M710.95 852.03h0M711.42 851.64h0M711.89 851.26h0M712.36 850.87h0M712.83 850.47h0M713.30 850.08h0M713.76 849.68h0M714.23 849.28h0M714.70 848.88h0M715.17 848.47h0M715.64 848.07h0M716.11 847.66h0M716.58 847.24h0M717.05 846.83h0M717.52 846.41h0M717.99 845.99h0M718.46 845.57h0M718.93 845.15h0M719.39 844.72h0M719.86 844.30h0M720.33 843.87h0M720.80 843.43h0M721.27 843.00h0M721.74 842.57h0M722.21 842.13h0M722.68 841.69h0M723.15 841.25h0M723.62 840.81h0M724.09 840.36h0M724.56 839.92h0M725.02 839.47h0M725.49 839.02h0M725.96 838.58h0M726.43 838.13h0M726.90 837.68h0M727.37 837.23h0M727.84 836.78h0M728.31 836.33h0M728.78 835.87h0M729.25 835.41h0M729.72 834.95h0M730.19 834.49h0M730.65 834.02h0M731.12 833.55h0M731.59 833.07h0M732.06 832.59h0M732.53 832.10h0M733.00 831.62h0M733.47 831.12h0M733.94 830.62h0M734.41 830.12h0M734.88 829.60h0M735.35 829.08h0M735.82 828.56h0M736.28 828.03h0M736.75 827.49h0M737.22 826.95h0M737.69 826.40h0M738.16 825.85h0M738.63 825.30h0M739.10 824.75h0M739.57 824.19h0M740.04 823.63h0M740.51 823.07h0M740.98 822.51h0M741.45 821.95h0M741.91 821.38h0M742.38 820.82h0M742.85 820.25h0M743.32 819.69h0M743.79 819.12h0M744.26 818.55h0M744.73 817.99h0M745.20 817.43h0" fill="none" stroke="#d81e1e" stroke-width="2.30" stroke-linecap="round"/>
<path d="M527.23,912.10 L544.33,918.02 L561.42,925.01 L577.84,922.05 L594.59,918.02 L611.35,908.88 L628.11,899.73 L644.53,891.40" fill="none" stroke="#58e458" stroke-width="1"/>
<path d="M480.32,794.46 l3.10,3.10 l-3.10,3.10 l-3.10,-3.10 z" fill="#0c0ca0" stroke="none" stroke-width="0"/>
<path d="M485.51,799.03 l3.10,3.10 l-3.10,3.10 l-3.10,-3.10 z" fill="#0c0ca0" stroke="none" stroke-width="0"/>
<path d="M490.37,806.56 l3.10,3.10 l-3.10,3.10 l-3.10,-3.10 z" fill="#0c0ca0" stroke="none" stroke-width="0"/>
<path d="M495.90,822.42 l3.10,3.10 l-3.10,3.10 l-3.10,-3.10 z" fill="#0c0ca0" stroke="none" stroke-width="0"/>
<path d="M501.63,847.43 l3.10,3.10 l-3.10,3.10 l-3.10,-3.10 z" fill="#0c0ca0" stroke="none" stroke-width="0"/>
<path d="M507.96,868.94 l3.10,3.10 l-3.10,3.10 l-3.10,-3.10 z" fill="#0c0ca0" stroke="none" stroke-width="0"/>
<path d="M514.83,886.15 l3.10,3.10 l-3.10,3.10 l-3.10,-3.10 z" fill="#0c0ca0" stroke="none" stroke-width="0"/>
<path d="M531.93,895.02 l3.10,3.10 l-3.10,3.10 l-3.10,-3.10 z" fill="#0c0ca0" stroke="none" stroke-width="0"/>
<path d="M539.97,902.55 l3.10,3.10 l-3.10,3.10 l-3.10,-3.10 z" fill="#0c0ca0" stroke="none" stroke-width="0"/>
<path d="M549.69,909.00 l3.10,3.10 l-3.10,3.10 l-3.10,-3.10 z" fill="#0c0ca0" stroke="none" stroke-width="0"/>
<path d="M560.41,913.30 l3.10,3.10 l-3.10,3.10 l-3.10,-3.10 z" fill="#0c0ca0" stroke="none" stroke-width="0"/>
<path d="M577.50,913.30 l3.10,3.10 l-3.10,3.10 l-3.10,-3.10 z" fill="#0c0ca0" stroke="none" stroke-width="0"/>
<path d="M594.93,907.66 l3.10,3.10 l-3.10,3.10 l-3.10,-3.10 z" fill="#0c0ca0" stroke="none" stroke-width="0"/>
<path d="M611.01,898.52 l3.10,3.10 l-3.10,3.10 l-3.10,-3.10 z" fill="#0c0ca0" stroke="none" stroke-width="0"/>
<path d="M628.11,885.34 l3.10,3.10 l-3.10,3.10 l-3.10,-3.10 z" fill="#0c0ca0" stroke="none" stroke-width="0"/>
<path d="M641.75,874.59 l3.10,3.10 l-3.10,3.10 l-3.10,-3.10 z" fill="#0c0ca0" stroke="none" stroke-width="0"/>
<path d="M662.96,852.81 l3.10,3.10 l-3.10,3.10 l-3.10,-3.10 z" fill="#0c0ca0" stroke="none" stroke-width="0"/>
<path d="M681.59,839.36 l3.10,3.10 l-3.10,3.10 l-3.10,-3.10 z" fill="#0c0ca0" stroke="none" stroke-width="0"/>
<path d="M695.80,824.58 l3.10,3.10 l-3.10,3.10 l-3.10,-3.10 z" fill="#0c0ca0" stroke="none" stroke-width="0"/>
<path d="M704.65,811.94 l3.10,3.10 l-3.10,3.10 l-3.10,-3.10 z" fill="#0c0ca0" stroke="none" stroke-width="0"/>
<path d="M711.55,803.07 l3.10,3.10 l-3.10,3.10 l-3.10,-3.10 z" fill="#0c0ca0" stroke="none" stroke-width="0"/>
<path d="M725.29,791.23 l3.10,3.10 l-3.10,3.10 l-3.10,-3.10 z" fill="#0c0ca0" stroke="none" stroke-width="0"/>
<path d="M736.02,778.33 l3.10,3.10 l-3.10,3.10 l-3.10,-3.10 z" fill="#0c0ca0" stroke="none" stroke-width="0"/>
<path d="M743.05,767.04 l3.10,3.10 l-3.10,3.10 l-3.10,-3.10 z" fill="#0c0ca0" stroke="none" stroke-width="0"/>
<path d="M743.05,760.58 l3.10,3.10 l-3.10,3.10 l-3.10,-3.10 z" fill="#0c0ca0" stroke="none" stroke-width="0"/>
<path d="M532.26,901.20 l3.10,3.10 l-3.10,3.10 l-3.10,-3.10 z" fill="#0c0ca0" stroke="none" stroke-width="0"/>
<path d="M540.97,908.73 l3.10,3.10 l-3.10,3.10 l-3.10,-3.10 z" fill="#0c0ca0" stroke="none" stroke-width="0"/>
<path d="M551.36,916.80 l3.10,3.10 l-3.10,3.10 l-3.10,-3.10 z" fill="#0c0ca0" stroke="none" stroke-width="0"/>
<path d="M557.06,921.10 l3.10,3.10 l-3.10,3.10 l-3.10,-3.10 z" fill="#0c0ca0" stroke="none" stroke-width="0"/>
<path d="M571.13,923.25 l3.10,3.10 l-3.10,3.10 l-3.10,-3.10 z" fill="#0c0ca0" stroke="none" stroke-width="0"/>
<path d="M591.58,921.10 l3.10,3.10 l-3.10,3.10 l-3.10,-3.10 z" fill="#0c0ca0" stroke="none" stroke-width="0"/>
<path d="M607.66,915.99 l3.10,3.10 l-3.10,3.10 l-3.10,-3.10 z" fill="#0c0ca0" stroke="none" stroke-width="0"/>
<path d="M625.76,909.54 l3.10,3.10 l-3.10,3.10 l-3.10,-3.10 z" fill="#0c0ca0" stroke="none" stroke-width="0"/>
<path d="M644.19,902.01 l3.10,3.10 l-3.10,3.10 l-3.10,-3.10 z" fill="#0c0ca0" stroke="none" stroke-width="0"/>
<path d="M665.64,889.64 l3.10,3.10 l-3.10,3.10 l-3.10,-3.10 z" fill="#0c0ca0" stroke="none" stroke-width="0"/>
<path d="M681.59,877.54 l3.10,3.10 l-3.10,3.10 l-3.10,-3.10 z" fill="#0c0ca0" stroke="none" stroke-width="0"/>
<path d="M701.50,864.10 l3.10,3.10 l-3.10,3.10 l-3.10,-3.10 z" fill="#0c0ca0" stroke="none" stroke-width="0"/>
<path d="M717.92,849.85 l3.10,3.10 l-3.10,3.10 l-3.10,-3.10 z" fill="#0c0ca0" stroke="none" stroke-width="0"/>
<path d="M740.37,837.21 l3.10,3.10 l-3.10,3.10 l-3.10,-3.10 z" fill="#0c0ca0" stroke="none" stroke-width="0"/>
<path d="M527.23,909.10 L530.33,914.10 L524.13,914.10 z" fill="#22e022"/>
<path d="M544.33,915.02 L547.43,920.02 L541.23,920.02 z" fill="#22e022"/>
<path d="M561.42,922.01 L564.52,927.01 L558.32,927.01 z" fill="#22e022"/>
<path d="M577.84,919.05 L580.94,924.05 L574.74,924.05 z" fill="#22e022"/>
<path d="M594.59,915.02 L597.69,920.02 L591.49,920.02 z" fill="#22e022"/>
<path d="M611.35,905.88 L614.45,910.88 L608.25,910.88 z" fill="#22e022"/>
<path d="M628.11,896.73 L631.21,901.73 L625.01,901.73 z" fill="#22e022"/>
<path d="M644.53,888.40 L647.63,893.40 L641.43,893.40 z" fill="#22e022"/>
<line x1="477.30" y1="733.30" x2="477.30" y2="951.90" stroke="#333" stroke-width="1.2"/>
<line x1="473.80" y1="948.40" x2="745.40" y2="948.40" stroke="#333" stroke-width="1.3"/>
<line x1="473.30" y1="733.30" x2="477.30" y2="733.30" stroke="#333" stroke-width="1.2"/>
<line x1="473.30" y1="787.07" x2="477.30" y2="787.07" stroke="#333" stroke-width="1.2"/>
<line x1="473.30" y1="840.85" x2="477.30" y2="840.85" stroke="#333" stroke-width="1.2"/>
<line x1="473.30" y1="894.62" x2="477.30" y2="894.62" stroke="#333" stroke-width="1.2"/>
<line x1="473.30" y1="948.40" x2="477.30" y2="948.40" stroke="#333" stroke-width="1.2"/>
<line x1="475.10" y1="760.19" x2="477.30" y2="760.19" stroke="#333" stroke-width="1.2"/>
<line x1="475.10" y1="813.96" x2="477.30" y2="813.96" stroke="#333" stroke-width="1.2"/>
<line x1="475.10" y1="867.74" x2="477.30" y2="867.74" stroke="#333" stroke-width="1.2"/>
<line x1="475.10" y1="921.51" x2="477.30" y2="921.51" stroke="#333" stroke-width="1.2"/>
<line x1="477.30" y1="948.40" x2="477.30" y2="952.40" stroke="#333" stroke-width="1.2"/>
<line x1="544.33" y1="948.40" x2="544.33" y2="952.40" stroke="#333" stroke-width="1.2"/>
<line x1="611.35" y1="948.40" x2="611.35" y2="952.40" stroke="#333" stroke-width="1.2"/>
<line x1="678.38" y1="948.40" x2="678.38" y2="952.40" stroke="#333" stroke-width="1.2"/>
<line x1="745.40" y1="948.40" x2="745.40" y2="952.40" stroke="#333" stroke-width="1.2"/>
<line x1="510.81" y1="948.40" x2="510.81" y2="950.60" stroke="#333" stroke-width="1.2"/>
<line x1="577.84" y1="948.40" x2="577.84" y2="950.60" stroke="#333" stroke-width="1.2"/>
<line x1="644.86" y1="948.40" x2="644.86" y2="950.60" stroke="#333" stroke-width="1.2"/>
<line x1="711.89" y1="948.40" x2="711.89" y2="950.60" stroke="#333" stroke-width="1.2"/>
<text transform="translate(470.85,739.80) scale(0.9450,1.0700)" font-size="18.00" text-anchor="end">8</text>
<text transform="translate(470.85,793.58) scale(0.9450,1.0700)" font-size="18.00" text-anchor="end">6</text>
<text transform="translate(470.85,847.35) scale(0.9450,1.0700)" font-size="18.00" text-anchor="end">4</text>
<text transform="translate(470.85,901.13) scale(0.9450,1.0700)" font-size="18.00" text-anchor="end">2</text>
<text transform="translate(470.85,954.90) scale(0.9450,1.0700)" font-size="18.00" text-anchor="end">0</text>
<text transform="translate(475.80,970.70) scale(0.9450,1.0700)" font-size="18.00" text-anchor="middle">400</text>
<text transform="translate(542.83,970.70) scale(0.9450,1.0700)" font-size="18.00" text-anchor="middle">600</text>
<text transform="translate(609.85,970.70) scale(0.9450,1.0700)" font-size="18.00" text-anchor="middle">800</text>
<text transform="translate(676.88,970.70) scale(0.9450,1.0700)" font-size="18.00" text-anchor="middle">1000</text>
<text transform="translate(743.90,970.70) scale(0.9450,1.0700)" font-size="18.00" text-anchor="middle">1200</text>
<text transform="translate(612.20,991.40) scale(0.9450,1.0700)" font-size="18.00" text-anchor="middle">Wavelength(nm)</text>
<text transform="translate(456.00,840.40) rotate(-90) scale(1.0400,0.9450)" font-size="18" text-anchor="middle">Imaginary part</text>
<text x="603.90" y="1029.80" font-size="19.5" text-anchor="middle">(<tspan font-weight="bold">f</tspan>)</text>
<rect x="507.30" y="733.10" width="119.30" height="83.90" fill="#fff" stroke="#8a8a8a" stroke-width="1"/>
<line x1="509.40" y1="744.30" x2="543.20" y2="744.30" stroke="#80388a" stroke-width="1"/>
<path d="M526.30,741.55 l2.75,2.75 l-2.75,2.75 l-2.75,-2.75 z" fill="#fff" stroke="#80388a" stroke-width="1.0"/>
<text transform="translate(547.50,750.12) scale(0.9450,1.0700)" font-size="16.00" text-anchor="start">L-Drude</text>
<line x1="509.40" y1="764.40" x2="543.20" y2="764.40" stroke="#5a64b4" stroke-width="1"/>
<path d="M526.30,761.30 l3.10,3.10 l-3.10,3.10 l-3.10,-3.10 z" fill="#0c0ca0" stroke="none" stroke-width="0"/>
<text transform="translate(547.50,770.22) scale(0.9450,1.0700)" font-size="16.00" text-anchor="start">Christy</text>
<line x1="509.40" y1="784.70" x2="543.20" y2="784.70" stroke="#58e458" stroke-width="1"/>
<path d="M526.30,781.70 L529.40,786.70 L523.20,786.70 z" fill="#22e022"/>
<text transform="translate(547.50,790.52) scale(0.9450,1.0700)" font-size="16.00" text-anchor="start">SPR</text>
<line x1="509.40" y1="805.10" x2="543.20" y2="805.10" stroke="#e06060" stroke-width="1"/>
<circle cx="526.30" cy="805.10" r="0.9" fill="#c00"/>
<text transform="translate(547.50,810.92) scale(0.9450,1.0700)" font-size="16.00" text-anchor="start">Ellipsometer</text></g></svg></body></html>
